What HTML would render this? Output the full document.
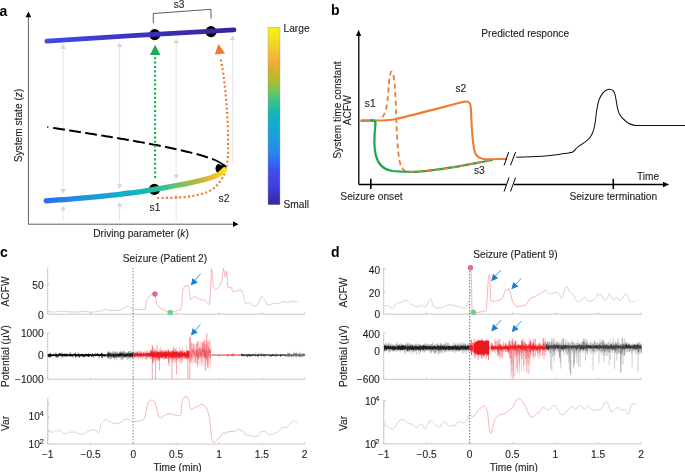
<!DOCTYPE html>
<html><head><meta charset="utf-8"><style>
html,body{margin:0;padding:0;background:#fff;width:685px;height:472px;overflow:hidden}
svg{display:block;font-family:"Liberation Sans", sans-serif;will-change:transform}
</style></head><body>
<svg width="685" height="472" viewBox="0 0 685 472">
<rect width="685" height="472" fill="#fff"/>
<text x="-0.5" y="15.8" font-size="14" text-anchor="start" font-weight="bold" fill="#000">a</text>
<line x1="28.4" y1="224" x2="28.4" y2="16" stroke="#606060" stroke-width="1"/>
<polygon points="25.6,17.2 28.4,11.6 31.2,17.2" fill="#000"/>
<line x1="28" y1="224.2" x2="234" y2="224.2" stroke="#606060" stroke-width="1"/>
<polygon points="233,221.3 238.6,224.2 233,227.1" fill="#000"/>
<text x="21.5" y="125.5" font-size="10.2" text-anchor="middle" font-weight="normal" fill="#231f20" stroke="#231f20" stroke-width="0.12" transform="rotate(-90 21.5 125.5)">System state (<tspan font-style="italic">z</tspan>)</text>
<text x="141" y="237.1" font-size="10.2" text-anchor="middle" font-weight="normal" fill="#231f20" stroke="#231f20" stroke-width="0.12">Driving parameter (<tspan font-style="italic">k</tspan>)</text>
<line x1="63.1" y1="48.1" x2="63.1" y2="189.7" stroke="#e6e6e6" stroke-width="1"/>
<polygon points="60.4,48.9 63.1,44.1 65.8,48.9" fill="#d6d6d6"/>
<polygon points="60.4,188.9 63.1,193.7 65.8,188.9" fill="#d6d6d6"/>
<line x1="63.1" y1="209.5" x2="63.1" y2="221" stroke="#e6e6e6" stroke-width="1"/>
<polygon points="60.4,210.3 63.1,205.5 65.8,210.3" fill="#d6d6d6"/>
<line x1="119.6" y1="46.2" x2="119.6" y2="184.9" stroke="#e6e6e6" stroke-width="1"/>
<polygon points="116.9,47 119.6,42.2 122.3,47" fill="#d6d6d6"/>
<polygon points="116.9,184.1 119.6,188.9 122.3,184.1" fill="#d6d6d6"/>
<line x1="119.6" y1="206" x2="119.6" y2="221" stroke="#e6e6e6" stroke-width="1"/>
<polygon points="116.9,206.8 119.6,202 122.3,206.8" fill="#d6d6d6"/>
<line x1="176.2" y1="42.5" x2="176.2" y2="175.2" stroke="#e6e6e6" stroke-width="1"/>
<polygon points="173.5,43.3 176.2,38.5 178.9,43.3" fill="#d6d6d6"/>
<polygon points="173.5,174.4 176.2,179.2 178.9,174.4" fill="#d6d6d6"/>
<line x1="176.2" y1="197.4" x2="176.2" y2="221" stroke="#e6e6e6" stroke-width="1"/>
<polygon points="173.5,198.2 176.2,193.4 178.9,198.2" fill="#d6d6d6"/>
<line x1="232.7" y1="39" x2="232.7" y2="163.5" stroke="#e6e6e6" stroke-width="1"/>
<polygon points="230,40.2 232.7,35.4 235.4,40.2" fill="#d6d6d6"/>
<defs>
<linearGradient id="gtop" gradientUnits="userSpaceOnUse" x1="46" y1="0" x2="234" y2="0">
<stop offset="0" stop-color="#3f4ae8"/><stop offset="0.5" stop-color="#3a32c0"/><stop offset="1" stop-color="#3a239c"/></linearGradient>
<linearGradient id="gbot" gradientUnits="userSpaceOnUse" x1="46" y1="0" x2="224" y2="0">
<stop offset="0" stop-color="#2a70f0"/><stop offset="0.19" stop-color="#2090e0"/><stop offset="0.36" stop-color="#14a8d0"/>
<stop offset="0.53" stop-color="#10b8b8"/><stop offset="0.61" stop-color="#28bca0"/><stop offset="0.7" stop-color="#50c080"/>
<stop offset="0.78" stop-color="#88c050"/><stop offset="0.865" stop-color="#c0b838"/><stop offset="0.93" stop-color="#f0b838"/>
<stop offset="1" stop-color="#f8e420"/></linearGradient>
<linearGradient id="gcb" x1="0" y1="0" x2="0" y2="1">
<stop offset="0" stop-color="#f5f514"/><stop offset="0.1" stop-color="#f0d428"/><stop offset="0.185" stop-color="#f6b038"/>
<stop offset="0.24" stop-color="#d8b02a"/><stop offset="0.3" stop-color="#b0bc30"/><stop offset="0.355" stop-color="#78c458"/>
<stop offset="0.4" stop-color="#48c480"/><stop offset="0.465" stop-color="#20b8a8"/><stop offset="0.52" stop-color="#10b0c8"/>
<stop offset="0.635" stop-color="#2098e0"/><stop offset="0.72" stop-color="#2a80f0"/><stop offset="0.8" stop-color="#4050f0"/>
<stop offset="0.89" stop-color="#4040e0"/><stop offset="0.96" stop-color="#3a30b8"/><stop offset="1" stop-color="#3828a0"/></linearGradient>
</defs>
<path d="M157.2 198 C175 198 195 197.5 209 191.4 C222 184 227 172 228 155 C229 120 225 80 220.5 57.5" fill="none" stroke="#ee7b30" stroke-width="2.2" stroke-dasharray="2 2.4"/>
<polygon points="214.7,54.6 218.5,44.1 225.1,53.4" fill="#ee7b30"/>
<circle cx="154.4" cy="189.4" r="5.6" fill="#000"/>
<circle cx="221" cy="168.5" r="5.5" fill="#000"/>
<circle cx="154.7" cy="34.6" r="5.6" fill="#000"/>
<circle cx="211" cy="31.6" r="5.6" fill="#000"/>
<path d="M47.40 127.00 47.93 127.09 48.26 127.14" fill="none" stroke="#000" stroke-width="2"/>
<path d="M53.18 127.92 53.87 128.03 54.56 128.13 55.27 128.25 56.00 128.36 56.74 128.47 57.49 128.59 58.26 128.71 59.04 128.83 59.83 128.95 60.63 129.08 61.45 129.20 62.28 129.33 63.12 129.46 63.97 129.59 64.84 129.73 64.84 129.73" fill="none" stroke="#000" stroke-width="2"/>
<path d="M69.16 130.39 70.09 130.53 71.03 130.68 71.98 130.83 72.94 130.98 73.91 131.13 74.89 131.28 75.89 131.43 76.89 131.59 77.90 131.75 78.91 131.90 79.94 132.06 80.87 132.21" fill="none" stroke="#000" stroke-width="2"/>
<path d="M85.20 132.89 86.28 133.06 87.36 133.23 88.45 133.40 89.55 133.57 90.66 133.75 91.77 133.93 92.89 134.10 94.01 134.28 95.14 134.46 96.28 134.65 96.85 134.74" fill="none" stroke="#000" stroke-width="2"/>
<path d="M101.22 135.44 102.39 135.63 103.56 135.82 104.73 136.01 105.91 136.21 107.09 136.40 108.28 136.59 109.46 136.79 110.66 136.99 111.85 137.19 112.81 137.35" fill="none" stroke="#000" stroke-width="2"/>
<path d="M117.15 138.07 118.36 138.28 119.58 138.48 120.79 138.69 122.01 138.90 123.23 139.10 124.44 139.31 125.67 139.52 126.89 139.74 128.11 139.95 128.84 140.08" fill="none" stroke="#000" stroke-width="2"/>
<path d="M133.12 140.83 134.35 141.04 135.57 141.26 136.79 141.48 138.01 141.70 139.23 141.92 140.45 142.14 141.67 142.36 142.89 142.58 144.10 142.81 144.71 142.92" fill="none" stroke="#000" stroke-width="2"/>
<path d="M149.06 143.73 150.26 143.95 151.46 144.18 152.65 144.41 153.85 144.64 155.04 144.87 156.22 145.10 157.40 145.33 158.58 145.56 159.75 145.79 160.69 145.97" fill="none" stroke="#000" stroke-width="2"/>
<path d="M164.97 146.83 166.12 147.07 167.26 147.30 168.39 147.54 169.52 147.77 170.64 148.01 171.76 148.24 172.87 148.48 173.97 148.72 175.07 148.95 176.16 149.19 176.48 149.26" fill="none" stroke="#000" stroke-width="2"/>
<path d="M180.86 150.24 181.91 150.48 182.95 150.72 183.98 150.95 185.00 151.19 186.01 151.43 187.01 151.67 188.01 151.91 188.99 152.15 189.97 152.39 190.93 152.63 191.89 152.87 192.27 152.97" fill="none" stroke="#000" stroke-width="2"/>
<path d="M196.51 154.07 197.40 154.31 198.28 154.55 199.14 154.79 200.00 155.03 200.84 155.27 201.68 155.51 202.49 155.75 203.30 155.99 204.09 156.23 204.88 156.47 205.64 156.71 206.40 156.95 207.14 157.19 207.86 157.43 207.86 157.43" fill="none" stroke="#000" stroke-width="2"/>
<path d="M211.99 158.88 212.61 159.11 213.22 159.35 213.82 159.59 214.39 159.82 214.95 160.06 215.50 160.29 216.03 160.53 216.54 160.76 217.04 160.99 217.52 161.23 217.98 161.46 218.42 161.69 218.85 161.92 219.26 162.15 219.65 162.38 220.03 162.61 220.38 162.84 220.72 163.07 221.04 163.30 221.34 163.53 221.62 163.75 221.88 163.98 222.12 164.21 222.35 164.43 222.37 164.45" fill="none" stroke="#fff" stroke-width="3.2"/>
<path d="M211.99 158.88 212.61 159.11 213.22 159.35 213.82 159.59 214.39 159.82 214.95 160.06 215.50 160.29 216.03 160.53 216.54 160.76 217.04 160.99 217.52 161.23 217.98 161.46 218.42 161.69 218.85 161.92 219.26 162.15 219.65 162.38 220.03 162.61 220.38 162.84 220.72 163.07 221.04 163.30 221.34 163.53 221.62 163.75 221.88 163.98 222.12 164.21 222.35 164.43 222.37 164.45" fill="none" stroke="#000" stroke-width="1.7"/>
<path d="M46.8 41.1 Q140 34.8 234 29.8" fill="none" stroke="url(#gtop)" stroke-width="4.8" stroke-linecap="round"/>
<path d="M46.2 200.8 C60.80 199.63 62.07 199.90 90.00 197.30 C117.93 194.70 108.47 195.63 130.00 193.00 C151.53 190.37 139.17 191.90 154.60 189.40 C170.03 186.90 160.30 188.63 176.30 185.50 C192.30 182.37 189.47 183.23 202.60 180.00 C215.73 176.77 209.40 178.30 215.70 175.80 C222.00 173.30 218.60 174.50 221.50 172.50 C224.40 170.50 223.43 170.70 224.40 169.80" fill="none" stroke="url(#gbot)" stroke-width="5.3" stroke-linecap="round"/>
<line x1="155.1" y1="178" x2="155.1" y2="56" stroke="#19ad52" stroke-width="2.2" stroke-dasharray="2 2.4"/>
<polygon points="149.9,55 155.1,44.8 160.4,55" fill="#19ad52"/>
<path d="M153.3 23.3 153.3 13.5 211 9.3 211 18.6" fill="none" stroke="#333" stroke-width="0.8" stroke-linejoin="round"/>
<text x="179.1" y="7.7" font-size="10.2" text-anchor="middle" font-weight="normal" fill="#231f20" stroke="#231f20" stroke-width="0.12">s3</text>
<text x="155" y="211" font-size="10.2" text-anchor="middle" font-weight="normal" fill="#231f20" stroke="#231f20" stroke-width="0.12">s1</text>
<text x="224" y="201.5" font-size="10.2" text-anchor="middle" font-weight="normal" fill="#231f20" stroke="#231f20" stroke-width="0.12">s2</text>
<rect x="268" y="27.2" width="12" height="177.6" fill="url(#gcb)" stroke="#999" stroke-width="0.4"/>
<text x="283.5" y="31.7" font-size="10.2" text-anchor="start" font-weight="normal" fill="#231f20" stroke="#231f20" stroke-width="0.12">Large</text>
<text x="283.5" y="207.7" font-size="10.2" text-anchor="start" font-weight="normal" fill="#231f20" stroke="#231f20" stroke-width="0.12">Small</text>
<text x="331" y="15.2" font-size="14" text-anchor="start" font-weight="bold" fill="#000">b</text>
<line x1="358.8" y1="184.5" x2="358.8" y2="35" stroke="#000" stroke-width="1.3"/>
<polygon points="356,36 358.6,29.8 361.2,36" fill="#000"/>
<line x1="358.8" y1="184.5" x2="506" y2="184.5" stroke="#000" stroke-width="1.3"/>
<line x1="514" y1="184.5" x2="664" y2="184.5" stroke="#000" stroke-width="1.3"/>
<polygon points="663,181.7 669.2,184.5 663,187.3" fill="#000"/>
<line x1="504.1" y1="191.5" x2="509" y2="177.5" stroke="#000" stroke-width="1"/>
<line x1="510.5" y1="191.5" x2="515.6" y2="177.5" stroke="#000" stroke-width="1"/>
<line x1="370.8" y1="178.8" x2="370.8" y2="189" stroke="#000" stroke-width="1.6"/>
<line x1="613.3" y1="178.8" x2="613.3" y2="189" stroke="#000" stroke-width="1.6"/>
<text x="341" y="110" font-size="10.2" text-anchor="middle" font-weight="normal" fill="#231f20" stroke="#231f20" stroke-width="0.12" transform="rotate(-90 341 110)">System time constant</text>
<text x="351.3" y="110.2" font-size="10.2" text-anchor="middle" font-weight="normal" fill="#231f20" stroke="#231f20" stroke-width="0.12" transform="rotate(-90 351.3 110.2)">ACFW</text>
<text x="525.2" y="37.1" font-size="10.2" text-anchor="middle" font-weight="normal" fill="#231f20" stroke="#231f20" stroke-width="0.12">Predicted responce</text>
<text x="371.5" y="199.7" font-size="10.2" text-anchor="middle" font-weight="normal" fill="#231f20" stroke="#231f20" stroke-width="0.12">Seizure onset</text>
<text x="613.3" y="199.5" font-size="10.2" text-anchor="middle" font-weight="normal" fill="#231f20" stroke="#231f20" stroke-width="0.12">Seizure termination</text>
<text x="637" y="180.4" font-size="10.2" text-anchor="start" font-weight="normal" fill="#231f20" stroke="#231f20" stroke-width="0.12">Time</text>
<text x="370.2" y="107.1" font-size="10.2" text-anchor="middle" font-weight="normal" fill="#231f20" stroke="#231f20" stroke-width="0.12">s1</text>
<text x="460.9" y="91.7" font-size="10.2" text-anchor="middle" font-weight="normal" fill="#231f20" stroke="#231f20" stroke-width="0.12">s2</text>
<text x="479.4" y="174.3" font-size="10.2" text-anchor="middle" font-weight="normal" fill="#231f20" stroke="#231f20" stroke-width="0.12">s3</text>
<path d="M361.5 120.7 L372.5 120.5 C375 120 375.8 121.5 375.4 125 C374.5 133 373.6 146 375.7 155 C378 164 383 169.6 392 171 C400 171.7 408 171.9 415 171.9 C445 170 470 164 492 160" fill="none" stroke="#1aa84a" stroke-width="2.2" stroke-linecap="round"/>
<path d="M361.5 120.7 L376 120.5 C384 120.4 389 120.2 395 119.2 C420 113.5 445 106.5 464.5 101.6 C469 100.8 470.8 103 471 110 C471.5 125 472.5 142 474.6 151.6 C476 157 479.5 159.2 486 159.2 L506 159" fill="none" stroke="#ee7b30" stroke-width="2.1" stroke-linecap="round"/>
<path d="M370 120.6 C373 120.2 375 120 375.4 123" fill="none" stroke="#1aa84a" stroke-width="2"/>
<path d="M382.6 117.2 C385 113 387 110 388.3 92 C389 80 390 71.7 391.6 71.7 C393.5 71.7 395 82 395.6 100 C396.5 125 397 150 400 163 C401.5 169 404 171.9 410 171.9 C440 171 470 164 492 160" fill="none" stroke="#ee7b30" stroke-width="1.8" stroke-dasharray="5 3.5"/>
<line x1="504.1" y1="165.4" x2="508.6" y2="152.1" stroke="#000" stroke-width="1"/>
<line x1="510.5" y1="165.4" x2="515.6" y2="152.1" stroke="#000" stroke-width="1"/>
<path d="M516.2 157.2 C535 156.8 550 156 560 154.2 C566 153.3 570 153 572.7 152 C575 150.5 576 148 578.6 146.4 C584 143 588 140.5 590.5 136.8 C593 133 594.5 130 595.5 120 C596.5 110 597.5 101 600.7 96.1 C603 92.5 606 89.3 609.2 89.3 C612.5 89.3 614.5 91.5 615.2 95 C616.5 101 617 109 619.3 113.9 C621 117 623 119 626 121.5 C629 123.8 631.5 125.4 636 125.4 L685 125.4" fill="none" stroke="#111" stroke-width="1.05"/>
<text x="0" y="256.8" font-size="14" text-anchor="start" font-weight="bold" fill="#000">c</text>
<text x="331" y="257.1" font-size="14" text-anchor="start" font-weight="bold" fill="#000">d</text>
<text x="165" y="261.9" font-size="10.2" text-anchor="middle" font-weight="normal" fill="#231f20" stroke="#231f20" stroke-width="0.12">Seizure (Patient 2)</text>
<text x="515.4" y="258.2" font-size="10.2" text-anchor="middle" font-weight="normal" fill="#231f20" stroke="#231f20" stroke-width="0.12">Seizure (Patient 9)</text>
<line x1="47.7" y1="267.4" x2="47.7" y2="314.2" stroke="#c9c9c9" stroke-width="1"/>
<line x1="47.7" y1="314.2" x2="304.7" y2="314.2" stroke="#c9c9c9" stroke-width="1"/>
<line x1="47.7" y1="314.2" x2="47.7" y2="312.2" stroke="#c9c9c9" stroke-width="0.8"/>
<line x1="90.5" y1="314.2" x2="90.5" y2="312.2" stroke="#c9c9c9" stroke-width="0.8"/>
<line x1="133.4" y1="314.2" x2="133.4" y2="312.2" stroke="#c9c9c9" stroke-width="0.8"/>
<line x1="176.2" y1="314.2" x2="176.2" y2="312.2" stroke="#c9c9c9" stroke-width="0.8"/>
<line x1="219" y1="314.2" x2="219" y2="312.2" stroke="#c9c9c9" stroke-width="0.8"/>
<line x1="261.9" y1="314.2" x2="261.9" y2="312.2" stroke="#c9c9c9" stroke-width="0.8"/>
<line x1="304.7" y1="314.2" x2="304.7" y2="312.2" stroke="#c9c9c9" stroke-width="0.8"/>
<line x1="47.7" y1="284.3" x2="49.8" y2="284.3" stroke="#c9c9c9" stroke-width="0.8"/>
<text x="43.6" y="288.8" font-size="10.2" text-anchor="end" font-weight="normal" fill="#231f20" stroke="#231f20" stroke-width="0.12">50</text>
<text x="43.6" y="318.6" font-size="10.2" text-anchor="end" font-weight="normal" fill="#231f20" stroke="#231f20" stroke-width="0.12">0</text>
<text x="8.6" y="291.5" font-size="10.2" text-anchor="middle" font-weight="normal" fill="#231f20" stroke="#231f20" stroke-width="0.12" transform="rotate(-90 8.6 291.5)">ACFW</text>
<line x1="47.7" y1="332.5" x2="47.7" y2="379.2" stroke="#c9c9c9" stroke-width="1"/>
<line x1="47.7" y1="379.2" x2="304.7" y2="379.2" stroke="#c9c9c9" stroke-width="1"/>
<line x1="47.7" y1="379.2" x2="47.7" y2="377.2" stroke="#c9c9c9" stroke-width="0.8"/>
<line x1="90.5" y1="379.2" x2="90.5" y2="377.2" stroke="#c9c9c9" stroke-width="0.8"/>
<line x1="133.4" y1="379.2" x2="133.4" y2="377.2" stroke="#c9c9c9" stroke-width="0.8"/>
<line x1="176.2" y1="379.2" x2="176.2" y2="377.2" stroke="#c9c9c9" stroke-width="0.8"/>
<line x1="219" y1="379.2" x2="219" y2="377.2" stroke="#c9c9c9" stroke-width="0.8"/>
<line x1="261.9" y1="379.2" x2="261.9" y2="377.2" stroke="#c9c9c9" stroke-width="0.8"/>
<line x1="304.7" y1="379.2" x2="304.7" y2="377.2" stroke="#c9c9c9" stroke-width="0.8"/>
<line x1="47.7" y1="332.7" x2="49.8" y2="332.7" stroke="#c9c9c9" stroke-width="0.8"/>
<line x1="47.7" y1="355" x2="49.8" y2="355" stroke="#c9c9c9" stroke-width="0.8"/>
<text x="43.6" y="336.9" font-size="10.2" text-anchor="end" font-weight="normal" fill="#231f20" stroke="#231f20" stroke-width="0.12">1000</text>
<text x="43.6" y="359.2" font-size="10.2" text-anchor="end" font-weight="normal" fill="#231f20" stroke="#231f20" stroke-width="0.12">0</text>
<text x="43.6" y="383.3" font-size="10.2" text-anchor="end" font-weight="normal" fill="#231f20" stroke="#231f20" stroke-width="0.12">−1000</text>
<text x="8.6" y="356" font-size="10.2" text-anchor="middle" font-weight="normal" fill="#231f20" stroke="#231f20" stroke-width="0.12" transform="rotate(-90 8.6 356)">Potential (µV)</text>
<line x1="47.7" y1="398.3" x2="47.7" y2="444.1" stroke="#c9c9c9" stroke-width="1"/>
<line x1="47.7" y1="444.1" x2="304.7" y2="444.1" stroke="#c9c9c9" stroke-width="1"/>
<line x1="47.7" y1="444.1" x2="47.7" y2="442.1" stroke="#c9c9c9" stroke-width="0.8"/>
<line x1="90.5" y1="444.1" x2="90.5" y2="442.1" stroke="#c9c9c9" stroke-width="0.8"/>
<line x1="133.4" y1="444.1" x2="133.4" y2="442.1" stroke="#c9c9c9" stroke-width="0.8"/>
<line x1="176.2" y1="444.1" x2="176.2" y2="442.1" stroke="#c9c9c9" stroke-width="0.8"/>
<line x1="219" y1="444.1" x2="219" y2="442.1" stroke="#c9c9c9" stroke-width="0.8"/>
<line x1="261.9" y1="444.1" x2="261.9" y2="442.1" stroke="#c9c9c9" stroke-width="0.8"/>
<line x1="304.7" y1="444.1" x2="304.7" y2="442.1" stroke="#c9c9c9" stroke-width="0.8"/>
<line x1="47.7" y1="416.3" x2="49.8" y2="416.3" stroke="#c9c9c9" stroke-width="0.8"/>
<text x="39.9" y="420" font-size="10.2" text-anchor="end" font-weight="normal" fill="#231f20" stroke="#231f20" stroke-width="0.12">10</text>
<text x="39.5" y="416.1" font-size="8" text-anchor="start" font-weight="normal" fill="#231f20" stroke="#231f20" stroke-width="0.12">4</text>
<text x="39.9" y="447.8" font-size="10.2" text-anchor="end" font-weight="normal" fill="#231f20" stroke="#231f20" stroke-width="0.12">10</text>
<text x="39.5" y="444" font-size="8" text-anchor="start" font-weight="normal" fill="#231f20" stroke="#231f20" stroke-width="0.12">2</text>
<text x="8.6" y="423.4" font-size="10.2" text-anchor="middle" font-weight="normal" fill="#231f20" stroke="#231f20" stroke-width="0.12" transform="rotate(-90 8.6 423.4)">Var</text>
<text x="47.7" y="457.5" font-size="10.2" text-anchor="middle" font-weight="normal" fill="#231f20" stroke="#231f20" stroke-width="0.12">−1</text>
<text x="90.5" y="457.5" font-size="10.2" text-anchor="middle" font-weight="normal" fill="#231f20" stroke="#231f20" stroke-width="0.12">−0.5</text>
<text x="133.4" y="457.5" font-size="10.2" text-anchor="middle" font-weight="normal" fill="#231f20" stroke="#231f20" stroke-width="0.12">0</text>
<text x="176.2" y="457.5" font-size="10.2" text-anchor="middle" font-weight="normal" fill="#231f20" stroke="#231f20" stroke-width="0.12">0.5</text>
<text x="219" y="457.5" font-size="10.2" text-anchor="middle" font-weight="normal" fill="#231f20" stroke="#231f20" stroke-width="0.12">1</text>
<text x="261.9" y="457.5" font-size="10.2" text-anchor="middle" font-weight="normal" fill="#231f20" stroke="#231f20" stroke-width="0.12">1.5</text>
<text x="304.7" y="457.5" font-size="10.2" text-anchor="middle" font-weight="normal" fill="#231f20" stroke="#231f20" stroke-width="0.12">2</text>
<text x="177.6" y="470.8" font-size="10.2" text-anchor="middle" font-weight="normal" fill="#231f20" stroke="#231f20" stroke-width="0.12">Time (min)</text>
<line x1="383.7" y1="267.4" x2="383.7" y2="314.2" stroke="#c9c9c9" stroke-width="1"/>
<line x1="383.7" y1="314.2" x2="641.5" y2="314.2" stroke="#c9c9c9" stroke-width="1"/>
<line x1="383.7" y1="314.2" x2="383.7" y2="312.2" stroke="#c9c9c9" stroke-width="0.8"/>
<line x1="426.6" y1="314.2" x2="426.6" y2="312.2" stroke="#c9c9c9" stroke-width="0.8"/>
<line x1="469.5" y1="314.2" x2="469.5" y2="312.2" stroke="#c9c9c9" stroke-width="0.8"/>
<line x1="512.4" y1="314.2" x2="512.4" y2="312.2" stroke="#c9c9c9" stroke-width="0.8"/>
<line x1="555.3" y1="314.2" x2="555.3" y2="312.2" stroke="#c9c9c9" stroke-width="0.8"/>
<line x1="598.2" y1="314.2" x2="598.2" y2="312.2" stroke="#c9c9c9" stroke-width="0.8"/>
<line x1="641.1" y1="314.2" x2="641.1" y2="312.2" stroke="#c9c9c9" stroke-width="0.8"/>
<line x1="383.7" y1="268.9" x2="385.8" y2="268.9" stroke="#c9c9c9" stroke-width="0.8"/>
<line x1="383.7" y1="291.5" x2="385.8" y2="291.5" stroke="#c9c9c9" stroke-width="0.8"/>
<text x="380.2" y="273.9" font-size="10.2" text-anchor="end" font-weight="normal" fill="#231f20" stroke="#231f20" stroke-width="0.12">40</text>
<text x="380.2" y="296.6" font-size="10.2" text-anchor="end" font-weight="normal" fill="#231f20" stroke="#231f20" stroke-width="0.12">20</text>
<text x="380.2" y="318.3" font-size="10.2" text-anchor="end" font-weight="normal" fill="#231f20" stroke="#231f20" stroke-width="0.12">0</text>
<text x="346.6" y="292.5" font-size="10.2" text-anchor="middle" font-weight="normal" fill="#231f20" stroke="#231f20" stroke-width="0.12" transform="rotate(-90 346.6 292.5)">ACFW</text>
<line x1="383.7" y1="332.5" x2="383.7" y2="379.3" stroke="#c9c9c9" stroke-width="1"/>
<line x1="383.7" y1="379.3" x2="641.5" y2="379.3" stroke="#c9c9c9" stroke-width="1"/>
<line x1="383.7" y1="379.3" x2="383.7" y2="377.3" stroke="#c9c9c9" stroke-width="0.8"/>
<line x1="426.6" y1="379.3" x2="426.6" y2="377.3" stroke="#c9c9c9" stroke-width="0.8"/>
<line x1="469.5" y1="379.3" x2="469.5" y2="377.3" stroke="#c9c9c9" stroke-width="0.8"/>
<line x1="512.4" y1="379.3" x2="512.4" y2="377.3" stroke="#c9c9c9" stroke-width="0.8"/>
<line x1="555.3" y1="379.3" x2="555.3" y2="377.3" stroke="#c9c9c9" stroke-width="0.8"/>
<line x1="598.2" y1="379.3" x2="598.2" y2="377.3" stroke="#c9c9c9" stroke-width="0.8"/>
<line x1="641.1" y1="379.3" x2="641.1" y2="377.3" stroke="#c9c9c9" stroke-width="0.8"/>
<line x1="383.7" y1="332.7" x2="385.8" y2="332.7" stroke="#c9c9c9" stroke-width="0.8"/>
<line x1="383.7" y1="350.8" x2="385.8" y2="350.8" stroke="#c9c9c9" stroke-width="0.8"/>
<text x="379.8" y="337.5" font-size="10.2" text-anchor="end" font-weight="normal" fill="#231f20" stroke="#231f20" stroke-width="0.12">400</text>
<text x="379.8" y="355" font-size="10.2" text-anchor="end" font-weight="normal" fill="#231f20" stroke="#231f20" stroke-width="0.12">0</text>
<text x="379.8" y="383.4" font-size="10.2" text-anchor="end" font-weight="normal" fill="#231f20" stroke="#231f20" stroke-width="0.12">−600</text>
<text x="346.6" y="356" font-size="10.2" text-anchor="middle" font-weight="normal" fill="#231f20" stroke="#231f20" stroke-width="0.12" transform="rotate(-90 346.6 356)">Potential (µV)</text>
<line x1="383.7" y1="400.5" x2="383.7" y2="443.9" stroke="#c9c9c9" stroke-width="1"/>
<line x1="383.7" y1="443.9" x2="641.5" y2="443.9" stroke="#c9c9c9" stroke-width="1"/>
<line x1="383.7" y1="443.9" x2="383.7" y2="441.9" stroke="#c9c9c9" stroke-width="0.8"/>
<line x1="426.6" y1="443.9" x2="426.6" y2="441.9" stroke="#c9c9c9" stroke-width="0.8"/>
<line x1="469.5" y1="443.9" x2="469.5" y2="441.9" stroke="#c9c9c9" stroke-width="0.8"/>
<line x1="512.4" y1="443.9" x2="512.4" y2="441.9" stroke="#c9c9c9" stroke-width="0.8"/>
<line x1="555.3" y1="443.9" x2="555.3" y2="441.9" stroke="#c9c9c9" stroke-width="0.8"/>
<line x1="598.2" y1="443.9" x2="598.2" y2="441.9" stroke="#c9c9c9" stroke-width="0.8"/>
<line x1="641.1" y1="443.9" x2="641.1" y2="441.9" stroke="#c9c9c9" stroke-width="0.8"/>
<line x1="383.7" y1="400.5" x2="385.8" y2="400.5" stroke="#c9c9c9" stroke-width="0.8"/>
<text x="376.3" y="405.1" font-size="10.2" text-anchor="end" font-weight="normal" fill="#231f20" stroke="#231f20" stroke-width="0.12">10</text>
<text x="375" y="401.4" font-size="8" text-anchor="start" font-weight="normal" fill="#231f20" stroke="#231f20" stroke-width="0.12">4</text>
<text x="376.3" y="448.1" font-size="10.2" text-anchor="end" font-weight="normal" fill="#231f20" stroke="#231f20" stroke-width="0.12">10</text>
<text x="375" y="443.7" font-size="8" text-anchor="start" font-weight="normal" fill="#231f20" stroke="#231f20" stroke-width="0.12">2</text>
<text x="346.6" y="423.4" font-size="10.2" text-anchor="middle" font-weight="normal" fill="#231f20" stroke="#231f20" stroke-width="0.12" transform="rotate(-90 346.6 423.4)">Var</text>
<text x="383.7" y="457.5" font-size="10.2" text-anchor="middle" font-weight="normal" fill="#231f20" stroke="#231f20" stroke-width="0.12">−1</text>
<text x="426.6" y="457.5" font-size="10.2" text-anchor="middle" font-weight="normal" fill="#231f20" stroke="#231f20" stroke-width="0.12">−0.5</text>
<text x="469.5" y="457.5" font-size="10.2" text-anchor="middle" font-weight="normal" fill="#231f20" stroke="#231f20" stroke-width="0.12">0</text>
<text x="512.4" y="457.5" font-size="10.2" text-anchor="middle" font-weight="normal" fill="#231f20" stroke="#231f20" stroke-width="0.12">0.5</text>
<text x="555.3" y="457.5" font-size="10.2" text-anchor="middle" font-weight="normal" fill="#231f20" stroke="#231f20" stroke-width="0.12">1</text>
<text x="598.2" y="457.5" font-size="10.2" text-anchor="middle" font-weight="normal" fill="#231f20" stroke="#231f20" stroke-width="0.12">1.5</text>
<text x="641.1" y="457.5" font-size="10.2" text-anchor="middle" font-weight="normal" fill="#231f20" stroke="#231f20" stroke-width="0.12">2</text>
<text x="513.8" y="470.6" font-size="10.2" text-anchor="middle" font-weight="normal" fill="#231f20" stroke="#231f20" stroke-width="0.12">Time (min)</text>
<line x1="47.7" y1="443.6" x2="49.9" y2="443.6" stroke="#cfcfcf" stroke-width="0.6"/>
<line x1="47.7" y1="439.5" x2="49" y2="439.5" stroke="#cfcfcf" stroke-width="0.6"/>
<line x1="47.7" y1="437.1" x2="49" y2="437.1" stroke="#cfcfcf" stroke-width="0.6"/>
<line x1="47.7" y1="435.4" x2="49" y2="435.4" stroke="#cfcfcf" stroke-width="0.6"/>
<line x1="47.7" y1="434.1" x2="49" y2="434.1" stroke="#cfcfcf" stroke-width="0.6"/>
<line x1="47.7" y1="433" x2="49" y2="433" stroke="#cfcfcf" stroke-width="0.6"/>
<line x1="47.7" y1="432.1" x2="49" y2="432.1" stroke="#cfcfcf" stroke-width="0.6"/>
<line x1="47.7" y1="431.3" x2="49" y2="431.3" stroke="#cfcfcf" stroke-width="0.6"/>
<line x1="47.7" y1="430.6" x2="49" y2="430.6" stroke="#cfcfcf" stroke-width="0.6"/>
<line x1="47.7" y1="430" x2="49.9" y2="430" stroke="#cfcfcf" stroke-width="0.6"/>
<line x1="47.7" y1="425.8" x2="49" y2="425.8" stroke="#cfcfcf" stroke-width="0.6"/>
<line x1="47.7" y1="423.4" x2="49" y2="423.4" stroke="#cfcfcf" stroke-width="0.6"/>
<line x1="47.7" y1="421.7" x2="49" y2="421.7" stroke="#cfcfcf" stroke-width="0.6"/>
<line x1="47.7" y1="420.4" x2="49" y2="420.4" stroke="#cfcfcf" stroke-width="0.6"/>
<line x1="47.7" y1="419.3" x2="49" y2="419.3" stroke="#cfcfcf" stroke-width="0.6"/>
<line x1="47.7" y1="418.4" x2="49" y2="418.4" stroke="#cfcfcf" stroke-width="0.6"/>
<line x1="47.7" y1="417.6" x2="49" y2="417.6" stroke="#cfcfcf" stroke-width="0.6"/>
<line x1="47.7" y1="416.9" x2="49" y2="416.9" stroke="#cfcfcf" stroke-width="0.6"/>
<line x1="47.7" y1="416.3" x2="49.9" y2="416.3" stroke="#cfcfcf" stroke-width="0.6"/>
<line x1="47.7" y1="412.2" x2="49" y2="412.2" stroke="#cfcfcf" stroke-width="0.6"/>
<line x1="47.7" y1="409.8" x2="49" y2="409.8" stroke="#cfcfcf" stroke-width="0.6"/>
<line x1="47.7" y1="408.1" x2="49" y2="408.1" stroke="#cfcfcf" stroke-width="0.6"/>
<line x1="47.7" y1="406.8" x2="49" y2="406.8" stroke="#cfcfcf" stroke-width="0.6"/>
<line x1="47.7" y1="405.7" x2="49" y2="405.7" stroke="#cfcfcf" stroke-width="0.6"/>
<line x1="47.7" y1="404.8" x2="49" y2="404.8" stroke="#cfcfcf" stroke-width="0.6"/>
<line x1="47.7" y1="404" x2="49" y2="404" stroke="#cfcfcf" stroke-width="0.6"/>
<line x1="47.7" y1="403.3" x2="49" y2="403.3" stroke="#cfcfcf" stroke-width="0.6"/>
<line x1="47.7" y1="402.7" x2="49.9" y2="402.7" stroke="#cfcfcf" stroke-width="0.6"/>
<line x1="47.7" y1="398.5" x2="49" y2="398.5" stroke="#cfcfcf" stroke-width="0.6"/>
<line x1="383.7" y1="443.6" x2="385.9" y2="443.6" stroke="#cfcfcf" stroke-width="0.6"/>
<line x1="383.7" y1="437.1" x2="385" y2="437.1" stroke="#cfcfcf" stroke-width="0.6"/>
<line x1="383.7" y1="433.3" x2="385" y2="433.3" stroke="#cfcfcf" stroke-width="0.6"/>
<line x1="383.7" y1="430.6" x2="385" y2="430.6" stroke="#cfcfcf" stroke-width="0.6"/>
<line x1="383.7" y1="428.5" x2="385" y2="428.5" stroke="#cfcfcf" stroke-width="0.6"/>
<line x1="383.7" y1="426.8" x2="385" y2="426.8" stroke="#cfcfcf" stroke-width="0.6"/>
<line x1="383.7" y1="425.4" x2="385" y2="425.4" stroke="#cfcfcf" stroke-width="0.6"/>
<line x1="383.7" y1="424.1" x2="385" y2="424.1" stroke="#cfcfcf" stroke-width="0.6"/>
<line x1="383.7" y1="423" x2="385" y2="423" stroke="#cfcfcf" stroke-width="0.6"/>
<line x1="383.7" y1="422.1" x2="385.9" y2="422.1" stroke="#cfcfcf" stroke-width="0.6"/>
<line x1="383.7" y1="415.6" x2="385" y2="415.6" stroke="#cfcfcf" stroke-width="0.6"/>
<line x1="383.7" y1="411.8" x2="385" y2="411.8" stroke="#cfcfcf" stroke-width="0.6"/>
<line x1="383.7" y1="409.1" x2="385" y2="409.1" stroke="#cfcfcf" stroke-width="0.6"/>
<line x1="383.7" y1="407" x2="385" y2="407" stroke="#cfcfcf" stroke-width="0.6"/>
<line x1="383.7" y1="405.3" x2="385" y2="405.3" stroke="#cfcfcf" stroke-width="0.6"/>
<line x1="383.7" y1="403.8" x2="385" y2="403.8" stroke="#cfcfcf" stroke-width="0.6"/>
<line x1="383.7" y1="402.6" x2="385" y2="402.6" stroke="#cfcfcf" stroke-width="0.6"/>
<line x1="383.7" y1="401.5" x2="385" y2="401.5" stroke="#cfcfcf" stroke-width="0.6"/>
<line x1="383.7" y1="400.5" x2="385.9" y2="400.5" stroke="#cfcfcf" stroke-width="0.6"/>
<line x1="133.1" y1="268" x2="133.1" y2="444" stroke="#707070" stroke-width="0.9" stroke-dasharray="1.4 1.6"/>
<line x1="469.7" y1="268" x2="469.7" y2="444" stroke="#555" stroke-width="0.9" stroke-dasharray="1.4 1.6"/>
<path d="M47.6 311.2 C48.7 311.4 52.5 312.1 54.2 312.1 C56.0 312.1 56.0 311.3 58.1 311.2 C60.2 311.1 63.9 311.5 67.0 311.6 C70.1 311.8 73.6 312.2 76.5 312.1 C79.4 312.1 82.0 311.3 84.4 311.3 C86.8 311.3 88.8 312.3 91.0 312.3 C93.2 312.3 95.8 311.6 97.6 311.4 C99.3 311.1 100.3 311.2 101.5 310.8 C102.7 310.4 103.5 309.2 104.8 309.2 C106.1 309.1 107.3 310.3 109.4 310.5 C111.5 310.7 115.2 310.7 117.3 310.5 C119.4 310.3 120.7 309.7 121.9 309.2 C123.1 308.7 123.5 307.9 124.5 307.5 C125.5 307.1 126.8 306.6 127.8 306.6 C128.8 306.6 129.5 307.2 130.4 307.5 C131.3 307.8 132.6 308.4 133.0 308.6" fill="none" stroke="#b8b8b8" stroke-width="0.6" stroke-opacity="1.0" stroke-linejoin="round"/>
<path d="M133.0 308.9 C133.3 308.9 136.3 309.4 137.1 309.4 C137.9 309.4 144.2 310.0 144.8 309.4 C145.4 308.8 146.4 301.4 146.6 300.6 C146.8 299.8 148.1 298.0 148.4 297.6 C148.7 297.2 150.4 294.9 150.8 294.6 C151.2 294.3 153.4 293.3 153.7 293.4 C154.0 293.5 155.3 295.7 155.5 296.4 C155.7 297.1 156.3 302.7 156.7 303.5 C157.1 304.3 160.4 308.5 160.8 308.9 C161.2 309.3 162.8 309.2 163.2 309.4 C163.6 309.6 166.3 311.4 166.8 311.6 C167.3 311.8 169.7 312.4 170.3 312.4 C170.9 312.4 174.4 311.4 175.1 311.2 C175.8 311.0 180.0 310.4 180.4 310.0 C180.8 309.6 181.4 306.0 181.6 304.7 C181.8 303.4 182.6 291.7 182.8 290.5 C183.0 289.3 184.2 286.6 184.6 286.3 C185.0 286.0 188.3 285.4 188.7 286.3 C189.1 287.2 190.1 298.7 190.5 299.4 C190.9 300.1 193.5 296.5 194.1 296.5 C194.7 296.5 198.3 298.8 199.1 299.1 C199.9 299.4 205.0 300.3 205.7 300.6 C206.4 300.9 209.3 306.3 209.7 304.2 C210.1 302.1 211.3 269.8 211.5 268.6 C211.7 267.4 213.0 285.0 213.3 286.4 C213.6 287.8 215.3 289.7 215.8 289.6 C216.3 289.5 220.0 285.6 220.4 284.9 C220.8 284.2 221.7 280.9 221.9 279.8 C222.1 278.7 223.3 268.5 223.5 268.3 C223.7 268.1 225.1 277.0 225.3 277.2 C225.5 277.4 226.5 270.5 226.7 271.1 C226.9 271.7 227.7 285.8 228.0 286.9 C228.3 288.0 230.8 287.1 231.1 287.4 C231.4 287.7 232.8 291.8 233.1 292.0 C233.4 292.2 234.9 290.5 235.1 290.5 C235.3 290.5 236.4 291.6 236.7 291.5 C237.0 291.4 239.4 289.7 239.7 289.6 C240.0 289.5 241.6 290.4 241.7 290.5" fill="none" stroke="#ee8484" stroke-width="0.6" stroke-opacity="1.0" stroke-linejoin="round"/>
<path d="M241.7 290.5 C242.0 291.5 243.0 294.1 243.7 296.3 C244.4 298.6 244.8 303.1 245.7 304.0 C246.6 304.9 248.2 301.8 249.3 302.0 C250.4 302.2 251.0 304.4 252.4 305.0 C253.8 305.6 256.1 306.7 257.5 305.3 C258.9 303.9 260.1 298.2 261.0 296.9 C261.9 295.6 261.7 296.5 262.6 297.4 C263.5 298.2 265.4 300.7 266.2 302.0 C267.0 303.3 266.4 304.8 267.7 305.0 C269.0 305.2 271.9 303.8 273.8 303.5 C275.7 303.2 277.4 303.6 278.9 303.3 C280.4 303.0 281.5 301.6 283.0 301.5 C284.5 301.4 286.6 302.6 288.1 302.5 C289.6 302.4 290.6 301.3 292.2 301.2 C293.8 301.1 296.9 301.9 297.8 302.0" fill="none" stroke="#b8b8b8" stroke-width="0.6" stroke-opacity="1.0" stroke-linejoin="round"/>
<circle cx="154.9" cy="294" r="2.7" fill="#e06a8c"/>
<circle cx="170.3" cy="312.4" r="2.7" fill="#6ccf8f"/>
<path d="M383.7 305.7 C384.4 305.7 386.5 305.3 387.9 305.7 C389.3 306.1 390.9 308.7 392.3 308.3 C393.8 307.9 395.2 304.5 396.6 303.5 C398.1 302.5 399.4 302.9 401.0 302.4 C402.6 301.8 404.7 299.8 406.5 300.2 C408.3 300.6 410.2 303.5 412.0 304.6 C413.8 305.7 415.8 306.7 417.4 306.8 C419.0 306.9 420.4 305.2 421.8 305.2 C423.2 305.2 424.0 307.8 425.5 306.8 C427.0 305.8 429.2 299.1 430.6 299.1 C432.0 299.1 432.3 305.3 433.9 306.8 C435.5 308.3 438.2 308.2 440.4 307.9 C442.6 307.6 444.8 305.6 447.0 305.2 C449.2 304.8 451.4 304.8 453.6 305.2 C455.8 305.6 458.0 306.8 460.0 307.3 C462.0 307.8 464.5 309.0 465.8 308.0 C467.1 307.0 467.4 303.0 468.0 301.4 C468.6 299.8 469.1 300.4 469.5 298.5 C469.9 296.6 470.3 291.4 470.5 290.0" fill="none" stroke="#b8b8b8" stroke-width="0.6" stroke-opacity="1.0" stroke-linejoin="round"/>
<path d="M471.0 267.8 C471.0 269.3 471.6 287.0 471.7 290.0 C471.8 293.0 471.7 311.0 472.4 312.4 C473.1 313.8 481.0 311.8 481.9 311.6 C482.8 311.4 485.9 311.7 486.3 309.4 C486.7 307.1 488.3 278.8 488.5 276.6 C488.7 274.4 489.8 275.0 489.9 276.6 C490.0 278.2 490.5 298.3 490.7 300.0 C490.9 301.7 492.3 301.4 492.8 301.4 C493.3 301.4 497.4 300.9 498.0 300.7 C498.6 300.5 501.9 299.0 502.3 298.5 C502.7 298.0 504.3 293.3 504.5 292.7 C504.7 292.1 505.8 289.1 506.0 289.0 C506.2 288.9 507.2 290.5 507.4 290.5 C507.6 290.5 508.7 288.2 508.9 288.3 C509.1 288.4 510.2 291.8 510.4 292.7 C510.6 293.6 512.2 300.5 512.6 301.4 C513.0 302.3 515.5 306.2 516.2 306.5 C516.9 306.8 522.1 305.9 522.8 305.8 C523.5 305.7 525.9 304.8 526.4 304.3 C526.9 303.8 529.5 299.0 530.1 298.5 C530.7 298.0 535.2 296.6 535.9 296.3 C536.6 296.0 539.6 293.8 540.3 293.4 C541.0 293.0 545.4 290.5 545.8 290.3" fill="none" stroke="#ee8484" stroke-width="0.6" stroke-opacity="1.0" stroke-linejoin="round"/>
<path d="M545.8 290.3 C546.5 290.9 548.6 293.6 550.2 294.0 C551.8 294.4 553.8 292.5 555.3 292.5 C556.8 292.5 557.9 293.0 559.0 294.0 C560.1 295.0 560.9 299.1 561.9 298.4 C562.9 297.7 563.9 291.6 564.8 289.6 C565.6 287.6 566.3 286.1 567.0 286.4 C567.7 286.6 568.1 289.6 569.2 291.1 C570.3 292.6 572.3 293.7 573.6 295.4 C574.9 297.1 575.8 300.7 577.2 301.3 C578.7 301.9 581.1 299.8 582.3 299.1 C583.5 298.4 583.8 297.1 584.5 297.2 C585.2 297.3 585.7 299.1 586.7 299.8 C587.7 300.5 588.9 301.5 590.4 301.3 C591.9 301.1 594.3 299.6 595.5 298.4 C596.7 297.2 597.0 294.5 597.7 294.0 C598.4 293.5 599.3 295.3 599.9 295.4 C600.5 295.4 600.7 293.6 601.3 294.3 C601.9 295.0 602.5 299.0 603.5 299.8 C604.5 300.6 606.2 300.1 607.2 299.1 C608.2 298.1 608.3 293.6 609.3 293.7 C610.3 293.8 611.8 299.1 613.0 299.8 C614.2 300.5 615.4 297.5 616.6 297.6 C617.8 297.7 618.7 301.1 620.3 300.5 C621.9 299.9 624.4 293.8 626.1 294.0 C627.8 294.2 628.9 300.9 630.5 302.0 C632.1 303.1 634.8 300.8 635.6 300.5" fill="none" stroke="#b8b8b8" stroke-width="0.6" stroke-opacity="1.0" stroke-linejoin="round"/>
<circle cx="470.4" cy="267.8" r="2.7" fill="#e06a8c"/>
<circle cx="473.4" cy="312.3" r="2.7" fill="#6ccf8f"/>
<path d="M47.7 430.8 C48.6 431.0 51.9 432.3 53.3 432.2 C54.7 432.1 55.3 430.2 56.1 430.1 C56.9 430.0 57.5 431.5 58.2 431.5 C58.9 431.5 59.5 429.9 60.3 430.1 C61.1 430.3 62.0 432.3 63.0 432.9 C64.0 433.5 65.5 433.7 66.5 433.6 C67.5 433.5 67.8 432.4 69.3 432.2 C70.8 432.0 74.0 432.0 75.5 432.2 C77.0 432.4 77.1 432.9 78.3 433.3 C79.5 433.7 81.0 434.5 82.4 434.3 C83.8 434.1 85.2 432.9 86.6 432.2 C88.0 431.5 89.2 430.4 90.8 430.1 C92.4 429.8 94.9 430.1 96.3 430.5 C97.7 430.9 98.3 433.6 99.1 432.5 C99.9 431.4 100.0 426.0 101.2 423.9 C102.4 421.8 104.7 420.2 106.0 419.7 C107.3 419.2 107.0 420.4 108.8 421.1 C110.6 421.8 114.5 424.1 117.1 423.9 C119.6 423.7 122.2 420.4 124.1 419.7 C125.9 418.9 126.8 419.0 128.2 419.4 C129.6 419.8 131.9 421.4 132.6 421.8" fill="none" stroke="#b8b8b8" stroke-width="0.6" stroke-opacity="1.0" stroke-linejoin="round"/>
<path d="M132.8 421.9 C134.7 421.4 141.6 421.4 143.9 419.1 C146.2 416.8 145.7 411.0 146.6 408.0 C147.5 405.0 148.2 402.4 149.4 401.1 C150.6 399.9 152.4 399.6 153.6 400.5 C154.8 401.4 155.7 404.4 156.4 406.6 C157.1 408.8 157.0 411.8 157.7 413.6 C158.4 415.5 158.7 417.7 160.5 417.7 C162.3 417.7 165.6 414.0 168.8 413.6 C172.0 413.2 177.8 417.0 179.9 415.5 C182.0 414.0 181.1 407.4 181.6 404.5 C182.1 401.6 182.5 399.4 183.2 398.2 C183.9 397.0 184.9 397.0 185.8 397.1 C186.7 397.2 187.8 396.9 188.5 398.7 C189.2 400.5 189.6 405.9 190.1 407.7 C190.6 409.5 190.9 409.3 191.7 409.3 C192.5 409.3 193.7 408.0 194.8 407.5 C196.0 407.0 197.5 406.6 198.6 406.1 C199.7 405.6 200.1 404.3 201.2 404.3 C202.2 404.3 203.8 405.0 204.9 406.1 C206.0 407.2 206.8 408.7 207.6 410.9 C208.4 413.1 209.2 416.2 209.7 419.4 C210.2 422.6 210.5 426.6 210.8 430.0 C211.2 433.4 211.3 437.4 211.8 439.5 C212.3 441.6 213.2 442.5 213.9 442.7 C214.6 442.9 215.0 441.6 216.1 440.6 C217.2 439.6 219.2 438.1 220.3 436.9 C221.4 435.7 222.2 433.8 222.9 433.2 C223.6 432.6 223.7 433.6 224.5 433.4 C225.3 433.2 226.8 432.4 227.7 432.1 C228.6 431.8 228.9 431.8 229.8 431.6 C230.7 431.4 232.1 431.1 233.0 431.1 C233.9 431.1 234.3 432.0 235.1 431.6 C235.9 431.2 237.2 429.3 237.8 428.8 C238.4 428.3 238.4 428.7 238.5 428.7" fill="none" stroke="#ee8484" stroke-width="0.6" stroke-opacity="1.0" stroke-linejoin="round"/>
<path d="M238.5 428.7 C238.9 429.0 240.1 429.8 241.0 430.3 C241.9 430.8 243.0 431.0 243.8 431.9 C244.6 432.8 245.0 434.8 246.0 435.4 C247.0 436.0 248.7 435.2 249.8 435.4 C250.9 435.6 251.1 436.5 252.5 436.5 C253.9 436.5 257.1 436.2 258.5 435.4 C259.9 434.6 259.5 432.5 260.7 431.9 C261.9 431.3 264.5 431.3 265.7 431.7 C266.9 432.1 266.8 433.9 267.9 434.3 C269.0 434.7 270.4 434.9 272.2 434.3 C274.0 433.8 277.1 432.1 278.8 431.0 C280.5 429.9 280.6 428.2 282.1 427.5 C283.6 426.8 285.9 428.0 287.6 427.0 C289.3 426.0 291.3 422.5 292.5 421.5 C293.7 420.5 293.9 421.0 294.7 421.2 C295.5 421.4 296.9 422.4 297.4 422.6" fill="none" stroke="#b8b8b8" stroke-width="0.6" stroke-opacity="1.0" stroke-linejoin="round"/>
<path d="M383.9 424.9 C384.3 425.0 385.3 425.0 386.6 425.7 C387.9 426.4 390.4 428.9 391.7 429.3 C393.0 429.7 393.8 428.8 394.6 427.8 C395.5 426.8 395.8 424.8 396.8 423.5 C397.8 422.2 399.1 420.3 400.4 419.8 C401.7 419.3 403.4 419.9 404.8 420.5 C406.2 421.1 407.3 422.9 408.5 423.5 C409.7 424.1 410.8 423.6 412.1 424.2 C413.4 424.8 415.2 427.4 416.5 427.4 C417.8 427.4 419.0 424.5 420.1 424.2 C421.2 423.9 422.2 424.6 423.1 425.4 C424.0 426.2 424.1 429.7 425.3 428.9 C426.5 428.1 428.7 421.2 430.4 420.5 C432.1 419.8 433.9 423.8 435.5 424.9 C437.1 426.0 438.7 427.5 439.9 427.1 C441.1 426.7 441.7 423.4 442.8 422.7 C443.9 422.0 445.4 422.1 446.4 422.7 C447.4 423.3 447.5 425.9 448.6 426.4 C449.7 426.8 451.8 425.6 453.0 425.4 C454.2 425.1 454.9 425.5 455.9 424.9 C456.9 424.3 457.2 422.4 458.8 422.0 C460.4 421.6 463.8 423.7 465.4 422.7 C467.0 421.7 467.6 417.6 468.3 416.2 C469.0 414.8 469.5 414.4 469.7 414.0" fill="none" stroke="#b8b8b8" stroke-width="0.6" stroke-opacity="1.0" stroke-linejoin="round"/>
<path d="M469.7 414.0 C470.3 414.5 472.0 417.4 473.4 416.9 C474.8 416.4 476.3 412.6 478.0 410.8 C479.7 409.0 482.1 405.9 483.7 406.1 C485.3 406.4 486.3 407.8 487.4 412.3 C488.5 416.9 489.1 432.1 490.4 433.4 C491.6 434.6 493.3 422.9 494.9 419.8 C496.5 416.7 498.1 415.8 499.8 414.8 C501.5 413.8 502.7 414.8 504.8 413.6 C506.9 412.4 509.9 409.9 512.2 407.4 C514.5 404.9 516.3 399.1 518.4 398.7 C520.5 398.3 522.5 401.9 524.6 404.9 C526.7 407.9 528.7 415.4 530.8 416.8 C532.9 418.2 534.9 415.2 537.0 413.6 C539.1 412.0 542.2 408.4 543.2 407.4" fill="none" stroke="#ee8484" stroke-width="0.6" stroke-opacity="1.0" stroke-linejoin="round"/>
<path d="M543.2 407.4 C544.2 407.8 547.5 410.2 549.4 409.9 C551.3 409.6 552.3 404.6 554.4 405.4 C556.5 406.2 559.3 414.3 561.8 414.8 C564.3 415.3 567.4 409.9 569.3 408.6 C571.2 407.3 572.0 406.7 573.0 406.9 C574.0 407.1 574.5 410.1 575.5 409.9 C576.5 409.6 577.8 405.6 579.2 405.4 C580.7 405.2 582.8 408.5 584.2 408.6 C585.7 408.7 586.7 405.9 587.9 406.1 C589.1 406.3 590.1 409.3 591.6 409.9 C593.1 410.5 594.9 410.1 596.6 409.9 C598.3 409.7 600.0 410.1 601.6 408.6 C603.2 407.2 604.9 400.7 606.5 401.2 C608.1 401.7 609.6 410.8 611.5 411.8 C613.4 412.8 616.1 407.6 617.7 407.4 C619.4 407.1 620.2 410.0 621.4 410.3 C622.6 410.6 624.0 408.7 625.1 409.4 C626.2 410.1 627.3 415.1 628.3 414.3 C629.3 413.6 630.0 406.5 631.3 404.9 C632.5 403.2 635.0 404.5 635.8 404.4" fill="none" stroke="#b8b8b8" stroke-width="0.6" stroke-opacity="1.0" stroke-linejoin="round"/>
<path d="M47.70 354.19 48.20 353.91 48.70 354.20 49.20 353.62 49.70 353.86 50.20 354.13 50.70 354.08 51.20 354.05 51.70 354.18 52.20 354.22 52.70 354.38 53.20 354.07 53.70 353.96 54.20 354.30 54.70 354.11 55.20 354.04 55.70 354.38 56.20 354.22 56.70 353.93 57.20 354.25 57.70 354.40 58.20 354.23 58.70 353.62 59.20 353.80 59.70 352.77 60.20 353.27 60.70 354.30 61.20 354.15 61.70 354.27 62.20 354.27 62.70 353.13 63.20 353.73 63.70 354.17 64.20 353.17 64.70 354.01 65.20 354.00 65.70 354.09 66.20 353.41 66.70 354.30 67.20 354.33 67.70 353.66 68.20 353.99 68.70 354.36 69.20 353.83 69.70 354.34 70.20 354.34 70.70 354.38 71.20 354.10 71.70 354.04 72.20 353.87 72.70 354.21 73.20 353.91 73.70 353.96 74.20 354.10 74.70 353.87 75.20 353.76 75.70 353.85 76.20 354.39 76.70 353.65 77.20 354.21 77.70 354.37 78.20 354.24 78.70 353.81 79.20 353.74 79.70 354.28 80.20 354.12 80.70 354.26 81.20 353.94 81.70 353.41 82.20 354.25 82.70 353.67 83.20 354.22 83.70 353.91 84.20 353.95 84.70 354.25 85.20 353.86 85.70 354.19 86.20 353.51 86.70 354.33 87.20 354.13 87.70 353.93 88.20 354.28 88.70 353.42 89.20 353.68 89.70 353.87 90.20 353.99 90.70 354.02 91.20 354.40 91.70 354.13 92.20 354.12 92.70 353.87 93.20 354.25 93.70 354.34 94.20 354.24 94.70 353.77 95.20 353.05 95.70 354.32 96.20 354.38 96.70 353.54 97.20 354.20 97.70 354.01 98.20 353.88 98.70 354.32 99.20 354.00 99.70 353.67 100.20 354.17 100.70 353.87 101.20 353.49 101.70 353.35 102.20 354.33 102.70 353.99 103.20 354.31 103.70 354.29 104.20 353.89 104.70 354.38 105.20 354.39 105.70 353.97 106.20 354.12 106.70 353.78 L106.70 356.26 106.20 356.65 105.70 355.96 105.20 356.05 104.70 357.01 104.20 356.04 103.70 356.04 103.20 356.02 102.70 356.25 102.20 356.49 101.70 356.11 101.20 356.56 100.70 356.12 100.20 356.20 99.70 355.88 99.20 355.99 98.70 356.25 98.20 355.98 97.70 355.83 97.20 356.00 96.70 355.92 96.20 356.06 95.70 356.50 95.20 355.88 94.70 356.14 94.20 355.94 93.70 356.19 93.20 356.10 92.70 355.98 92.20 356.38 91.70 356.92 91.20 356.56 90.70 355.81 90.20 356.20 89.70 356.02 89.20 356.44 88.70 357.01 88.20 356.90 87.70 356.44 87.20 356.13 86.70 355.90 86.20 356.47 85.70 356.77 85.20 355.83 84.70 357.43 84.20 356.38 83.70 356.54 83.20 356.08 82.70 355.90 82.20 356.73 81.70 355.85 81.20 356.27 80.70 356.48 80.20 356.33 79.70 357.52 79.20 356.36 78.70 355.90 78.20 356.10 77.70 356.59 77.20 356.18 76.70 356.50 76.20 356.14 75.70 356.30 75.20 356.80 74.70 355.90 74.20 355.82 73.70 355.87 73.20 355.84 72.70 355.88 72.20 356.16 71.70 355.93 71.20 356.98 70.70 356.20 70.20 356.22 69.70 355.94 69.20 356.18 68.70 355.94 68.20 356.34 67.70 355.80 67.20 357.08 66.70 355.90 66.20 356.51 65.70 356.78 65.20 356.03 64.70 356.34 64.20 356.43 63.70 356.15 63.20 356.30 62.70 356.50 62.20 355.97 61.70 356.06 61.20 355.94 60.70 356.05 60.20 356.11 59.70 355.83 59.20 355.83 58.70 356.67 58.20 356.46 57.70 356.47 57.20 355.80 56.70 356.37 56.20 355.99 55.70 356.31 55.20 355.91 54.70 355.97 54.20 356.04 53.70 356.12 53.20 356.01 52.70 356.10 52.20 356.30 51.70 356.15 51.20 356.55 50.70 356.40 50.20 357.33 49.70 356.17 49.20 357.28 48.70 356.71 48.20 356.71 47.70 356.20Z" fill="#000" fill-opacity="0.95"/>
<line x1="103.7" y1="354.7" x2="103.7" y2="356.9" stroke="#000" stroke-width="0.6" stroke-opacity="0.8"/>
<line x1="82.8" y1="354.8" x2="82.8" y2="357.7" stroke="#000" stroke-width="0.6" stroke-opacity="0.8"/>
<line x1="99.3" y1="354.7" x2="99.3" y2="357.9" stroke="#000" stroke-width="0.6" stroke-opacity="0.8"/>
<line x1="61" y1="353.2" x2="61" y2="356.5" stroke="#000" stroke-width="0.6" stroke-opacity="0.8"/>
<line x1="75.6" y1="355.1" x2="75.6" y2="357.5" stroke="#000" stroke-width="0.6" stroke-opacity="0.8"/>
<line x1="81.7" y1="354.6" x2="81.7" y2="355.5" stroke="#000" stroke-width="0.6" stroke-opacity="0.8"/>
<line x1="86.4" y1="354.7" x2="86.4" y2="355.9" stroke="#000" stroke-width="0.6" stroke-opacity="0.8"/>
<line x1="69.7" y1="355.1" x2="69.7" y2="355.3" stroke="#000" stroke-width="0.6" stroke-opacity="0.8"/>
<line x1="97.6" y1="353.1" x2="97.6" y2="356.4" stroke="#000" stroke-width="0.6" stroke-opacity="0.8"/>
<line x1="75.6" y1="352.3" x2="75.6" y2="357.2" stroke="#000" stroke-width="0.6" stroke-opacity="0.8"/>
<line x1="62.2" y1="354.1" x2="62.2" y2="357.8" stroke="#000" stroke-width="0.6" stroke-opacity="0.8"/>
<line x1="94.3" y1="354.7" x2="94.3" y2="355.8" stroke="#000" stroke-width="0.6" stroke-opacity="0.8"/>
<line x1="78.4" y1="352.7" x2="78.4" y2="356.6" stroke="#000" stroke-width="0.6" stroke-opacity="0.8"/>
<line x1="71.3" y1="354.5" x2="71.3" y2="355.1" stroke="#000" stroke-width="0.6" stroke-opacity="0.8"/>
<line x1="76.9" y1="354.9" x2="76.9" y2="355.1" stroke="#000" stroke-width="0.6" stroke-opacity="0.8"/>
<line x1="53.1" y1="355" x2="53.1" y2="356.6" stroke="#000" stroke-width="0.6" stroke-opacity="0.8"/>
<line x1="58.3" y1="354.1" x2="58.3" y2="356.2" stroke="#000" stroke-width="0.6" stroke-opacity="0.8"/>
<line x1="105" y1="354.5" x2="105" y2="356.9" stroke="#000" stroke-width="0.6" stroke-opacity="0.8"/>
<line x1="49.8" y1="353.9" x2="49.8" y2="358" stroke="#000" stroke-width="0.6" stroke-opacity="0.8"/>
<line x1="50.5" y1="352.6" x2="50.5" y2="355.2" stroke="#000" stroke-width="0.6" stroke-opacity="0.8"/>
<line x1="87.7" y1="355.1" x2="87.7" y2="355.1" stroke="#000" stroke-width="0.6" stroke-opacity="0.8"/>
<line x1="55.7" y1="352.7" x2="55.7" y2="356.9" stroke="#000" stroke-width="0.6" stroke-opacity="0.8"/>
<line x1="86.9" y1="353.8" x2="86.9" y2="355.4" stroke="#000" stroke-width="0.6" stroke-opacity="0.8"/>
<line x1="79" y1="354.4" x2="79" y2="357.8" stroke="#000" stroke-width="0.6" stroke-opacity="0.8"/>
<line x1="74.6" y1="353.4" x2="74.6" y2="355.5" stroke="#000" stroke-width="0.6" stroke-opacity="0.8"/>
<line x1="102.6" y1="352.9" x2="102.6" y2="358.1" stroke="#000" stroke-width="0.6" stroke-opacity="0.8"/>
<line x1="61.2" y1="352.8" x2="61.2" y2="355.8" stroke="#000" stroke-width="0.6" stroke-opacity="0.8"/>
<line x1="77.9" y1="354.2" x2="77.9" y2="355.1" stroke="#000" stroke-width="0.6" stroke-opacity="0.8"/>
<line x1="99.9" y1="354" x2="99.9" y2="355.1" stroke="#000" stroke-width="0.6" stroke-opacity="0.8"/>
<line x1="91.5" y1="355.1" x2="91.5" y2="355.5" stroke="#000" stroke-width="0.6" stroke-opacity="0.8"/>
<line x1="87.4" y1="354.5" x2="87.4" y2="355.1" stroke="#000" stroke-width="0.6" stroke-opacity="0.8"/>
<line x1="84.6" y1="354.7" x2="84.6" y2="355.5" stroke="#000" stroke-width="0.6" stroke-opacity="0.8"/>
<line x1="57.4" y1="355" x2="57.4" y2="358.1" stroke="#000" stroke-width="0.6" stroke-opacity="0.8"/>
<line x1="83.5" y1="354.1" x2="83.5" y2="356.9" stroke="#000" stroke-width="0.6" stroke-opacity="0.8"/>
<line x1="70.4" y1="355" x2="70.4" y2="356.2" stroke="#000" stroke-width="0.6" stroke-opacity="0.8"/>
<line x1="71.7" y1="354.6" x2="71.7" y2="355.1" stroke="#000" stroke-width="0.6" stroke-opacity="0.8"/>
<line x1="72.7" y1="355.1" x2="72.7" y2="357.5" stroke="#000" stroke-width="0.6" stroke-opacity="0.8"/>
<line x1="69.9" y1="353.6" x2="69.9" y2="356.1" stroke="#000" stroke-width="0.6" stroke-opacity="0.8"/>
<line x1="73.8" y1="354.8" x2="73.8" y2="355.1" stroke="#000" stroke-width="0.6" stroke-opacity="0.8"/>
<line x1="86.5" y1="355.1" x2="86.5" y2="355.3" stroke="#000" stroke-width="0.6" stroke-opacity="0.8"/>
<line x1="104.6" y1="354.7" x2="104.6" y2="355.5" stroke="#000" stroke-width="0.6" stroke-opacity="0.8"/>
<line x1="88.6" y1="354.9" x2="88.6" y2="355.5" stroke="#000" stroke-width="0.6" stroke-opacity="0.8"/>
<line x1="65.9" y1="353.6" x2="65.9" y2="355.1" stroke="#000" stroke-width="0.6" stroke-opacity="0.8"/>
<line x1="70.3" y1="352.1" x2="70.3" y2="356.3" stroke="#000" stroke-width="0.6" stroke-opacity="0.8"/>
<line x1="75.9" y1="354.8" x2="75.9" y2="355.1" stroke="#000" stroke-width="0.6" stroke-opacity="0.8"/>
<line x1="101.6" y1="352.6" x2="101.6" y2="358" stroke="#000" stroke-width="0.6" stroke-opacity="0.8"/>
<line x1="76.1" y1="354" x2="76.1" y2="355.4" stroke="#000" stroke-width="0.6" stroke-opacity="0.8"/>
<line x1="96.8" y1="354.1" x2="96.8" y2="355.4" stroke="#000" stroke-width="0.6" stroke-opacity="0.8"/>
<line x1="65.2" y1="354.7" x2="65.2" y2="356.4" stroke="#000" stroke-width="0.6" stroke-opacity="0.8"/>
<line x1="93.3" y1="355.1" x2="93.3" y2="357.7" stroke="#000" stroke-width="0.6" stroke-opacity="0.8"/>
<line x1="92.4" y1="353.2" x2="92.4" y2="355.2" stroke="#000" stroke-width="0.6" stroke-opacity="0.8"/>
<line x1="56.2" y1="353.5" x2="56.2" y2="357.7" stroke="#000" stroke-width="0.6" stroke-opacity="0.8"/>
<line x1="68.3" y1="355.1" x2="68.3" y2="355.4" stroke="#000" stroke-width="0.6" stroke-opacity="0.8"/>
<line x1="97.4" y1="353.1" x2="97.4" y2="355.3" stroke="#000" stroke-width="0.6" stroke-opacity="0.8"/>
<line x1="56.9" y1="354.4" x2="56.9" y2="355.4" stroke="#000" stroke-width="0.6" stroke-opacity="0.8"/>
<line x1="98.1" y1="354.5" x2="98.1" y2="355.3" stroke="#000" stroke-width="0.6" stroke-opacity="0.8"/>
<line x1="73.2" y1="355" x2="73.2" y2="356.6" stroke="#000" stroke-width="0.6" stroke-opacity="0.8"/>
<line x1="105.3" y1="354" x2="105.3" y2="355.3" stroke="#000" stroke-width="0.6" stroke-opacity="0.8"/>
<line x1="95.9" y1="354.7" x2="95.9" y2="355.1" stroke="#000" stroke-width="0.6" stroke-opacity="0.8"/>
<line x1="56.8" y1="354.7" x2="56.8" y2="357.2" stroke="#000" stroke-width="0.6" stroke-opacity="0.8"/>
<path d="M107.00 354.05 107.50 353.78 108.00 353.87 108.50 352.25 109.00 352.76 109.50 353.28 110.00 353.94 110.50 353.58 111.00 353.98 111.50 353.76 112.00 353.42 112.50 353.95 113.00 353.94 113.50 353.57 114.00 353.84 114.50 354.12 115.00 353.76 115.50 353.71 116.00 354.10 116.50 353.49 117.00 353.53 117.50 354.05 118.00 353.94 118.50 353.87 119.00 353.39 119.50 353.57 120.00 352.55 120.50 352.89 121.00 352.82 121.50 353.00 122.00 353.53 122.50 354.10 123.00 353.34 123.50 353.62 124.00 354.03 124.50 353.97 125.00 354.06 125.50 353.51 126.00 353.30 126.50 353.86 127.00 354.01 127.50 352.76 128.00 353.59 128.50 353.34 129.00 353.75 129.50 353.42 130.00 354.01 130.50 353.14 131.00 352.70 131.50 353.30 132.00 353.37 132.50 353.07 133.00 354.08 L133.00 357.97 132.50 356.52 132.00 356.73 131.50 356.32 131.00 356.21 130.50 357.26 130.00 356.66 129.50 356.54 129.00 356.56 128.50 356.35 128.00 356.04 127.50 356.18 127.00 356.67 126.50 356.12 126.00 356.53 125.50 357.14 125.00 356.67 124.50 356.90 124.00 356.15 123.50 356.72 123.00 356.11 122.50 356.61 122.00 356.08 121.50 356.71 121.00 356.55 120.50 356.22 120.00 356.33 119.50 356.28 119.00 357.41 118.50 356.71 118.00 357.00 117.50 356.06 117.00 356.38 116.50 356.59 116.00 356.01 115.50 357.21 115.00 356.06 114.50 356.96 114.00 357.95 113.50 357.22 113.00 356.85 112.50 356.52 112.00 356.08 111.50 356.14 111.00 356.16 110.50 356.52 110.00 356.62 109.50 356.22 109.00 356.22 108.50 357.90 108.00 356.80 107.50 356.07 107.00 356.97Z" fill="#000" fill-opacity="0.85"/>
<path d="M107.00 351.28 107.50 351.53 108.00 351.41 108.50 352.29 109.00 351.22 109.50 351.02 110.00 351.87 110.50 351.46 111.00 352.64 111.50 352.19 112.00 352.49 112.50 351.52 113.00 350.30 113.50 351.94 114.00 351.03 114.50 352.51 115.00 351.96 115.50 350.86 116.00 351.60 116.50 352.63 117.00 352.85 117.50 351.39 118.00 352.04 118.50 352.97 119.00 352.27 119.50 352.11 120.00 350.47 120.50 352.88 121.00 351.93 121.50 351.86 122.00 350.71 122.50 352.35 123.00 351.55 123.50 351.25 124.00 350.08 124.50 351.34 125.00 352.83 125.50 351.69 126.00 352.39 126.50 352.37 127.00 352.61 127.50 352.55 128.00 352.16 128.50 351.44 129.00 351.15 129.50 350.72 130.00 351.80 130.50 350.64 131.00 350.38 131.50 352.18 132.00 351.95 132.50 352.34 133.00 352.38 L133.00 358.07 132.50 357.98 132.00 358.32 131.50 357.18 131.00 357.68 130.50 357.10 130.00 357.82 129.50 358.00 129.00 358.63 128.50 358.78 128.00 358.70 127.50 357.29 127.00 357.46 126.50 357.40 126.00 358.57 125.50 357.23 125.00 357.99 124.50 358.01 124.00 357.94 123.50 359.93 123.00 357.19 122.50 359.01 122.00 360.52 121.50 357.83 121.00 357.58 120.50 357.85 120.00 358.07 119.50 358.55 119.00 357.49 118.50 357.65 118.00 357.49 117.50 357.86 117.00 358.19 116.50 358.06 116.00 359.21 115.50 357.56 115.00 359.19 114.50 357.34 114.00 357.85 113.50 357.66 113.00 357.77 112.50 358.22 112.00 357.72 111.50 357.59 111.00 357.70 110.50 358.48 110.00 359.16 109.50 358.97 109.00 359.84 108.50 357.73 108.00 357.52 107.50 359.32 107.00 358.22Z" fill="#000" fill-opacity="0.3"/>
<line x1="111.2" y1="353.6" x2="111.2" y2="358.8" stroke="#333" stroke-width="0.5" stroke-opacity="0.55"/>
<line x1="114.7" y1="353" x2="114.7" y2="356.3" stroke="#333" stroke-width="0.5" stroke-opacity="0.55"/>
<line x1="130.2" y1="353.7" x2="130.2" y2="360.5" stroke="#333" stroke-width="0.5" stroke-opacity="0.55"/>
<line x1="113.3" y1="355" x2="113.3" y2="355.8" stroke="#333" stroke-width="0.5" stroke-opacity="0.55"/>
<line x1="127.3" y1="353.8" x2="127.3" y2="359.8" stroke="#333" stroke-width="0.5" stroke-opacity="0.55"/>
<line x1="132.9" y1="351.3" x2="132.9" y2="355.2" stroke="#333" stroke-width="0.5" stroke-opacity="0.55"/>
<line x1="122.3" y1="352.7" x2="122.3" y2="359.7" stroke="#333" stroke-width="0.5" stroke-opacity="0.55"/>
<line x1="110.8" y1="353.4" x2="110.8" y2="355.1" stroke="#333" stroke-width="0.5" stroke-opacity="0.55"/>
<line x1="126.3" y1="353.6" x2="126.3" y2="355.2" stroke="#333" stroke-width="0.5" stroke-opacity="0.55"/>
<line x1="110" y1="353.9" x2="110" y2="356.4" stroke="#333" stroke-width="0.5" stroke-opacity="0.55"/>
<line x1="121" y1="350.8" x2="121" y2="360.4" stroke="#333" stroke-width="0.5" stroke-opacity="0.55"/>
<line x1="114.7" y1="355.1" x2="114.7" y2="355.6" stroke="#333" stroke-width="0.5" stroke-opacity="0.55"/>
<line x1="128.2" y1="354.8" x2="128.2" y2="355.2" stroke="#333" stroke-width="0.5" stroke-opacity="0.55"/>
<line x1="122.7" y1="353" x2="122.7" y2="355.3" stroke="#333" stroke-width="0.5" stroke-opacity="0.55"/>
<line x1="108.5" y1="355" x2="108.5" y2="355.4" stroke="#333" stroke-width="0.5" stroke-opacity="0.55"/>
<line x1="116.4" y1="353.7" x2="116.4" y2="359.7" stroke="#333" stroke-width="0.5" stroke-opacity="0.55"/>
<line x1="116.1" y1="353.3" x2="116.1" y2="357.5" stroke="#333" stroke-width="0.5" stroke-opacity="0.55"/>
<line x1="114.4" y1="353.7" x2="114.4" y2="360.4" stroke="#333" stroke-width="0.5" stroke-opacity="0.55"/>
<line x1="132.9" y1="354.3" x2="132.9" y2="358.8" stroke="#333" stroke-width="0.5" stroke-opacity="0.55"/>
<line x1="115.7" y1="352.2" x2="115.7" y2="355.9" stroke="#333" stroke-width="0.5" stroke-opacity="0.55"/>
<line x1="127.3" y1="355.1" x2="127.3" y2="355.3" stroke="#333" stroke-width="0.5" stroke-opacity="0.55"/>
<line x1="123.3" y1="354.9" x2="123.3" y2="355.6" stroke="#333" stroke-width="0.5" stroke-opacity="0.55"/>
<line x1="124.6" y1="354.7" x2="124.6" y2="355.7" stroke="#333" stroke-width="0.5" stroke-opacity="0.55"/>
<line x1="128.3" y1="355" x2="128.3" y2="355.1" stroke="#333" stroke-width="0.5" stroke-opacity="0.55"/>
<line x1="128.6" y1="351.4" x2="128.6" y2="357.6" stroke="#333" stroke-width="0.5" stroke-opacity="0.55"/>
<line x1="123.3" y1="351.5" x2="123.3" y2="356.6" stroke="#333" stroke-width="0.5" stroke-opacity="0.55"/>
<line x1="110" y1="354.5" x2="110" y2="356.2" stroke="#333" stroke-width="0.5" stroke-opacity="0.55"/>
<line x1="129.1" y1="353.4" x2="129.1" y2="355.1" stroke="#333" stroke-width="0.5" stroke-opacity="0.55"/>
<line x1="124.1" y1="351.9" x2="124.1" y2="355.1" stroke="#333" stroke-width="0.5" stroke-opacity="0.55"/>
<line x1="130.9" y1="355.1" x2="130.9" y2="357.7" stroke="#333" stroke-width="0.5" stroke-opacity="0.55"/>
<line x1="116.5" y1="354" x2="116.5" y2="355.3" stroke="#333" stroke-width="0.5" stroke-opacity="0.55"/>
<line x1="111.5" y1="354.7" x2="111.5" y2="358.6" stroke="#333" stroke-width="0.5" stroke-opacity="0.55"/>
<line x1="128.7" y1="352.3" x2="128.7" y2="355.7" stroke="#333" stroke-width="0.5" stroke-opacity="0.55"/>
<line x1="115.9" y1="354.2" x2="115.9" y2="355.2" stroke="#333" stroke-width="0.5" stroke-opacity="0.55"/>
<line x1="117.1" y1="353.8" x2="117.1" y2="355.6" stroke="#333" stroke-width="0.5" stroke-opacity="0.55"/>
<path d="M133.00 352.17 133.50 351.76 134.00 353.47 134.50 353.35 135.00 353.44 135.50 353.63 136.00 352.18 136.50 353.61 137.00 353.11 137.50 351.14 138.00 353.62 138.50 353.52 139.00 353.57 139.50 353.27 140.00 352.96 140.50 353.49 141.00 353.41 141.50 353.61 142.00 353.03 142.50 353.64 143.00 353.78 143.50 352.56 144.00 353.36 144.50 353.40 145.00 353.65 145.50 353.37 146.00 352.25 146.50 353.58 147.00 353.61 147.50 353.00 148.00 353.09 148.50 353.57 149.00 353.09 149.50 353.34 150.00 352.98 150.50 352.23 151.00 349.42 151.50 351.77 152.00 351.85 152.50 350.93 153.00 352.74 153.50 352.19 154.00 352.52 154.50 351.70 155.00 353.07 155.50 353.03 156.00 351.27 156.50 352.13 157.00 352.85 157.50 351.65 158.00 352.83 158.50 351.90 159.00 352.34 159.50 352.34 160.00 352.82 160.50 352.08 161.00 352.80 161.50 349.86 162.00 352.20 162.50 352.46 163.00 350.97 163.50 353.02 164.00 351.85 164.50 352.12 165.00 350.46 165.50 351.91 166.00 352.18 166.50 351.60 167.00 350.29 167.50 352.45 168.00 352.67 168.50 352.31 169.00 351.03 169.50 351.55 170.00 352.64 170.50 351.74 171.00 351.27 171.50 353.07 172.00 352.62 172.50 350.87 173.00 350.91 173.50 352.12 174.00 352.12 174.50 351.62 175.00 352.65 175.50 352.27 176.00 352.06 176.50 352.06 177.00 351.32 177.50 351.20 178.00 352.32 178.50 352.68 179.00 352.81 179.50 352.35 180.00 351.48 180.50 350.85 181.00 353.09 181.50 351.52 182.00 352.12 182.50 352.82 183.00 352.69 183.50 352.72 184.00 352.78 184.50 352.04 185.00 352.07 185.50 352.93 186.00 352.96 186.50 352.39 187.00 352.81 187.50 349.78 188.00 351.15 188.50 351.15 189.00 350.45 189.50 352.66 L189.50 356.46 189.00 356.49 188.50 358.84 188.00 357.95 187.50 357.76 187.00 357.86 186.50 356.50 186.00 359.08 185.50 356.55 185.00 357.38 184.50 356.55 184.00 356.47 183.50 356.35 183.00 356.54 182.50 357.03 182.00 356.77 181.50 357.37 181.00 356.39 180.50 357.76 180.00 356.32 179.50 357.15 179.00 358.58 178.50 357.29 178.00 358.39 177.50 356.66 177.00 356.55 176.50 356.65 176.00 358.42 175.50 357.11 175.00 356.51 174.50 357.64 174.00 356.49 173.50 357.85 173.00 357.22 172.50 357.55 172.00 357.14 171.50 357.66 171.00 357.16 170.50 358.40 170.00 356.32 169.50 356.79 169.00 357.06 168.50 357.25 168.00 356.52 167.50 356.80 167.00 356.33 166.50 359.13 166.00 357.62 165.50 359.11 165.00 357.02 164.50 357.34 164.00 356.48 163.50 356.67 163.00 358.39 162.50 356.50 162.00 357.65 161.50 357.71 161.00 357.39 160.50 356.48 160.00 356.93 159.50 357.41 159.00 359.02 158.50 358.50 158.00 357.14 157.50 357.36 157.00 356.50 156.50 356.83 156.00 357.41 155.50 356.73 155.00 357.36 154.50 356.92 154.00 357.32 153.50 356.44 153.00 356.90 152.50 358.28 152.00 356.48 151.50 356.45 151.00 356.73 150.50 356.31 150.00 357.41 149.50 356.02 149.00 356.67 148.50 356.54 148.00 356.04 147.50 355.80 147.00 357.57 146.50 355.99 146.00 356.34 145.50 356.16 145.00 355.99 144.50 355.96 144.00 355.84 143.50 356.13 143.00 356.80 142.50 356.25 142.00 355.75 141.50 356.46 141.00 356.69 140.50 356.19 140.00 357.01 139.50 355.72 139.00 356.21 138.50 355.76 138.00 357.24 137.50 356.11 137.00 355.63 136.50 356.24 136.00 356.38 135.50 356.64 135.00 356.45 134.50 356.54 134.00 357.42 133.50 356.03 133.00 356.09Z" fill="#ec1c24" fill-opacity="1.0"/>
<path d="M133.00 352.10 133.50 351.86 134.00 351.82 134.50 352.64 135.00 350.34 135.50 351.20 136.00 352.55 136.50 351.77 137.00 349.94 137.50 352.30 138.00 351.09 138.50 351.68 139.00 351.17 139.50 350.51 140.00 352.30 140.50 352.14 141.00 350.97 141.50 352.45 142.00 351.87 142.50 351.54 143.00 351.98 143.50 351.88 144.00 350.75 144.50 351.38 145.00 351.27 145.50 352.57 146.00 350.58 146.50 352.68 147.00 349.79 147.50 350.43 148.00 351.48 148.50 351.56 149.00 352.43 149.50 351.79 150.00 350.69 150.50 349.38 151.00 349.12 151.50 350.38 152.00 351.38 152.50 351.50 153.00 350.76 153.50 351.17 154.00 350.14 154.50 350.83 155.00 351.25 155.50 351.63 156.00 350.99 156.50 350.31 157.00 350.22 157.50 350.52 158.00 350.38 158.50 351.53 159.00 349.39 159.50 350.55 160.00 350.88 160.50 351.13 161.00 350.68 161.50 349.61 162.00 351.40 162.50 349.12 163.00 350.12 163.50 350.28 164.00 349.70 164.50 350.13 165.00 350.09 165.50 350.49 166.00 351.30 166.50 349.95 167.00 351.61 167.50 349.98 168.00 350.97 168.50 349.99 169.00 351.41 169.50 350.64 170.00 351.57 170.50 351.27 171.00 351.42 171.50 350.18 172.00 350.88 172.50 351.42 173.00 348.73 173.50 351.69 174.00 350.24 174.50 348.80 175.00 349.67 175.50 351.52 176.00 350.86 176.50 350.56 177.00 350.66 177.50 350.93 178.00 351.08 178.50 351.64 179.00 350.91 179.50 351.23 180.00 351.12 180.50 351.24 181.00 351.58 181.50 350.32 182.00 349.17 182.50 351.59 183.00 350.60 183.50 351.36 184.00 350.90 184.50 349.22 185.00 351.66 185.50 350.97 186.00 350.34 186.50 351.51 187.00 350.31 187.50 350.54 188.00 350.96 188.50 351.21 189.00 350.92 189.50 351.02 L189.50 357.83 189.00 358.08 188.50 359.04 188.00 359.35 187.50 360.39 187.00 359.87 186.50 358.86 186.00 359.27 185.50 358.15 185.00 359.38 184.50 359.34 184.00 357.76 183.50 358.27 183.00 357.92 182.50 359.18 182.00 359.36 181.50 360.32 181.00 359.24 180.50 358.25 180.00 359.31 179.50 358.20 179.00 359.46 178.50 358.56 178.00 361.33 177.50 359.34 177.00 360.21 176.50 358.19 176.00 358.81 175.50 358.18 175.00 358.16 174.50 359.41 174.00 359.99 173.50 360.04 173.00 359.82 172.50 358.70 172.00 358.95 171.50 359.06 171.00 358.42 170.50 359.88 170.00 358.69 169.50 359.11 169.00 357.85 168.50 358.11 168.00 358.87 167.50 359.60 167.00 359.16 166.50 359.11 166.00 357.74 165.50 358.03 165.00 358.47 164.50 359.99 164.00 360.84 163.50 358.78 163.00 360.35 162.50 357.99 162.00 359.21 161.50 358.12 161.00 359.04 160.50 358.64 160.00 359.62 159.50 358.52 159.00 361.08 158.50 358.84 158.00 357.73 157.50 360.67 157.00 361.65 156.50 358.76 156.00 359.40 155.50 358.16 155.00 358.53 154.50 359.92 154.00 358.19 153.50 359.08 153.00 357.87 152.50 358.25 152.00 359.08 151.50 358.50 151.00 359.13 150.50 358.88 150.00 357.85 149.50 358.65 149.00 357.08 148.50 357.42 148.00 357.68 147.50 357.02 147.00 357.49 146.50 357.43 146.00 359.82 145.50 358.94 145.00 357.14 144.50 358.23 144.00 357.90 143.50 358.31 143.00 357.74 142.50 358.22 142.00 361.23 141.50 356.95 141.00 356.91 140.50 359.22 140.00 357.81 139.50 356.96 139.00 359.19 138.50 359.77 138.00 357.72 137.50 357.89 137.00 357.04 136.50 358.01 136.00 356.94 135.50 357.24 135.00 358.80 134.50 357.91 134.00 357.33 133.50 357.48 133.00 357.93Z" fill="#ec1c24" fill-opacity="0.35"/>
<line x1="138.3" y1="354.5" x2="138.3" y2="354.9" stroke="#ec1c24" stroke-width="0.5" stroke-opacity="0.6"/>
<line x1="147.6" y1="351.8" x2="147.6" y2="354.8" stroke="#ec1c24" stroke-width="0.5" stroke-opacity="0.6"/>
<line x1="137.9" y1="352.9" x2="137.9" y2="357.2" stroke="#ec1c24" stroke-width="0.5" stroke-opacity="0.6"/>
<line x1="140.5" y1="353.8" x2="140.5" y2="357.4" stroke="#ec1c24" stroke-width="0.5" stroke-opacity="0.6"/>
<line x1="140.5" y1="351" x2="140.5" y2="355.2" stroke="#ec1c24" stroke-width="0.5" stroke-opacity="0.6"/>
<line x1="134.9" y1="354.4" x2="134.9" y2="354.7" stroke="#ec1c24" stroke-width="0.5" stroke-opacity="0.6"/>
<line x1="148.7" y1="353" x2="148.7" y2="354.9" stroke="#ec1c24" stroke-width="0.5" stroke-opacity="0.6"/>
<line x1="133.6" y1="351.8" x2="133.6" y2="355.4" stroke="#ec1c24" stroke-width="0.5" stroke-opacity="0.6"/>
<line x1="136.6" y1="354" x2="136.6" y2="354.8" stroke="#ec1c24" stroke-width="0.5" stroke-opacity="0.6"/>
<line x1="134.2" y1="354.7" x2="134.2" y2="354.7" stroke="#ec1c24" stroke-width="0.5" stroke-opacity="0.6"/>
<line x1="143.5" y1="354.3" x2="143.5" y2="355" stroke="#ec1c24" stroke-width="0.5" stroke-opacity="0.6"/>
<line x1="140.8" y1="353.1" x2="140.8" y2="355" stroke="#ec1c24" stroke-width="0.5" stroke-opacity="0.6"/>
<line x1="135.2" y1="352.9" x2="135.2" y2="355.1" stroke="#ec1c24" stroke-width="0.5" stroke-opacity="0.6"/>
<line x1="147.4" y1="353.7" x2="147.4" y2="359.5" stroke="#ec1c24" stroke-width="0.5" stroke-opacity="0.6"/>
<line x1="136.1" y1="354.6" x2="136.1" y2="354.8" stroke="#ec1c24" stroke-width="0.5" stroke-opacity="0.6"/>
<line x1="149.6" y1="352.8" x2="149.6" y2="356.5" stroke="#ec1c24" stroke-width="0.5" stroke-opacity="0.6"/>
<line x1="138.8" y1="354.6" x2="138.8" y2="354.7" stroke="#ec1c24" stroke-width="0.5" stroke-opacity="0.6"/>
<line x1="146.6" y1="353.8" x2="146.6" y2="359.6" stroke="#ec1c24" stroke-width="0.5" stroke-opacity="0.6"/>
<line x1="133.3" y1="351.8" x2="133.3" y2="354.8" stroke="#ec1c24" stroke-width="0.5" stroke-opacity="0.6"/>
<line x1="149.8" y1="354.6" x2="149.8" y2="355" stroke="#ec1c24" stroke-width="0.5" stroke-opacity="0.6"/>
<line x1="182.7" y1="347.8" x2="182.7" y2="362.3" stroke="#ec1c24" stroke-width="0.5" stroke-opacity="0.6"/>
<line x1="174.7" y1="351.9" x2="174.7" y2="361.8" stroke="#ec1c24" stroke-width="0.5" stroke-opacity="0.6"/>
<line x1="173.9" y1="354" x2="173.9" y2="356.1" stroke="#ec1c24" stroke-width="0.5" stroke-opacity="0.6"/>
<line x1="158.4" y1="352.1" x2="158.4" y2="357.7" stroke="#ec1c24" stroke-width="0.5" stroke-opacity="0.6"/>
<line x1="157.2" y1="353.4" x2="157.2" y2="354.7" stroke="#ec1c24" stroke-width="0.5" stroke-opacity="0.6"/>
<line x1="171.8" y1="354.5" x2="171.8" y2="362.8" stroke="#ec1c24" stroke-width="0.5" stroke-opacity="0.6"/>
<line x1="176.3" y1="347.3" x2="176.3" y2="354.8" stroke="#ec1c24" stroke-width="0.5" stroke-opacity="0.6"/>
<line x1="161" y1="350.9" x2="161" y2="357.1" stroke="#ec1c24" stroke-width="0.5" stroke-opacity="0.6"/>
<line x1="182.7" y1="350.5" x2="182.7" y2="358.4" stroke="#ec1c24" stroke-width="0.5" stroke-opacity="0.6"/>
<line x1="179.7" y1="354" x2="179.7" y2="355.5" stroke="#ec1c24" stroke-width="0.5" stroke-opacity="0.6"/>
<line x1="182.3" y1="354.7" x2="182.3" y2="355.7" stroke="#ec1c24" stroke-width="0.5" stroke-opacity="0.6"/>
<line x1="154.6" y1="348.8" x2="154.6" y2="361.5" stroke="#ec1c24" stroke-width="0.5" stroke-opacity="0.6"/>
<line x1="166.2" y1="354.7" x2="166.2" y2="358.7" stroke="#ec1c24" stroke-width="0.5" stroke-opacity="0.6"/>
<line x1="175.1" y1="350" x2="175.1" y2="363.4" stroke="#ec1c24" stroke-width="0.5" stroke-opacity="0.6"/>
<line x1="153.8" y1="354.7" x2="153.8" y2="357.6" stroke="#ec1c24" stroke-width="0.5" stroke-opacity="0.6"/>
<line x1="151" y1="350.8" x2="151" y2="355.2" stroke="#ec1c24" stroke-width="0.5" stroke-opacity="0.6"/>
<line x1="172.2" y1="351.4" x2="172.2" y2="355.7" stroke="#ec1c24" stroke-width="0.5" stroke-opacity="0.6"/>
<line x1="168.1" y1="348.6" x2="168.1" y2="355.9" stroke="#ec1c24" stroke-width="0.5" stroke-opacity="0.6"/>
<line x1="175.6" y1="354.3" x2="175.6" y2="355.8" stroke="#ec1c24" stroke-width="0.5" stroke-opacity="0.6"/>
<line x1="172.3" y1="353.2" x2="172.3" y2="356.3" stroke="#ec1c24" stroke-width="0.5" stroke-opacity="0.6"/>
<line x1="189.2" y1="354.3" x2="189.2" y2="361.2" stroke="#ec1c24" stroke-width="0.5" stroke-opacity="0.6"/>
<line x1="182" y1="353.1" x2="182" y2="355.2" stroke="#ec1c24" stroke-width="0.5" stroke-opacity="0.6"/>
<line x1="161.9" y1="354.3" x2="161.9" y2="357.8" stroke="#ec1c24" stroke-width="0.5" stroke-opacity="0.6"/>
<line x1="161.3" y1="354.2" x2="161.3" y2="354.7" stroke="#ec1c24" stroke-width="0.5" stroke-opacity="0.6"/>
<line x1="152.4" y1="346.5" x2="152.4" y2="362.3" stroke="#ec1c24" stroke-width="0.5" stroke-opacity="0.6"/>
<line x1="172.3" y1="350.1" x2="172.3" y2="355" stroke="#ec1c24" stroke-width="0.5" stroke-opacity="0.6"/>
<line x1="154" y1="354.1" x2="154" y2="354.8" stroke="#ec1c24" stroke-width="0.5" stroke-opacity="0.6"/>
<line x1="154.6" y1="352.5" x2="154.6" y2="354.9" stroke="#ec1c24" stroke-width="0.5" stroke-opacity="0.6"/>
<line x1="187.7" y1="352" x2="187.7" y2="355.6" stroke="#ec1c24" stroke-width="0.5" stroke-opacity="0.6"/>
<line x1="186.6" y1="350.7" x2="186.6" y2="354.8" stroke="#ec1c24" stroke-width="0.5" stroke-opacity="0.6"/>
<line x1="184.7" y1="354.4" x2="184.7" y2="358.3" stroke="#ec1c24" stroke-width="0.5" stroke-opacity="0.6"/>
<line x1="156.1" y1="352.9" x2="156.1" y2="355.8" stroke="#ec1c24" stroke-width="0.5" stroke-opacity="0.6"/>
<line x1="159.1" y1="352.2" x2="159.1" y2="361" stroke="#ec1c24" stroke-width="0.5" stroke-opacity="0.6"/>
<line x1="151.9" y1="354.2" x2="151.9" y2="355.9" stroke="#ec1c24" stroke-width="0.5" stroke-opacity="0.6"/>
<line x1="160.2" y1="354.7" x2="160.2" y2="356.7" stroke="#ec1c24" stroke-width="0.5" stroke-opacity="0.6"/>
<line x1="163.9" y1="352.7" x2="163.9" y2="356" stroke="#ec1c24" stroke-width="0.5" stroke-opacity="0.6"/>
<line x1="165.9" y1="354.6" x2="165.9" y2="357.1" stroke="#ec1c24" stroke-width="0.5" stroke-opacity="0.6"/>
<line x1="179.9" y1="354.1" x2="179.9" y2="362" stroke="#ec1c24" stroke-width="0.5" stroke-opacity="0.6"/>
<line x1="152.7" y1="350" x2="152.7" y2="355.5" stroke="#ec1c24" stroke-width="0.5" stroke-opacity="0.6"/>
<line x1="156.2" y1="352.4" x2="156.2" y2="359" stroke="#ec1c24" stroke-width="0.5" stroke-opacity="0.6"/>
<line x1="168.8" y1="354.5" x2="168.8" y2="360.3" stroke="#ec1c24" stroke-width="0.5" stroke-opacity="0.6"/>
<line x1="186.7" y1="346.5" x2="186.7" y2="354.8" stroke="#ec1c24" stroke-width="0.5" stroke-opacity="0.6"/>
<line x1="179.4" y1="347" x2="179.4" y2="358.7" stroke="#ec1c24" stroke-width="0.5" stroke-opacity="0.6"/>
<line x1="160.3" y1="346.8" x2="160.3" y2="354.7" stroke="#ec1c24" stroke-width="0.5" stroke-opacity="0.6"/>
<line x1="153.5" y1="351.7" x2="153.5" y2="363.3" stroke="#ec1c24" stroke-width="0.5" stroke-opacity="0.6"/>
<line x1="173.4" y1="347.7" x2="173.4" y2="358.8" stroke="#ec1c24" stroke-width="0.5" stroke-opacity="0.6"/>
<line x1="158.8" y1="353.1" x2="158.8" y2="360.1" stroke="#ec1c24" stroke-width="0.5" stroke-opacity="0.6"/>
<line x1="156.8" y1="352.1" x2="156.8" y2="355.8" stroke="#ec1c24" stroke-width="0.5" stroke-opacity="0.6"/>
<line x1="172.8" y1="354" x2="172.8" y2="354.9" stroke="#ec1c24" stroke-width="0.5" stroke-opacity="0.6"/>
<line x1="153.1" y1="346.9" x2="153.1" y2="363.1" stroke="#ec1c24" stroke-width="0.5" stroke-opacity="0.6"/>
<line x1="164.6" y1="354.6" x2="164.6" y2="357.9" stroke="#ec1c24" stroke-width="0.5" stroke-opacity="0.6"/>
<line x1="173.1" y1="352.4" x2="173.1" y2="362.2" stroke="#ec1c24" stroke-width="0.5" stroke-opacity="0.6"/>
<line x1="152.5" y1="352.9" x2="152.5" y2="360.5" stroke="#ec1c24" stroke-width="0.5" stroke-opacity="0.6"/>
<line x1="168.2" y1="353.6" x2="168.2" y2="356.6" stroke="#ec1c24" stroke-width="0.5" stroke-opacity="0.6"/>
<line x1="164.2" y1="354.7" x2="164.2" y2="357.6" stroke="#ec1c24" stroke-width="0.5" stroke-opacity="0.6"/>
<line x1="186.5" y1="354.4" x2="186.5" y2="354.8" stroke="#ec1c24" stroke-width="0.5" stroke-opacity="0.6"/>
<line x1="154.5" y1="349.2" x2="154.5" y2="354.7" stroke="#ec1c24" stroke-width="0.5" stroke-opacity="0.6"/>
<line x1="186.2" y1="352.8" x2="186.2" y2="359" stroke="#ec1c24" stroke-width="0.5" stroke-opacity="0.6"/>
<line x1="168.9" y1="352.8" x2="168.9" y2="362.9" stroke="#ec1c24" stroke-width="0.5" stroke-opacity="0.6"/>
<line x1="158.4" y1="352.7" x2="158.4" y2="354.8" stroke="#ec1c24" stroke-width="0.5" stroke-opacity="0.6"/>
<line x1="157.9" y1="354.4" x2="157.9" y2="360.7" stroke="#ec1c24" stroke-width="0.5" stroke-opacity="0.6"/>
<line x1="168.5" y1="350.1" x2="168.5" y2="362.9" stroke="#ec1c24" stroke-width="0.5" stroke-opacity="0.6"/>
<line x1="176.7" y1="352.6" x2="176.7" y2="360.3" stroke="#ec1c24" stroke-width="0.5" stroke-opacity="0.6"/>
<line x1="157" y1="354.7" x2="157" y2="355.2" stroke="#ec1c24" stroke-width="0.5" stroke-opacity="0.6"/>
<line x1="170.4" y1="354.5" x2="170.4" y2="357.2" stroke="#ec1c24" stroke-width="0.5" stroke-opacity="0.6"/>
<line x1="175.5" y1="348.6" x2="175.5" y2="358.7" stroke="#ec1c24" stroke-width="0.5" stroke-opacity="0.6"/>
<line x1="153.1" y1="353.5" x2="153.1" y2="354.7" stroke="#ec1c24" stroke-width="0.5" stroke-opacity="0.6"/>
<line x1="188.8" y1="349.5" x2="188.8" y2="357.3" stroke="#ec1c24" stroke-width="0.5" stroke-opacity="0.6"/>
<line x1="173.7" y1="346.1" x2="173.7" y2="355" stroke="#ec1c24" stroke-width="0.5" stroke-opacity="0.6"/>
<line x1="156.7" y1="351.1" x2="156.7" y2="360.6" stroke="#ec1c24" stroke-width="0.5" stroke-opacity="0.6"/>
<line x1="152.3" y1="345" x2="152.3" y2="379" stroke="#e83038" stroke-width="0.55" stroke-opacity="0.8"/>
<line x1="155.6" y1="350" x2="155.6" y2="379" stroke="#e83038" stroke-width="0.55" stroke-opacity="0.8"/>
<line x1="157" y1="345" x2="157" y2="358" stroke="#e83038" stroke-width="0.55" stroke-opacity="0.8"/>
<line x1="159.6" y1="352" x2="159.6" y2="370.5" stroke="#e83038" stroke-width="0.55" stroke-opacity="0.8"/>
<line x1="172" y1="352" x2="172" y2="379" stroke="#e83038" stroke-width="0.55" stroke-opacity="0.8"/>
<line x1="176.6" y1="352" x2="176.6" y2="374.4" stroke="#e83038" stroke-width="0.55" stroke-opacity="0.8"/>
<line x1="169" y1="350" x2="169" y2="366" stroke="#e83038" stroke-width="0.55" stroke-opacity="0.8"/>
<line x1="181" y1="350" x2="181" y2="364" stroke="#e83038" stroke-width="0.55" stroke-opacity="0.8"/>
<line x1="187.8" y1="352" x2="187.8" y2="379" stroke="#e83038" stroke-width="0.55" stroke-opacity="0.8"/>
<line x1="189.8" y1="336.3" x2="189.8" y2="379" stroke="#e83038" stroke-width="0.55" stroke-opacity="0.8"/>
<path d="M190.00 344.83 190.50 346.13 191.00 341.50 191.50 341.27 192.00 342.47 192.50 343.87 193.00 343.91 193.50 344.48 194.00 345.02 194.50 343.19 195.00 345.24 195.50 343.64 196.00 344.32 196.50 342.67 197.00 340.17 197.50 343.05 198.00 340.49 198.50 341.73 199.00 344.09 199.50 341.60 200.00 340.59 200.50 342.15 201.00 341.97 201.50 340.31 202.00 343.26 202.50 341.64 203.00 341.52 203.50 339.25 204.00 337.63 204.50 339.08 205.00 341.10 205.50 341.30 206.00 340.88 206.50 340.92 207.00 339.21 207.50 339.88 208.00 340.84 208.50 339.31 209.00 341.01 209.50 337.66 210.00 338.67 210.50 339.25 211.00 340.89 L211.00 366.44 210.50 367.57 210.00 371.27 209.50 369.20 209.00 366.30 208.50 367.49 208.00 366.92 207.50 366.34 207.00 366.66 206.50 365.26 206.00 365.83 205.50 365.02 205.00 364.95 204.50 364.37 204.00 365.71 203.50 365.95 203.00 364.20 202.50 364.44 202.00 366.26 201.50 364.84 201.00 367.01 200.50 364.96 200.00 364.39 199.50 365.69 199.00 364.59 198.50 366.05 198.00 362.64 197.50 363.44 197.00 365.29 196.50 362.23 196.00 364.59 195.50 363.16 195.00 362.51 194.50 363.93 194.00 364.28 193.50 363.43 193.00 362.21 192.50 363.34 192.00 365.60 191.50 362.78 191.00 361.09 190.50 361.80 190.00 360.59Z" fill="#f08088" fill-opacity="0.28"/>
<path d="M189.80 349.1 190.30 337.0 190.80 363.0 191.30 357.0 191.80 343.2 192.30 353.0 192.80 349.3 193.30 353.9 193.80 343.4 194.30 354.5 194.80 354.4 195.30 362.5 195.80 354.9 196.30 356.1 196.80 344.0 197.30 366.5 197.80 341.5 198.30 359.6 198.80 351.0 199.30 347.7 199.80 349.1 200.30 349.0 200.80 355.3 201.30 352.3 201.80 361.9 202.30 342.0 202.80 353.0 203.30 347.6 203.80 357.7 204.30 340.3 204.80 350.9 205.30 371.0 205.80 344.1 206.30 358.9 206.80 333.0 207.30 359.0 207.80 368.0 208.30 347.1 208.80 348.2 209.30 351.8 209.80 357.5 210.30 358.1 210.80 348.7" fill="none" stroke="#f04850" stroke-width="0.5" stroke-opacity="0.6"/>
<path d="M189.80 360.2 190.40 353.5 191.00 354.6 191.60 358.7 192.20 357.1 192.80 355.9 193.40 351.1 194.00 347.9 194.60 354.9 195.20 350.4 195.80 357.1 196.40 354.1 197.00 349.3 197.60 354.3 198.20 356.5 198.80 353.9 199.40 349.1 200.00 354.3 200.60 354.8 201.20 357.1 201.80 356.6 202.40 348.5 203.00 350.5 203.60 356.0 204.20 344.5 204.80 356.9 205.40 348.8 206.00 350.9 206.60 360.2 207.20 352.7 207.80 351.5 208.40 354.4 209.00 352.5 209.60 349.9 210.20 354.2 210.80 363.7" fill="none" stroke="#f06068" stroke-width="0.5" stroke-opacity="0.55"/>
<path d="M196.00 350.0 196.50 349.0 197.00 353.9 197.50 358.5 198.00 352.0 198.50 354.7 199.00 356.5 199.50 357.5 200.00 347.2 200.50 356.0 201.00 352.9 201.50 349.1 202.00 348.6 202.50 351.5 203.00 346.5 203.50 343.5 204.00 353.4 204.50 358.0 205.00 351.4 205.50 357.8 206.00 350.4 206.50 346.5 207.00 343.1 207.50 347.7 208.00 362.4 208.50 351.5 209.00 341.2 209.50 353.0 210.00 350.5 210.50 349.9 211.00 348.8" fill="none" stroke="#e83038" stroke-width="0.5" stroke-opacity="0.5"/>
<path d="M190.00 350.49 190.50 349.06 191.00 350.96 191.50 350.04 192.00 349.16 192.50 348.64 193.00 351.45 193.50 350.60 194.00 351.32 194.50 350.45 195.00 350.87 195.50 350.78 196.00 349.64 196.50 349.39 197.00 351.03 197.50 348.06 198.00 351.49 198.50 349.12 199.00 351.15 199.50 349.91 200.00 351.11 200.50 349.00 201.00 351.48 201.50 350.41 202.00 349.82 202.50 347.50 203.00 350.67 203.50 350.49 204.00 347.64 204.50 349.15 205.00 349.30 205.50 349.56 206.00 350.63 206.50 351.25 207.00 350.84 207.50 350.88 208.00 348.11 208.50 349.54 209.00 349.78 209.50 351.35 210.00 349.87 210.50 349.80 211.00 351.28 L211.00 355.79 210.50 356.12 210.00 358.29 209.50 357.82 209.00 356.02 208.50 356.10 208.00 356.52 207.50 357.52 207.00 359.93 206.50 357.48 206.00 356.13 205.50 358.93 205.00 356.11 204.50 357.31 204.00 356.15 203.50 356.01 203.00 357.44 202.50 356.74 202.00 356.99 201.50 356.05 201.00 359.57 200.50 358.70 200.00 355.57 199.50 355.51 199.00 359.79 198.50 357.54 198.00 355.83 197.50 357.04 197.00 357.34 196.50 357.78 196.00 356.05 195.50 356.00 195.00 359.36 194.50 356.82 194.00 356.47 193.50 355.57 193.00 359.63 192.50 358.58 192.00 356.18 191.50 358.10 191.00 357.73 190.50 357.96 190.00 356.85Z" fill="#ee3a40" fill-opacity="0.35"/>
<path d="M211.30 354.47 211.80 354.29 212.30 354.66 212.80 354.60 213.30 354.35 213.80 354.71 214.30 354.56 214.80 354.48 215.30 354.49 215.80 354.18 216.30 354.65 216.80 354.32 217.30 354.41 217.80 354.19 218.30 354.68 218.80 354.14 219.30 354.72 219.80 354.34 220.30 354.53 220.80 354.58 221.30 354.50 221.80 354.56 222.30 354.73 222.80 354.54 223.30 354.61 223.80 354.46 224.30 354.17 224.80 354.66 225.30 354.41 225.80 354.69 226.30 354.30 226.80 354.74 227.30 354.74 227.80 354.64 228.30 354.38 228.80 354.61 229.30 354.37 229.80 354.28 230.30 354.67 230.80 354.36 231.30 354.34 231.80 354.50 232.30 354.05 232.80 354.65 233.30 354.36 233.80 354.74 234.30 354.73 234.80 354.05 235.30 354.67 235.80 354.66 236.30 354.41 236.80 354.34 237.30 354.49 237.80 354.37 238.30 354.63 238.80 354.46 239.30 354.24 239.80 354.55 240.30 353.90 240.80 354.53 L240.80 355.60 240.30 355.56 239.80 355.82 239.30 355.47 238.80 355.80 238.30 355.67 237.80 355.67 237.30 355.46 236.80 355.77 236.30 355.78 235.80 355.57 235.30 356.06 234.80 356.00 234.30 355.62 233.80 356.12 233.30 355.49 232.80 355.58 232.30 355.51 231.80 355.63 231.30 355.70 230.80 355.62 230.30 355.61 229.80 355.54 229.30 355.57 228.80 355.52 228.30 356.09 227.80 355.89 227.30 355.63 226.80 355.92 226.30 355.47 225.80 355.61 225.30 355.45 224.80 355.56 224.30 355.87 223.80 355.66 223.30 355.90 222.80 355.82 222.30 355.60 221.80 355.85 221.30 355.79 220.80 355.58 220.30 355.79 219.80 355.90 219.30 355.87 218.80 355.90 218.30 355.76 217.80 355.75 217.30 355.49 216.80 355.53 216.30 355.50 215.80 355.58 215.30 355.66 214.80 355.46 214.30 355.52 213.80 355.59 213.30 355.92 212.80 355.47 212.30 355.66 211.80 355.74 211.30 355.75Z" fill="#ec1c24" fill-opacity="0.8"/>
<line x1="233.8" y1="352.6" x2="233.8" y2="355.1" stroke="#ec1c24" stroke-width="0.5" stroke-opacity="0.6"/>
<line x1="231.1" y1="354.7" x2="231.1" y2="355.2" stroke="#ec1c24" stroke-width="0.5" stroke-opacity="0.6"/>
<line x1="238.7" y1="354.4" x2="238.7" y2="356" stroke="#ec1c24" stroke-width="0.5" stroke-opacity="0.6"/>
<line x1="226.7" y1="354.3" x2="226.7" y2="356.4" stroke="#ec1c24" stroke-width="0.5" stroke-opacity="0.6"/>
<line x1="225" y1="354.9" x2="225" y2="355.4" stroke="#ec1c24" stroke-width="0.5" stroke-opacity="0.6"/>
<line x1="231.3" y1="354.6" x2="231.3" y2="355.7" stroke="#ec1c24" stroke-width="0.5" stroke-opacity="0.6"/>
<line x1="233" y1="353.6" x2="233" y2="356.5" stroke="#ec1c24" stroke-width="0.5" stroke-opacity="0.6"/>
<line x1="233.1" y1="353.5" x2="233.1" y2="355.5" stroke="#ec1c24" stroke-width="0.5" stroke-opacity="0.6"/>
<line x1="228" y1="355" x2="228" y2="356.4" stroke="#ec1c24" stroke-width="0.5" stroke-opacity="0.6"/>
<line x1="228.5" y1="354.7" x2="228.5" y2="356.1" stroke="#ec1c24" stroke-width="0.5" stroke-opacity="0.6"/>
<line x1="228" y1="354" x2="228" y2="356" stroke="#ec1c24" stroke-width="0.5" stroke-opacity="0.6"/>
<line x1="231.1" y1="354.1" x2="231.1" y2="356.1" stroke="#ec1c24" stroke-width="0.5" stroke-opacity="0.6"/>
<line x1="227.8" y1="354" x2="227.8" y2="355.2" stroke="#ec1c24" stroke-width="0.5" stroke-opacity="0.6"/>
<line x1="226.2" y1="354.3" x2="226.2" y2="355.2" stroke="#ec1c24" stroke-width="0.5" stroke-opacity="0.6"/>
<line x1="232.9" y1="353.3" x2="232.9" y2="356.9" stroke="#ec1c24" stroke-width="0.5" stroke-opacity="0.6"/>
<path d="M241.00 354.12 241.50 353.76 242.00 353.37 242.50 354.58 243.00 354.14 243.50 353.97 244.00 354.32 244.50 353.90 245.00 354.51 245.50 354.37 246.00 354.56 246.50 354.11 247.00 354.23 247.50 354.46 248.00 354.36 248.50 354.01 249.00 354.00 249.50 353.75 250.00 354.64 250.50 353.96 251.00 354.20 251.50 354.24 252.00 354.61 252.50 354.51 253.00 353.85 253.50 353.78 254.00 354.47 254.50 354.22 255.00 354.05 255.50 354.45 256.00 354.50 256.50 354.55 257.00 354.20 257.50 354.57 258.00 354.11 258.50 354.39 259.00 354.54 259.50 354.31 260.00 354.35 260.50 354.63 261.00 354.22 261.50 353.65 262.00 354.47 262.50 354.59 263.00 354.45 263.50 353.78 264.00 354.58 264.50 354.30 265.00 354.60 265.50 353.92 266.00 354.25 266.50 354.14 267.00 354.53 267.50 354.64 268.00 353.90 268.50 353.89 269.00 354.45 269.50 354.34 270.00 354.42 270.50 354.50 271.00 354.17 271.50 354.60 272.00 354.36 272.50 353.93 273.00 354.03 273.50 354.28 274.00 353.71 274.50 354.43 275.00 354.55 275.50 354.38 276.00 354.11 276.50 354.62 277.00 354.44 277.50 354.60 278.00 354.20 278.50 354.38 279.00 354.13 279.50 354.50 280.00 354.45 280.50 354.02 281.00 353.90 281.50 354.44 282.00 354.06 282.50 354.32 283.00 354.03 283.50 354.51 284.00 354.50 284.50 354.23 285.00 354.19 285.50 354.55 286.00 354.32 L286.00 355.63 285.50 356.05 285.00 355.67 284.50 355.90 284.00 355.59 283.50 355.78 283.00 355.91 282.50 355.57 282.00 355.91 281.50 355.62 281.00 355.73 280.50 357.08 280.00 356.22 279.50 355.57 279.00 355.76 278.50 355.95 278.00 355.64 277.50 356.00 277.00 355.88 276.50 355.63 276.00 356.63 275.50 355.76 275.00 355.55 274.50 356.33 274.00 356.26 273.50 355.65 273.00 355.88 272.50 355.93 272.00 355.88 271.50 356.77 271.00 355.70 270.50 356.04 270.00 356.73 269.50 356.04 269.00 355.61 268.50 355.62 268.00 355.84 267.50 355.90 267.00 355.62 266.50 355.66 266.00 355.63 265.50 356.18 265.00 355.71 264.50 356.10 264.00 355.61 263.50 356.41 263.00 356.00 262.50 355.79 262.00 355.83 261.50 356.01 261.00 355.64 260.50 355.70 260.00 355.75 259.50 355.84 259.00 355.75 258.50 356.46 258.00 356.35 257.50 356.17 257.00 355.96 256.50 356.07 256.00 355.72 255.50 355.75 255.00 355.89 254.50 355.65 254.00 356.11 253.50 355.62 253.00 355.80 252.50 356.17 252.00 356.20 251.50 355.98 251.00 356.77 250.50 355.92 250.00 355.95 249.50 356.83 249.00 356.18 248.50 355.80 248.00 356.42 247.50 356.66 247.00 356.46 246.50 355.68 246.00 355.71 245.50 355.80 245.00 355.77 244.50 355.71 244.00 355.63 243.50 356.03 243.00 356.31 242.50 356.00 242.00 356.26 241.50 356.10 241.00 356.07Z" fill="#111" fill-opacity="0.85"/>
<line x1="285.2" y1="355.1" x2="285.2" y2="355.1" stroke="#333" stroke-width="0.5" stroke-opacity="0.6"/>
<line x1="261.9" y1="352.8" x2="261.9" y2="355.1" stroke="#333" stroke-width="0.5" stroke-opacity="0.6"/>
<line x1="255.7" y1="355" x2="255.7" y2="355.4" stroke="#333" stroke-width="0.5" stroke-opacity="0.6"/>
<line x1="243.5" y1="354.1" x2="243.5" y2="355.1" stroke="#333" stroke-width="0.5" stroke-opacity="0.6"/>
<line x1="284.9" y1="355" x2="284.9" y2="355.3" stroke="#333" stroke-width="0.5" stroke-opacity="0.6"/>
<line x1="243.3" y1="353.8" x2="243.3" y2="355.5" stroke="#333" stroke-width="0.5" stroke-opacity="0.6"/>
<line x1="264.3" y1="353.9" x2="264.3" y2="355.1" stroke="#333" stroke-width="0.5" stroke-opacity="0.6"/>
<line x1="252.7" y1="354.7" x2="252.7" y2="355.1" stroke="#333" stroke-width="0.5" stroke-opacity="0.6"/>
<line x1="244.7" y1="355.1" x2="244.7" y2="356.3" stroke="#333" stroke-width="0.5" stroke-opacity="0.6"/>
<line x1="260.2" y1="353.1" x2="260.2" y2="355.1" stroke="#333" stroke-width="0.5" stroke-opacity="0.6"/>
<line x1="258.6" y1="352.7" x2="258.6" y2="355.2" stroke="#333" stroke-width="0.5" stroke-opacity="0.6"/>
<line x1="255.6" y1="352.6" x2="255.6" y2="357.1" stroke="#333" stroke-width="0.5" stroke-opacity="0.6"/>
<line x1="280.8" y1="354.9" x2="280.8" y2="357.1" stroke="#333" stroke-width="0.5" stroke-opacity="0.6"/>
<line x1="253.1" y1="354.4" x2="253.1" y2="356.3" stroke="#333" stroke-width="0.5" stroke-opacity="0.6"/>
<line x1="275.3" y1="355" x2="275.3" y2="357" stroke="#333" stroke-width="0.5" stroke-opacity="0.6"/>
<line x1="245.7" y1="353.9" x2="245.7" y2="356.7" stroke="#333" stroke-width="0.5" stroke-opacity="0.6"/>
<line x1="241.9" y1="354.8" x2="241.9" y2="355.7" stroke="#333" stroke-width="0.5" stroke-opacity="0.6"/>
<line x1="270.6" y1="354.9" x2="270.6" y2="357" stroke="#333" stroke-width="0.5" stroke-opacity="0.6"/>
<line x1="285.6" y1="355.1" x2="285.6" y2="357.4" stroke="#333" stroke-width="0.5" stroke-opacity="0.6"/>
<line x1="257.8" y1="354.3" x2="257.8" y2="355.5" stroke="#333" stroke-width="0.5" stroke-opacity="0.6"/>
<line x1="271.1" y1="355" x2="271.1" y2="356.6" stroke="#333" stroke-width="0.5" stroke-opacity="0.6"/>
<line x1="257.9" y1="354.4" x2="257.9" y2="357.5" stroke="#333" stroke-width="0.5" stroke-opacity="0.6"/>
<line x1="247" y1="354.5" x2="247" y2="357.3" stroke="#333" stroke-width="0.5" stroke-opacity="0.6"/>
<line x1="276.6" y1="352.6" x2="276.6" y2="356.3" stroke="#333" stroke-width="0.5" stroke-opacity="0.6"/>
<line x1="274.6" y1="354.7" x2="274.6" y2="355.3" stroke="#333" stroke-width="0.5" stroke-opacity="0.6"/>
<line x1="267.6" y1="354.5" x2="267.6" y2="355.4" stroke="#333" stroke-width="0.5" stroke-opacity="0.6"/>
<line x1="261.5" y1="353.6" x2="261.5" y2="357.4" stroke="#333" stroke-width="0.5" stroke-opacity="0.6"/>
<line x1="264.6" y1="354.2" x2="264.6" y2="357.5" stroke="#333" stroke-width="0.5" stroke-opacity="0.6"/>
<line x1="264.7" y1="355" x2="264.7" y2="355.5" stroke="#333" stroke-width="0.5" stroke-opacity="0.6"/>
<line x1="248" y1="354.9" x2="248" y2="355.7" stroke="#333" stroke-width="0.5" stroke-opacity="0.6"/>
<path d="M286.00 354.50 286.50 354.23 287.00 354.25 287.50 353.70 288.00 354.09 288.50 353.61 289.00 354.45 289.50 353.29 290.00 354.06 290.50 353.94 291.00 354.06 291.50 354.18 292.00 354.41 292.50 353.66 293.00 354.47 293.50 353.87 294.00 353.29 294.50 354.09 295.00 352.79 295.50 353.34 296.00 352.84 296.50 354.29 297.00 353.36 297.50 354.26 298.00 354.36 298.50 354.33 299.00 352.23 299.50 354.02 300.00 354.46 300.50 354.40 301.00 353.12 301.50 354.07 302.00 353.62 302.50 353.77 303.00 353.55 303.50 353.77 304.00 354.47 304.50 353.70 305.00 353.97 L305.00 356.03 304.50 355.99 304.00 356.32 303.50 356.83 303.00 355.79 302.50 356.12 302.00 357.49 301.50 356.28 301.00 356.42 300.50 356.89 300.00 356.73 299.50 356.51 299.00 355.88 298.50 356.22 298.00 356.77 297.50 355.81 297.00 356.12 296.50 355.88 296.00 356.31 295.50 356.99 295.00 356.30 294.50 355.76 294.00 356.31 293.50 355.87 293.00 356.22 292.50 355.77 292.00 356.78 291.50 356.39 291.00 357.50 290.50 356.28 290.00 355.81 289.50 356.47 289.00 357.09 288.50 356.92 288.00 355.77 287.50 356.80 287.00 355.76 286.50 355.80 286.00 355.80Z" fill="#222" fill-opacity="0.6"/>
<line x1="298.3" y1="354.3" x2="298.3" y2="356" stroke="#444" stroke-width="0.5" stroke-opacity="0.6"/>
<line x1="300" y1="354.3" x2="300" y2="355.1" stroke="#444" stroke-width="0.5" stroke-opacity="0.6"/>
<line x1="293.9" y1="351.7" x2="293.9" y2="355.2" stroke="#444" stroke-width="0.5" stroke-opacity="0.6"/>
<line x1="301.5" y1="354.9" x2="301.5" y2="355.3" stroke="#444" stroke-width="0.5" stroke-opacity="0.6"/>
<line x1="286.8" y1="355.1" x2="286.8" y2="356.9" stroke="#444" stroke-width="0.5" stroke-opacity="0.6"/>
<line x1="304.6" y1="354.8" x2="304.6" y2="355.4" stroke="#444" stroke-width="0.5" stroke-opacity="0.6"/>
<line x1="287.9" y1="352.1" x2="287.9" y2="355.4" stroke="#444" stroke-width="0.5" stroke-opacity="0.6"/>
<line x1="303.6" y1="354.1" x2="303.6" y2="355.3" stroke="#444" stroke-width="0.5" stroke-opacity="0.6"/>
<line x1="299.7" y1="352.3" x2="299.7" y2="357.8" stroke="#444" stroke-width="0.5" stroke-opacity="0.6"/>
<line x1="288.1" y1="354.8" x2="288.1" y2="356.3" stroke="#444" stroke-width="0.5" stroke-opacity="0.6"/>
<line x1="288.4" y1="354.4" x2="288.4" y2="355.2" stroke="#444" stroke-width="0.5" stroke-opacity="0.6"/>
<line x1="287.1" y1="354.7" x2="287.1" y2="356.3" stroke="#444" stroke-width="0.5" stroke-opacity="0.6"/>
<line x1="304.9" y1="354.4" x2="304.9" y2="355.2" stroke="#444" stroke-width="0.5" stroke-opacity="0.6"/>
<line x1="288.6" y1="353.6" x2="288.6" y2="355.2" stroke="#444" stroke-width="0.5" stroke-opacity="0.6"/>
<line x1="291.4" y1="354.3" x2="291.4" y2="355.8" stroke="#444" stroke-width="0.5" stroke-opacity="0.6"/>
<line x1="292.6" y1="354.9" x2="292.6" y2="356.7" stroke="#444" stroke-width="0.5" stroke-opacity="0.6"/>
<line x1="295.6" y1="354.9" x2="295.6" y2="355.9" stroke="#444" stroke-width="0.5" stroke-opacity="0.6"/>
<line x1="293.4" y1="354.9" x2="293.4" y2="357.9" stroke="#444" stroke-width="0.5" stroke-opacity="0.6"/>
<line x1="289.5" y1="352.5" x2="289.5" y2="355.9" stroke="#444" stroke-width="0.5" stroke-opacity="0.6"/>
<line x1="296.5" y1="351.7" x2="296.5" y2="357.8" stroke="#444" stroke-width="0.5" stroke-opacity="0.6"/>
<line x1="298.1" y1="355" x2="298.1" y2="355.7" stroke="#444" stroke-width="0.5" stroke-opacity="0.6"/>
<line x1="294.1" y1="355" x2="294.1" y2="355.2" stroke="#444" stroke-width="0.5" stroke-opacity="0.6"/>
<line x1="303.8" y1="353.2" x2="303.8" y2="355.3" stroke="#444" stroke-width="0.5" stroke-opacity="0.6"/>
<line x1="300.1" y1="354.9" x2="300.1" y2="355.3" stroke="#444" stroke-width="0.5" stroke-opacity="0.6"/>
<path d="M384.00 345.14 384.50 345.50 385.00 345.48 385.50 346.38 386.00 344.62 386.50 346.53 387.00 345.84 387.50 345.90 388.00 345.84 388.50 345.45 389.00 346.01 389.50 346.65 390.00 345.93 390.50 345.35 391.00 346.11 391.50 346.15 392.00 346.66 392.50 345.40 393.00 345.95 393.50 346.43 394.00 346.37 394.50 346.47 395.00 345.22 395.50 346.38 396.00 346.59 396.50 346.48 397.00 346.56 397.50 346.50 398.00 345.07 398.50 345.30 399.00 345.92 399.50 344.68 400.00 346.63 400.50 345.39 401.00 346.23 401.50 345.30 402.00 345.30 402.50 345.92 403.00 344.48 403.50 345.59 404.00 345.63 404.50 345.96 405.00 345.34 405.50 345.50 406.00 346.70 406.50 346.68 407.00 345.92 407.50 345.81 408.00 345.86 408.50 346.56 409.00 345.68 409.50 346.64 410.00 345.66 410.50 345.62 411.00 344.79 411.50 346.67 412.00 346.12 412.50 344.42 413.00 345.99 413.50 346.60 414.00 346.65 414.50 346.03 415.00 345.72 415.50 346.40 416.00 345.11 416.50 346.39 417.00 346.38 417.50 346.32 418.00 346.14 418.50 346.53 419.00 345.47 419.50 346.20 420.00 346.44 420.50 344.96 421.00 346.48 421.50 346.22 422.00 345.29 422.50 346.20 423.00 346.13 423.50 344.84 424.00 344.55 424.50 346.31 425.00 345.57 425.50 346.27 426.00 345.06 426.50 346.23 427.00 346.66 427.50 345.89 428.00 346.37 428.50 346.26 429.00 346.50 429.50 345.24 430.00 346.26 430.50 346.56 431.00 345.57 431.50 346.63 432.00 346.10 432.50 346.42 433.00 346.14 433.50 346.14 434.00 345.85 434.50 345.32 435.00 346.43 435.50 346.32 436.00 346.57 436.50 346.64 437.00 345.70 437.50 344.86 438.00 346.54 438.50 345.49 439.00 345.90 439.50 346.61 440.00 346.15 440.50 345.49 441.00 346.06 441.50 345.46 442.00 345.99 442.50 345.93 443.00 345.17 443.50 346.62 444.00 346.42 444.50 345.56 445.00 345.74 445.50 346.45 446.00 346.49 446.50 345.79 447.00 346.43 447.50 346.46 448.00 346.15 448.50 345.69 449.00 345.97 449.50 346.09 450.00 345.88 450.50 346.37 451.00 346.66 451.50 346.06 452.00 346.51 452.50 346.04 453.00 345.82 453.50 346.60 454.00 345.82 454.50 345.87 455.00 346.45 455.50 344.80 456.00 345.81 456.50 346.57 457.00 345.47 457.50 346.09 458.00 345.16 458.50 346.34 459.00 346.48 459.50 346.54 460.00 345.40 460.50 346.38 461.00 346.44 461.50 344.88 462.00 345.53 462.50 346.04 463.00 345.52 463.50 346.49 464.00 344.80 464.50 346.46 465.00 346.01 465.50 344.55 466.00 346.21 466.50 346.51 467.00 346.43 467.50 345.49 468.00 345.70 468.50 345.24 469.00 346.02 469.50 346.40 L469.50 349.51 469.00 349.39 468.50 349.34 468.00 350.30 467.50 348.93 467.00 349.37 466.50 349.86 466.00 349.74 465.50 350.32 465.00 349.04 464.50 349.80 464.00 348.98 463.50 350.03 463.00 349.09 462.50 350.07 462.00 349.01 461.50 349.43 461.00 349.18 460.50 350.30 460.00 349.27 459.50 349.67 459.00 351.81 458.50 349.73 458.00 348.97 457.50 350.00 457.00 350.35 456.50 349.70 456.00 349.83 455.50 349.72 455.00 349.76 454.50 349.12 454.00 349.34 453.50 349.97 453.00 349.28 452.50 350.29 452.00 349.57 451.50 349.50 451.00 350.31 450.50 349.59 450.00 349.37 449.50 350.05 449.00 350.52 448.50 349.87 448.00 349.52 447.50 348.91 447.00 349.13 446.50 350.50 446.00 349.36 445.50 350.04 445.00 349.39 444.50 349.62 444.00 349.87 443.50 349.42 443.00 350.38 442.50 349.08 442.00 349.13 441.50 350.30 441.00 349.59 440.50 349.47 440.00 350.52 439.50 349.08 439.00 349.71 438.50 350.40 438.00 350.33 437.50 349.13 437.00 349.25 436.50 349.85 436.00 349.12 435.50 349.88 435.00 349.26 434.50 349.18 434.00 349.40 433.50 349.19 433.00 349.76 432.50 349.54 432.00 349.90 431.50 349.59 431.00 349.05 430.50 349.53 430.00 349.42 429.50 349.66 429.00 349.06 428.50 349.30 428.00 350.06 427.50 348.97 427.00 349.33 426.50 349.70 426.00 349.11 425.50 349.73 425.00 349.49 424.50 349.30 424.00 349.20 423.50 350.50 423.00 349.15 422.50 349.59 422.00 350.19 421.50 348.97 421.00 349.02 420.50 350.01 420.00 350.73 419.50 349.65 419.00 349.18 418.50 350.25 418.00 349.27 417.50 349.64 417.00 349.99 416.50 349.32 416.00 350.21 415.50 349.93 415.00 349.08 414.50 349.85 414.00 349.88 413.50 350.47 413.00 350.47 412.50 349.36 412.00 349.71 411.50 349.97 411.00 349.16 410.50 350.04 410.00 349.36 409.50 350.20 409.00 349.14 408.50 349.49 408.00 351.31 407.50 351.09 407.00 349.88 406.50 349.20 406.00 349.82 405.50 349.14 405.00 349.08 404.50 349.21 404.00 350.29 403.50 349.20 403.00 349.95 402.50 350.26 402.00 349.35 401.50 350.61 401.00 349.19 400.50 350.04 400.00 350.04 399.50 349.25 399.00 349.78 398.50 349.29 398.00 350.39 397.50 349.79 397.00 349.02 396.50 349.40 396.00 349.26 395.50 349.45 395.00 349.31 394.50 350.24 394.00 350.62 393.50 350.27 393.00 350.07 392.50 349.77 392.00 349.43 391.50 348.93 391.00 349.06 390.50 349.01 390.00 349.83 389.50 349.31 389.00 349.42 388.50 348.99 388.00 348.93 387.50 349.01 387.00 349.28 386.50 350.69 386.00 349.13 385.50 349.01 385.00 351.74 384.50 349.70 384.00 349.03Z" fill="#000" fill-opacity="0.95"/>
<path d="M384.00 344.23 384.50 344.54 385.00 343.71 385.50 344.69 386.00 344.77 386.50 343.92 387.00 343.87 387.50 344.59 388.00 343.00 388.50 343.69 389.00 342.99 389.50 343.88 390.00 344.50 390.50 344.39 391.00 342.28 391.50 344.52 392.00 344.52 392.50 344.44 393.00 344.22 393.50 344.75 394.00 343.92 394.50 345.23 395.00 345.26 395.50 344.86 396.00 343.55 396.50 343.45 397.00 344.68 397.50 343.23 398.00 344.10 398.50 345.38 399.00 344.01 399.50 344.00 400.00 343.12 400.50 344.34 401.00 344.06 401.50 342.37 402.00 345.04 402.50 343.08 403.00 345.27 403.50 344.59 404.00 345.02 404.50 345.02 405.00 344.52 405.50 342.98 406.00 344.87 406.50 343.17 407.00 344.46 407.50 343.95 408.00 345.01 408.50 344.13 409.00 344.50 409.50 343.35 410.00 344.58 410.50 343.50 411.00 342.90 411.50 344.66 412.00 343.58 412.50 345.03 413.00 344.95 413.50 343.56 414.00 345.24 414.50 345.14 415.00 344.70 415.50 344.05 416.00 342.59 416.50 344.26 417.00 345.09 417.50 342.66 418.00 344.15 418.50 344.93 419.00 344.24 419.50 343.86 420.00 344.52 420.50 343.93 421.00 345.27 421.50 345.08 422.00 345.26 422.50 344.74 423.00 345.03 423.50 344.99 424.00 343.96 424.50 345.09 425.00 344.61 425.50 344.84 426.00 344.62 426.50 343.16 427.00 343.90 427.50 343.63 428.00 343.52 428.50 344.98 429.00 345.32 429.50 344.00 430.00 344.77 430.50 344.05 431.00 344.43 431.50 344.18 432.00 344.83 432.50 344.77 433.00 340.78 433.50 345.20 434.00 345.40 434.50 344.29 435.00 345.06 435.50 343.27 436.00 344.54 436.50 344.42 437.00 343.91 437.50 343.08 438.00 345.35 438.50 345.04 439.00 344.59 439.50 344.55 440.00 345.25 440.50 344.80 441.00 343.58 441.50 343.09 442.00 344.41 442.50 343.22 443.00 345.20 443.50 344.05 444.00 344.42 444.50 345.11 445.00 344.10 445.50 343.55 446.00 345.14 446.50 344.43 447.00 344.69 447.50 343.42 448.00 342.20 448.50 343.41 449.00 343.04 449.50 344.87 450.00 344.44 450.50 345.32 451.00 345.16 451.50 344.29 452.00 345.32 452.50 344.51 453.00 342.34 453.50 344.77 454.00 345.05 454.50 343.63 455.00 343.28 455.50 344.89 456.00 344.33 456.50 344.79 457.00 343.10 457.50 342.84 458.00 344.38 458.50 344.56 459.00 344.08 459.50 343.56 460.00 342.26 460.50 342.99 461.00 344.76 461.50 344.98 462.00 344.22 462.50 341.00 463.00 344.57 463.50 343.58 464.00 344.98 464.50 343.62 465.00 343.84 465.50 343.93 466.00 343.36 466.50 343.60 467.00 345.07 467.50 343.47 468.00 345.18 468.50 344.95 469.00 343.58 469.50 344.80 L469.50 350.99 469.00 351.18 468.50 352.23 468.00 350.99 467.50 352.05 467.00 350.53 466.50 352.16 466.00 354.44 465.50 350.59 465.00 350.85 464.50 351.74 464.00 350.41 463.50 350.22 463.00 350.78 462.50 351.22 462.00 350.25 461.50 350.98 461.00 350.42 460.50 351.96 460.00 350.63 459.50 350.50 459.00 351.41 458.50 350.51 458.00 350.22 457.50 351.74 457.00 351.93 456.50 350.69 456.00 353.82 455.50 351.36 455.00 351.28 454.50 350.85 454.00 350.30 453.50 351.87 453.00 351.45 452.50 351.46 452.00 352.38 451.50 351.65 451.00 350.58 450.50 350.99 450.00 351.32 449.50 351.09 449.00 352.20 448.50 351.78 448.00 350.79 447.50 351.20 447.00 351.29 446.50 353.10 446.00 351.13 445.50 351.18 445.00 351.83 444.50 352.99 444.00 354.17 443.50 350.48 443.00 350.74 442.50 352.00 442.00 351.54 441.50 351.26 441.00 350.46 440.50 352.98 440.00 350.40 439.50 352.21 439.00 351.20 438.50 350.97 438.00 352.16 437.50 350.72 437.00 351.74 436.50 353.60 436.00 351.10 435.50 352.38 435.00 352.98 434.50 351.85 434.00 354.07 433.50 351.49 433.00 352.44 432.50 351.70 432.00 350.45 431.50 352.40 431.00 350.62 430.50 353.39 430.00 350.48 429.50 350.63 429.00 350.53 428.50 350.60 428.00 351.48 427.50 350.91 427.00 350.34 426.50 350.97 426.00 351.76 425.50 350.64 425.00 351.42 424.50 350.58 424.00 353.44 423.50 350.64 423.00 352.05 422.50 352.66 422.00 350.27 421.50 351.43 421.00 350.26 420.50 352.25 420.00 350.69 419.50 350.56 419.00 351.18 418.50 351.13 418.00 351.54 417.50 350.34 417.00 350.28 416.50 350.60 416.00 350.45 415.50 350.79 415.00 353.58 414.50 352.05 414.00 352.09 413.50 352.21 413.00 351.64 412.50 351.23 412.00 350.40 411.50 351.71 411.00 350.51 410.50 351.75 410.00 350.24 409.50 351.92 409.00 351.73 408.50 351.19 408.00 351.74 407.50 350.30 407.00 353.16 406.50 350.51 406.00 353.87 405.50 351.42 405.00 352.37 404.50 350.90 404.00 350.31 403.50 351.21 403.00 350.68 402.50 350.27 402.00 350.93 401.50 350.23 401.00 351.00 400.50 353.01 400.00 352.17 399.50 351.03 399.00 350.73 398.50 350.58 398.00 352.08 397.50 350.44 397.00 350.89 396.50 350.30 396.00 350.34 395.50 351.62 395.00 350.47 394.50 352.66 394.00 350.64 393.50 350.24 393.00 351.42 392.50 353.26 392.00 350.60 391.50 350.22 391.00 350.46 390.50 352.05 390.00 351.48 389.50 352.69 389.00 351.90 388.50 350.69 388.00 350.54 387.50 351.09 387.00 350.41 386.50 350.38 386.00 350.57 385.50 351.14 385.00 350.65 384.50 351.21 384.00 351.45Z" fill="#333" fill-opacity="0.3"/>
<line x1="457.3" y1="345.3" x2="457.3" y2="347.8" stroke="#444" stroke-width="0.5" stroke-opacity="0.55"/>
<line x1="414" y1="347.4" x2="414" y2="347.7" stroke="#444" stroke-width="0.5" stroke-opacity="0.55"/>
<line x1="424.8" y1="342.9" x2="424.8" y2="349.1" stroke="#444" stroke-width="0.5" stroke-opacity="0.55"/>
<line x1="436.9" y1="346" x2="436.9" y2="349.9" stroke="#444" stroke-width="0.5" stroke-opacity="0.55"/>
<line x1="419.1" y1="347.6" x2="419.1" y2="354.7" stroke="#444" stroke-width="0.5" stroke-opacity="0.55"/>
<line x1="400" y1="347" x2="400" y2="348" stroke="#444" stroke-width="0.5" stroke-opacity="0.55"/>
<line x1="444.6" y1="343.4" x2="444.6" y2="347.7" stroke="#444" stroke-width="0.5" stroke-opacity="0.55"/>
<line x1="435.4" y1="347.6" x2="435.4" y2="353.4" stroke="#444" stroke-width="0.5" stroke-opacity="0.55"/>
<line x1="415.7" y1="344.3" x2="415.7" y2="350.6" stroke="#444" stroke-width="0.5" stroke-opacity="0.55"/>
<line x1="460.1" y1="346" x2="460.1" y2="348.3" stroke="#444" stroke-width="0.5" stroke-opacity="0.55"/>
<line x1="454" y1="347" x2="454" y2="348.6" stroke="#444" stroke-width="0.5" stroke-opacity="0.55"/>
<line x1="396.5" y1="347.4" x2="396.5" y2="348.6" stroke="#444" stroke-width="0.5" stroke-opacity="0.55"/>
<line x1="463.9" y1="342.4" x2="463.9" y2="348.6" stroke="#444" stroke-width="0.5" stroke-opacity="0.55"/>
<line x1="393.6" y1="347.3" x2="393.6" y2="350.4" stroke="#444" stroke-width="0.5" stroke-opacity="0.55"/>
<line x1="389.7" y1="345.9" x2="389.7" y2="349.1" stroke="#444" stroke-width="0.5" stroke-opacity="0.55"/>
<line x1="434.7" y1="347.6" x2="434.7" y2="353.9" stroke="#444" stroke-width="0.5" stroke-opacity="0.55"/>
<line x1="462.6" y1="347.6" x2="462.6" y2="353.7" stroke="#444" stroke-width="0.5" stroke-opacity="0.55"/>
<line x1="420.6" y1="347.6" x2="420.6" y2="352.5" stroke="#444" stroke-width="0.5" stroke-opacity="0.55"/>
<line x1="441.4" y1="347.2" x2="441.4" y2="347.8" stroke="#444" stroke-width="0.5" stroke-opacity="0.55"/>
<line x1="415.7" y1="347.6" x2="415.7" y2="351" stroke="#444" stroke-width="0.5" stroke-opacity="0.55"/>
<line x1="438.2" y1="345.8" x2="438.2" y2="348.4" stroke="#444" stroke-width="0.5" stroke-opacity="0.55"/>
<line x1="410.3" y1="347" x2="410.3" y2="348.2" stroke="#444" stroke-width="0.5" stroke-opacity="0.55"/>
<line x1="392.2" y1="346.6" x2="392.2" y2="347.7" stroke="#444" stroke-width="0.5" stroke-opacity="0.55"/>
<line x1="424.5" y1="346.8" x2="424.5" y2="352.4" stroke="#444" stroke-width="0.5" stroke-opacity="0.55"/>
<line x1="463.5" y1="345.2" x2="463.5" y2="349.6" stroke="#444" stroke-width="0.5" stroke-opacity="0.55"/>
<line x1="390.6" y1="346.3" x2="390.6" y2="348.1" stroke="#444" stroke-width="0.5" stroke-opacity="0.55"/>
<line x1="393.5" y1="345.5" x2="393.5" y2="348.4" stroke="#444" stroke-width="0.5" stroke-opacity="0.55"/>
<line x1="463.5" y1="347.7" x2="463.5" y2="350" stroke="#444" stroke-width="0.5" stroke-opacity="0.55"/>
<line x1="441.6" y1="345.4" x2="441.6" y2="353.8" stroke="#444" stroke-width="0.5" stroke-opacity="0.55"/>
<line x1="469.1" y1="347.1" x2="469.1" y2="347.9" stroke="#444" stroke-width="0.5" stroke-opacity="0.55"/>
<line x1="438.2" y1="345.9" x2="438.2" y2="349.6" stroke="#444" stroke-width="0.5" stroke-opacity="0.55"/>
<line x1="446.1" y1="347.4" x2="446.1" y2="348.9" stroke="#444" stroke-width="0.5" stroke-opacity="0.55"/>
<line x1="430" y1="345.7" x2="430" y2="353.2" stroke="#444" stroke-width="0.5" stroke-opacity="0.55"/>
<line x1="448.1" y1="347.3" x2="448.1" y2="349.7" stroke="#444" stroke-width="0.5" stroke-opacity="0.55"/>
<line x1="445.2" y1="342.1" x2="445.2" y2="351.8" stroke="#444" stroke-width="0.5" stroke-opacity="0.55"/>
<line x1="440.6" y1="343.4" x2="440.6" y2="347.9" stroke="#444" stroke-width="0.5" stroke-opacity="0.55"/>
<line x1="426.9" y1="347.7" x2="426.9" y2="350.6" stroke="#444" stroke-width="0.5" stroke-opacity="0.55"/>
<line x1="422.2" y1="347.5" x2="422.2" y2="349.9" stroke="#444" stroke-width="0.5" stroke-opacity="0.55"/>
<line x1="420.6" y1="346.5" x2="420.6" y2="350.6" stroke="#444" stroke-width="0.5" stroke-opacity="0.55"/>
<line x1="407.7" y1="345.7" x2="407.7" y2="351.6" stroke="#444" stroke-width="0.5" stroke-opacity="0.55"/>
<line x1="465.1" y1="347.5" x2="465.1" y2="348" stroke="#444" stroke-width="0.5" stroke-opacity="0.55"/>
<line x1="429.4" y1="347.5" x2="429.4" y2="350.3" stroke="#444" stroke-width="0.5" stroke-opacity="0.55"/>
<line x1="459.4" y1="346.5" x2="459.4" y2="349.6" stroke="#444" stroke-width="0.5" stroke-opacity="0.55"/>
<line x1="454.7" y1="342.6" x2="454.7" y2="353" stroke="#444" stroke-width="0.5" stroke-opacity="0.55"/>
<line x1="424.1" y1="347.3" x2="424.1" y2="348.2" stroke="#444" stroke-width="0.5" stroke-opacity="0.55"/>
<line x1="409.6" y1="346.4" x2="409.6" y2="352.8" stroke="#444" stroke-width="0.5" stroke-opacity="0.55"/>
<line x1="385.6" y1="341.8" x2="385.6" y2="348" stroke="#444" stroke-width="0.5" stroke-opacity="0.55"/>
<line x1="398.9" y1="346.8" x2="398.9" y2="349.1" stroke="#444" stroke-width="0.5" stroke-opacity="0.55"/>
<line x1="406.8" y1="346" x2="406.8" y2="349.3" stroke="#444" stroke-width="0.5" stroke-opacity="0.55"/>
<line x1="439.1" y1="345.1" x2="439.1" y2="354.2" stroke="#444" stroke-width="0.5" stroke-opacity="0.55"/>
<line x1="463.9" y1="346.4" x2="463.9" y2="353.4" stroke="#444" stroke-width="0.5" stroke-opacity="0.55"/>
<line x1="406.9" y1="342.1" x2="406.9" y2="349.1" stroke="#444" stroke-width="0.5" stroke-opacity="0.55"/>
<line x1="408.4" y1="346.4" x2="408.4" y2="348.7" stroke="#444" stroke-width="0.5" stroke-opacity="0.55"/>
<line x1="462.3" y1="347.6" x2="462.3" y2="349" stroke="#444" stroke-width="0.5" stroke-opacity="0.55"/>
<line x1="408.9" y1="342.6" x2="408.9" y2="347.7" stroke="#444" stroke-width="0.5" stroke-opacity="0.55"/>
<line x1="431.5" y1="343.8" x2="431.5" y2="353.2" stroke="#444" stroke-width="0.5" stroke-opacity="0.55"/>
<line x1="428" y1="344.2" x2="428" y2="350.3" stroke="#444" stroke-width="0.5" stroke-opacity="0.55"/>
<line x1="436" y1="347.5" x2="436" y2="350.7" stroke="#444" stroke-width="0.5" stroke-opacity="0.55"/>
<line x1="420.4" y1="344.6" x2="420.4" y2="348.1" stroke="#444" stroke-width="0.5" stroke-opacity="0.55"/>
<line x1="466.6" y1="346.9" x2="466.6" y2="347.8" stroke="#444" stroke-width="0.5" stroke-opacity="0.55"/>
<line x1="388.9" y1="342.3" x2="388.9" y2="352.8" stroke="#444" stroke-width="0.5" stroke-opacity="0.55"/>
<line x1="430.6" y1="347.7" x2="430.6" y2="349.9" stroke="#444" stroke-width="0.5" stroke-opacity="0.55"/>
<line x1="440.2" y1="342.9" x2="440.2" y2="352.9" stroke="#444" stroke-width="0.5" stroke-opacity="0.55"/>
<line x1="396.7" y1="346.6" x2="396.7" y2="349.5" stroke="#444" stroke-width="0.5" stroke-opacity="0.55"/>
<line x1="414.6" y1="346.8" x2="414.6" y2="349.4" stroke="#444" stroke-width="0.5" stroke-opacity="0.55"/>
<line x1="411.9" y1="347.2" x2="411.9" y2="354.7" stroke="#444" stroke-width="0.5" stroke-opacity="0.55"/>
<line x1="437.9" y1="347.3" x2="437.9" y2="348.2" stroke="#444" stroke-width="0.5" stroke-opacity="0.55"/>
<line x1="438.3" y1="347.6" x2="438.3" y2="354.7" stroke="#444" stroke-width="0.5" stroke-opacity="0.55"/>
<line x1="434.4" y1="347.4" x2="434.4" y2="347.7" stroke="#444" stroke-width="0.5" stroke-opacity="0.55"/>
<line x1="468.8" y1="343" x2="468.8" y2="349.8" stroke="#444" stroke-width="0.5" stroke-opacity="0.55"/>
<line x1="391.8" y1="347.7" x2="391.8" y2="348.7" stroke="#444" stroke-width="0.5" stroke-opacity="0.55"/>
<line x1="420.4" y1="347.1" x2="420.4" y2="351.4" stroke="#444" stroke-width="0.5" stroke-opacity="0.55"/>
<line x1="396.7" y1="342.4" x2="396.7" y2="351.8" stroke="#444" stroke-width="0.5" stroke-opacity="0.55"/>
<line x1="441.4" y1="345.9" x2="441.4" y2="347.7" stroke="#444" stroke-width="0.5" stroke-opacity="0.55"/>
<line x1="416.4" y1="347.4" x2="416.4" y2="354.6" stroke="#444" stroke-width="0.5" stroke-opacity="0.55"/>
<line x1="407.5" y1="343.5" x2="407.5" y2="350" stroke="#444" stroke-width="0.5" stroke-opacity="0.55"/>
<line x1="437.6" y1="343.3" x2="437.6" y2="349.1" stroke="#444" stroke-width="0.5" stroke-opacity="0.55"/>
<line x1="391.7" y1="347.7" x2="391.7" y2="350.9" stroke="#444" stroke-width="0.5" stroke-opacity="0.55"/>
<line x1="385.3" y1="347.6" x2="385.3" y2="349.3" stroke="#444" stroke-width="0.5" stroke-opacity="0.55"/>
<line x1="404.7" y1="345.5" x2="404.7" y2="354.5" stroke="#444" stroke-width="0.5" stroke-opacity="0.55"/>
<line x1="450.8" y1="346.5" x2="450.8" y2="349.3" stroke="#444" stroke-width="0.5" stroke-opacity="0.55"/>
<line x1="455.3" y1="347.4" x2="455.3" y2="348.1" stroke="#444" stroke-width="0.5" stroke-opacity="0.55"/>
<line x1="418.9" y1="344.2" x2="418.9" y2="348.8" stroke="#444" stroke-width="0.5" stroke-opacity="0.55"/>
<line x1="447.3" y1="342" x2="447.3" y2="349.1" stroke="#444" stroke-width="0.5" stroke-opacity="0.55"/>
<line x1="445.8" y1="347.6" x2="445.8" y2="349.1" stroke="#444" stroke-width="0.5" stroke-opacity="0.55"/>
<line x1="429.9" y1="346.8" x2="429.9" y2="349" stroke="#444" stroke-width="0.5" stroke-opacity="0.55"/>
<line x1="411.1" y1="347.6" x2="411.1" y2="348" stroke="#444" stroke-width="0.5" stroke-opacity="0.55"/>
<line x1="432.5" y1="343.4" x2="432.5" y2="350.8" stroke="#444" stroke-width="0.5" stroke-opacity="0.55"/>
<line x1="460.6" y1="342.7" x2="460.6" y2="347.8" stroke="#444" stroke-width="0.5" stroke-opacity="0.55"/>
<line x1="459.3" y1="345.6" x2="459.3" y2="347.7" stroke="#444" stroke-width="0.5" stroke-opacity="0.55"/>
<path d="M469.60 344.80 470.10 345.64 470.60 343.52 471.10 345.02 471.60 344.28 472.10 345.32 472.60 345.35 473.10 345.62 L473.10 349.42 472.60 350.24 472.10 352.78 471.60 349.07 471.10 351.12 470.60 352.05 470.10 350.29 469.60 349.59Z" fill="#ec1c24" fill-opacity="0.9"/>
<path d="M469.60 347.9 470.00 345.4 470.40 347.7 470.80 350.6 471.20 339.6 471.60 355.1 472.00 345.4 472.40 344.8 472.80 342.8 473.20 351.7 473.60 350.5" fill="none" stroke="#ec1c24" stroke-width="0.6" stroke-opacity="0.8"/>
<path d="M473.50 342.83 473.80 343.21 474.10 342.90 474.40 343.50 474.70 343.30 475.00 343.27 475.30 341.90 475.60 341.65 475.90 342.04 476.20 341.85 476.50 341.14 476.80 340.82 477.10 341.35 477.40 341.59 477.70 340.04 478.00 339.78 478.30 341.11 478.60 338.64 478.90 341.32 479.20 340.92 479.50 340.02 479.80 339.82 480.10 340.38 480.40 340.56 480.70 341.39 481.00 338.61 481.30 340.92 481.60 339.98 481.90 340.03 482.20 340.59 482.50 341.22 482.80 338.65 483.10 341.33 483.40 341.32 483.70 341.48 484.00 339.13 484.30 341.31 484.60 341.16 484.90 340.63 485.20 341.19 485.50 340.54 485.80 340.42 486.10 340.37 486.40 340.79 486.70 340.82 487.00 339.76 487.30 341.31 487.60 339.46 487.90 340.63 488.20 341.38 488.50 339.47 488.80 340.78 489.10 341.05 L489.10 355.19 488.80 353.77 488.50 355.97 488.20 353.79 487.90 355.07 487.60 353.92 487.30 355.30 487.00 356.38 486.70 354.22 486.40 353.74 486.10 354.36 485.80 353.81 485.50 353.81 485.20 354.90 484.90 353.62 484.60 354.54 484.30 354.53 484.00 355.28 483.70 356.01 483.40 355.37 483.10 356.35 482.80 355.21 482.50 354.61 482.20 353.80 481.90 354.43 481.60 353.90 481.30 354.41 481.00 354.12 480.70 355.05 480.40 353.71 480.10 355.85 479.80 354.29 479.50 354.51 479.20 354.15 478.90 354.50 478.60 354.89 478.30 354.58 478.00 355.05 477.70 354.21 477.40 354.00 477.10 356.63 476.80 355.40 476.50 353.93 476.20 352.81 475.90 354.08 475.60 353.77 475.30 353.01 475.00 352.12 474.70 352.18 474.40 353.32 474.10 354.56 473.80 351.77 473.50 351.23Z" fill="#f01818" fill-opacity="1.0"/>
<line x1="475" y1="345" x2="475" y2="357.7" stroke="#ec1c24" stroke-width="0.5" stroke-opacity="0.6"/>
<line x1="489" y1="341.1" x2="489" y2="354.3" stroke="#ec1c24" stroke-width="0.5" stroke-opacity="0.6"/>
<line x1="480" y1="344.7" x2="480" y2="347.7" stroke="#ec1c24" stroke-width="0.5" stroke-opacity="0.6"/>
<line x1="483.7" y1="347" x2="483.7" y2="356.8" stroke="#ec1c24" stroke-width="0.5" stroke-opacity="0.6"/>
<line x1="474.1" y1="338.8" x2="474.1" y2="353.4" stroke="#ec1c24" stroke-width="0.5" stroke-opacity="0.6"/>
<line x1="486.9" y1="343.1" x2="486.9" y2="347.7" stroke="#ec1c24" stroke-width="0.5" stroke-opacity="0.6"/>
<line x1="475.3" y1="347.3" x2="475.3" y2="358.9" stroke="#ec1c24" stroke-width="0.5" stroke-opacity="0.6"/>
<line x1="487.6" y1="347.5" x2="487.6" y2="347.6" stroke="#ec1c24" stroke-width="0.5" stroke-opacity="0.6"/>
<line x1="478.6" y1="346.1" x2="478.6" y2="348.4" stroke="#ec1c24" stroke-width="0.5" stroke-opacity="0.6"/>
<line x1="475.3" y1="347.5" x2="475.3" y2="349.7" stroke="#ec1c24" stroke-width="0.5" stroke-opacity="0.6"/>
<line x1="485.9" y1="343" x2="485.9" y2="349.5" stroke="#ec1c24" stroke-width="0.5" stroke-opacity="0.6"/>
<line x1="480.4" y1="343" x2="480.4" y2="347.7" stroke="#ec1c24" stroke-width="0.5" stroke-opacity="0.6"/>
<line x1="477.1" y1="347.4" x2="477.1" y2="348.4" stroke="#ec1c24" stroke-width="0.5" stroke-opacity="0.6"/>
<line x1="482.6" y1="346.9" x2="482.6" y2="359" stroke="#ec1c24" stroke-width="0.5" stroke-opacity="0.6"/>
<line x1="482.7" y1="340" x2="482.7" y2="355.3" stroke="#ec1c24" stroke-width="0.5" stroke-opacity="0.6"/>
<line x1="484.7" y1="341.8" x2="484.7" y2="352.1" stroke="#ec1c24" stroke-width="0.5" stroke-opacity="0.6"/>
<line x1="479.2" y1="345.8" x2="479.2" y2="355" stroke="#ec1c24" stroke-width="0.5" stroke-opacity="0.6"/>
<line x1="474.2" y1="342.3" x2="474.2" y2="356.8" stroke="#ec1c24" stroke-width="0.5" stroke-opacity="0.6"/>
<line x1="488.5" y1="340.7" x2="488.5" y2="349" stroke="#ec1c24" stroke-width="0.5" stroke-opacity="0.6"/>
<line x1="475.2" y1="339.2" x2="475.2" y2="355.2" stroke="#ec1c24" stroke-width="0.5" stroke-opacity="0.6"/>
<line x1="484.1" y1="343.8" x2="484.1" y2="350.9" stroke="#ec1c24" stroke-width="0.5" stroke-opacity="0.6"/>
<line x1="481.4" y1="342" x2="481.4" y2="358.8" stroke="#ec1c24" stroke-width="0.5" stroke-opacity="0.6"/>
<line x1="475.8" y1="345.9" x2="475.8" y2="348.1" stroke="#ec1c24" stroke-width="0.5" stroke-opacity="0.6"/>
<line x1="486" y1="346.9" x2="486" y2="347.7" stroke="#ec1c24" stroke-width="0.5" stroke-opacity="0.6"/>
<line x1="481.4" y1="344.8" x2="481.4" y2="356.3" stroke="#ec1c24" stroke-width="0.5" stroke-opacity="0.6"/>
<line x1="482.9" y1="341.2" x2="482.9" y2="348.2" stroke="#ec1c24" stroke-width="0.5" stroke-opacity="0.6"/>
<line x1="489" y1="345.9" x2="489" y2="351.9" stroke="#ec1c24" stroke-width="0.5" stroke-opacity="0.6"/>
<line x1="476" y1="344.6" x2="476" y2="348" stroke="#ec1c24" stroke-width="0.5" stroke-opacity="0.6"/>
<line x1="480.3" y1="346.5" x2="480.3" y2="356" stroke="#ec1c24" stroke-width="0.5" stroke-opacity="0.6"/>
<line x1="488.2" y1="341.2" x2="488.2" y2="348" stroke="#ec1c24" stroke-width="0.5" stroke-opacity="0.6"/>
<line x1="488.2" y1="344.8" x2="488.2" y2="354.5" stroke="#ec1c24" stroke-width="0.5" stroke-opacity="0.6"/>
<line x1="481.4" y1="346.8" x2="481.4" y2="358.2" stroke="#ec1c24" stroke-width="0.5" stroke-opacity="0.6"/>
<line x1="474.6" y1="342.5" x2="474.6" y2="347.5" stroke="#ec1c24" stroke-width="0.5" stroke-opacity="0.6"/>
<line x1="480.5" y1="344.6" x2="480.5" y2="348.4" stroke="#ec1c24" stroke-width="0.5" stroke-opacity="0.6"/>
<line x1="474.5" y1="343.3" x2="474.5" y2="350.8" stroke="#ec1c24" stroke-width="0.5" stroke-opacity="0.6"/>
<line x1="483.6" y1="345.5" x2="483.6" y2="354.5" stroke="#ec1c24" stroke-width="0.5" stroke-opacity="0.6"/>
<line x1="484.6" y1="345.9" x2="484.6" y2="357.1" stroke="#ec1c24" stroke-width="0.5" stroke-opacity="0.6"/>
<line x1="486.8" y1="345.2" x2="486.8" y2="356.8" stroke="#ec1c24" stroke-width="0.5" stroke-opacity="0.6"/>
<line x1="479.5" y1="343.5" x2="479.5" y2="351.9" stroke="#ec1c24" stroke-width="0.5" stroke-opacity="0.6"/>
<line x1="485.8" y1="342.3" x2="485.8" y2="360.1" stroke="#ec1c24" stroke-width="0.5" stroke-opacity="0.6"/>
<line x1="478.6" y1="346.9" x2="478.6" y2="347.4" stroke="#ec1c24" stroke-width="0.5" stroke-opacity="0.6"/>
<line x1="486.6" y1="346.3" x2="486.6" y2="349.9" stroke="#ec1c24" stroke-width="0.5" stroke-opacity="0.6"/>
<line x1="478.9" y1="344.3" x2="478.9" y2="358.1" stroke="#ec1c24" stroke-width="0.5" stroke-opacity="0.6"/>
<line x1="478" y1="342.2" x2="478" y2="360" stroke="#ec1c24" stroke-width="0.5" stroke-opacity="0.6"/>
<line x1="488" y1="347.1" x2="488" y2="348.7" stroke="#ec1c24" stroke-width="0.5" stroke-opacity="0.6"/>
<line x1="487.8" y1="343.4" x2="487.8" y2="347.7" stroke="#ec1c24" stroke-width="0.5" stroke-opacity="0.6"/>
<line x1="481.5" y1="338.4" x2="481.5" y2="354.1" stroke="#ec1c24" stroke-width="0.5" stroke-opacity="0.6"/>
<line x1="486.4" y1="339.3" x2="486.4" y2="355.9" stroke="#ec1c24" stroke-width="0.5" stroke-opacity="0.6"/>
<line x1="488.5" y1="343" x2="488.5" y2="360.3" stroke="#ec1c24" stroke-width="0.5" stroke-opacity="0.6"/>
<line x1="479.4" y1="342.2" x2="479.4" y2="347.7" stroke="#ec1c24" stroke-width="0.5" stroke-opacity="0.6"/>
<line x1="488.5" y1="344" x2="488.5" y2="360.2" stroke="#ec1c24" stroke-width="0.5" stroke-opacity="0.6"/>
<line x1="480.8" y1="344.7" x2="480.8" y2="351.9" stroke="#ec1c24" stroke-width="0.5" stroke-opacity="0.6"/>
<line x1="479.5" y1="342.9" x2="479.5" y2="349.3" stroke="#ec1c24" stroke-width="0.5" stroke-opacity="0.6"/>
<line x1="475.2" y1="346.7" x2="475.2" y2="353.5" stroke="#ec1c24" stroke-width="0.5" stroke-opacity="0.6"/>
<line x1="481.4" y1="347.3" x2="481.4" y2="347.6" stroke="#ec1c24" stroke-width="0.5" stroke-opacity="0.6"/>
<path d="M489.30 347.6 489.60 348.7 489.90 348.6 490.20 347.2 490.50 347.4 490.80 347.2" fill="none" stroke="#ec1c24" stroke-width="0.6" stroke-opacity="0.9"/>
<path d="M491.00 347.09 491.50 346.05 492.00 346.36 492.50 346.38 493.00 345.48 493.50 345.89 494.00 346.47 494.50 345.78 495.00 346.99 495.50 346.10 496.00 347.08 496.50 346.60 497.00 345.19 497.50 346.95 498.00 346.19 498.50 345.32 499.00 346.21 499.50 346.15 500.00 347.04 500.50 346.49 501.00 346.44 501.50 346.76 502.00 346.60 502.50 346.99 503.00 346.49 503.50 346.51 504.00 346.82 504.50 346.37 505.00 345.93 505.50 345.10 506.00 345.88 506.50 346.07 507.00 346.15 507.50 345.35 508.00 346.56 508.50 346.45 509.00 346.51 509.50 346.17 510.00 346.61 510.50 344.88 511.00 346.29 511.50 346.13 512.00 345.75 512.50 346.57 513.00 346.11 513.50 346.09 514.00 346.31 514.50 344.77 515.00 346.35 515.50 346.15 516.00 346.32 516.50 346.26 517.00 345.72 517.50 346.16 518.00 345.47 518.50 345.08 519.00 345.62 519.50 345.53 520.00 345.60 520.50 344.45 521.00 346.51 521.50 346.70 522.00 346.10 522.50 345.79 523.00 345.15 523.50 345.82 524.00 346.33 524.50 346.23 525.00 345.16 525.50 344.82 526.00 346.38 526.50 346.51 527.00 346.65 527.50 346.03 528.00 345.47 528.50 346.47 529.00 346.09 529.50 345.60 530.00 345.52 530.50 346.46 531.00 346.04 531.50 345.97 532.00 346.11 532.50 345.92 533.00 345.89 533.50 344.95 534.00 345.97 534.50 346.24 535.00 346.10 535.50 345.19 536.00 345.53 536.50 346.26 537.00 346.47 537.50 346.43 538.00 345.95 538.50 345.27 539.00 345.71 539.50 346.62 540.00 345.93 540.50 346.42 541.00 344.51 541.50 346.05 542.00 346.52 542.50 345.99 543.00 346.37 543.50 346.55 544.00 346.65 544.50 345.68 545.00 346.68 545.50 346.44 L545.50 348.76 545.00 349.10 544.50 349.44 544.00 349.24 543.50 350.02 543.00 349.33 542.50 349.01 542.00 348.73 541.50 348.81 541.00 348.80 540.50 348.99 540.00 349.48 539.50 349.30 539.00 349.21 538.50 349.07 538.00 349.13 537.50 349.84 537.00 350.23 536.50 349.97 536.00 350.38 535.50 349.32 535.00 348.87 534.50 349.85 534.00 349.37 533.50 348.95 533.00 348.97 532.50 348.92 532.00 349.77 531.50 349.59 531.00 348.79 530.50 349.50 530.00 349.97 529.50 348.78 529.00 348.97 528.50 349.11 528.00 348.74 527.50 350.22 527.00 349.28 526.50 350.94 526.00 349.82 525.50 350.79 525.00 350.38 524.50 351.08 524.00 349.41 523.50 348.76 523.00 349.52 522.50 349.52 522.00 349.80 521.50 349.53 521.00 349.37 520.50 349.65 520.00 349.05 519.50 348.99 519.00 350.15 518.50 349.01 518.00 349.02 517.50 348.80 517.00 349.71 516.50 349.60 516.00 349.09 515.50 348.76 515.00 349.84 514.50 349.99 514.00 348.90 513.50 349.84 513.00 349.10 512.50 349.53 512.00 348.92 511.50 349.15 511.00 349.76 510.50 349.03 510.00 349.86 509.50 348.81 509.00 349.00 508.50 349.99 508.00 350.82 507.50 349.32 507.00 349.38 506.50 349.08 506.00 349.01 505.50 349.09 505.00 348.96 504.50 348.96 504.00 348.88 503.50 349.57 503.00 348.91 502.50 348.43 502.00 349.94 501.50 349.19 501.00 349.97 500.50 348.41 500.00 348.83 499.50 348.91 499.00 350.91 498.50 348.47 498.00 348.75 497.50 349.77 497.00 349.17 496.50 349.05 496.00 349.19 495.50 349.34 495.00 348.36 494.50 349.63 494.00 348.96 493.50 349.65 493.00 349.88 492.50 348.81 492.00 348.64 491.50 350.38 491.00 348.84Z" fill="#ec1c24" fill-opacity="0.95"/>
<path d="M491.00 343.43 491.50 345.55 492.00 346.26 492.50 344.64 493.00 344.67 493.50 346.14 494.00 345.97 494.50 346.02 495.00 345.26 495.50 345.85 496.00 345.96 496.50 345.96 497.00 346.09 497.50 346.03 498.00 342.83 498.50 346.29 499.00 344.24 499.50 342.78 500.00 343.76 500.50 344.42 501.00 344.90 501.50 344.26 502.00 346.09 502.50 345.59 503.00 344.35 503.50 345.22 504.00 344.32 504.50 345.65 505.00 345.05 505.50 343.39 506.00 345.03 506.50 343.00 507.00 344.09 507.50 345.25 508.00 344.30 508.50 343.75 509.00 341.94 509.50 345.48 510.00 345.05 510.50 345.08 511.00 344.20 511.50 344.68 512.00 344.22 512.50 344.74 513.00 344.22 513.50 343.75 514.00 343.59 514.50 343.04 515.00 345.03 515.50 344.71 516.00 344.40 516.50 344.79 517.00 344.05 517.50 342.26 518.00 344.89 518.50 343.93 519.00 343.11 519.50 344.84 520.00 345.45 520.50 345.47 521.00 344.82 521.50 344.27 522.00 344.79 522.50 343.55 523.00 342.16 523.50 344.92 524.00 345.07 524.50 344.22 525.00 342.82 525.50 343.90 526.00 345.34 526.50 343.35 527.00 343.74 527.50 344.91 528.00 345.22 528.50 344.68 529.00 344.30 529.50 343.63 530.00 344.60 530.50 343.21 531.00 342.87 531.50 343.92 532.00 344.00 532.50 345.21 533.00 345.33 533.50 343.41 534.00 342.94 534.50 345.06 535.00 342.81 535.50 343.41 536.00 344.76 536.50 343.30 537.00 344.90 537.50 343.08 538.00 345.35 538.50 344.26 539.00 342.84 539.50 344.36 540.00 344.31 540.50 344.09 541.00 345.10 541.50 344.47 542.00 345.32 542.50 343.65 543.00 344.03 543.50 344.35 544.00 342.74 544.50 344.58 545.00 343.81 545.50 343.69 L545.50 350.77 545.00 350.22 544.50 350.18 544.00 351.44 543.50 350.26 543.00 349.98 542.50 350.37 542.00 350.29 541.50 349.95 541.00 350.82 540.50 352.02 540.00 350.53 539.50 353.44 539.00 351.26 538.50 350.51 538.00 352.99 537.50 352.75 537.00 352.98 536.50 352.26 536.00 350.82 535.50 351.37 535.00 350.03 534.50 350.64 534.00 350.14 533.50 353.58 533.00 350.49 532.50 350.94 532.00 351.08 531.50 353.89 531.00 351.64 530.50 350.33 530.00 352.11 529.50 352.31 529.00 350.66 528.50 350.10 528.00 353.50 527.50 351.35 527.00 350.49 526.50 350.05 526.00 350.96 525.50 352.38 525.00 350.36 524.50 349.95 524.00 350.28 523.50 352.21 523.00 349.97 522.50 351.31 522.00 351.03 521.50 350.29 521.00 350.55 520.50 352.57 520.00 352.43 519.50 351.25 519.00 351.67 518.50 351.88 518.00 351.65 517.50 353.14 517.00 352.80 516.50 350.81 516.00 351.11 515.50 351.25 515.00 349.94 514.50 350.74 514.00 350.35 513.50 350.32 513.00 350.64 512.50 350.09 512.00 351.78 511.50 351.77 511.00 353.42 510.50 351.83 510.00 351.43 509.50 353.16 509.00 350.45 508.50 350.22 508.00 350.67 507.50 352.03 507.00 350.23 506.50 351.64 506.00 351.26 505.50 351.59 505.00 351.92 504.50 349.35 504.00 351.39 503.50 349.33 503.00 350.51 502.50 349.27 502.00 351.06 501.50 350.01 501.00 350.52 500.50 351.26 500.00 350.55 499.50 349.35 499.00 350.46 498.50 349.44 498.00 350.12 497.50 351.43 497.00 349.58 496.50 351.98 496.00 349.17 495.50 350.53 495.00 349.56 494.50 349.18 494.00 349.18 493.50 352.21 493.00 350.19 492.50 350.94 492.00 349.61 491.50 349.44 491.00 350.09Z" fill="#ec1c24" fill-opacity="0.35"/>
<line x1="497.4" y1="340.6" x2="497.4" y2="355.4" stroke="#ec1c24" stroke-width="0.5" stroke-opacity="0.7"/>
<line x1="492" y1="347.6" x2="492" y2="350.7" stroke="#ec1c24" stroke-width="0.5" stroke-opacity="0.7"/>
<line x1="536.3" y1="347" x2="536.3" y2="348.9" stroke="#ec1c24" stroke-width="0.5" stroke-opacity="0.7"/>
<line x1="530.6" y1="347.7" x2="530.6" y2="355.8" stroke="#ec1c24" stroke-width="0.5" stroke-opacity="0.7"/>
<line x1="544" y1="341.4" x2="544" y2="359.3" stroke="#ec1c24" stroke-width="0.5" stroke-opacity="0.7"/>
<line x1="518.9" y1="347.3" x2="518.9" y2="355.6" stroke="#ec1c24" stroke-width="0.5" stroke-opacity="0.7"/>
<line x1="544.9" y1="341.9" x2="544.9" y2="347.8" stroke="#ec1c24" stroke-width="0.5" stroke-opacity="0.7"/>
<line x1="508.8" y1="347.2" x2="508.8" y2="354.7" stroke="#ec1c24" stroke-width="0.5" stroke-opacity="0.7"/>
<line x1="501.5" y1="347.7" x2="501.5" y2="350.5" stroke="#ec1c24" stroke-width="0.5" stroke-opacity="0.7"/>
<line x1="518" y1="345.4" x2="518" y2="351.4" stroke="#ec1c24" stroke-width="0.5" stroke-opacity="0.7"/>
<line x1="527.9" y1="344.5" x2="527.9" y2="349.5" stroke="#ec1c24" stroke-width="0.5" stroke-opacity="0.7"/>
<line x1="492.2" y1="342.5" x2="492.2" y2="348.5" stroke="#ec1c24" stroke-width="0.5" stroke-opacity="0.7"/>
<line x1="495.9" y1="341.5" x2="495.9" y2="348.1" stroke="#ec1c24" stroke-width="0.5" stroke-opacity="0.7"/>
<line x1="539" y1="346.4" x2="539" y2="358.3" stroke="#ec1c24" stroke-width="0.5" stroke-opacity="0.7"/>
<line x1="545.1" y1="338.1" x2="545.1" y2="355.2" stroke="#ec1c24" stroke-width="0.5" stroke-opacity="0.7"/>
<line x1="505.2" y1="342.6" x2="505.2" y2="351.2" stroke="#ec1c24" stroke-width="0.5" stroke-opacity="0.7"/>
<line x1="529.8" y1="346.3" x2="529.8" y2="351.7" stroke="#ec1c24" stroke-width="0.5" stroke-opacity="0.7"/>
<line x1="516.9" y1="346.1" x2="516.9" y2="349.6" stroke="#ec1c24" stroke-width="0.5" stroke-opacity="0.7"/>
<line x1="528.9" y1="346.5" x2="528.9" y2="350.5" stroke="#ec1c24" stroke-width="0.5" stroke-opacity="0.7"/>
<line x1="519" y1="347.3" x2="519" y2="354.2" stroke="#ec1c24" stroke-width="0.5" stroke-opacity="0.7"/>
<line x1="530.3" y1="341.9" x2="530.3" y2="350.8" stroke="#ec1c24" stroke-width="0.5" stroke-opacity="0.7"/>
<line x1="532" y1="344.3" x2="532" y2="347.9" stroke="#ec1c24" stroke-width="0.5" stroke-opacity="0.7"/>
<line x1="503.5" y1="341.5" x2="503.5" y2="352.2" stroke="#ec1c24" stroke-width="0.5" stroke-opacity="0.7"/>
<line x1="540.4" y1="347.7" x2="540.4" y2="356" stroke="#ec1c24" stroke-width="0.5" stroke-opacity="0.7"/>
<line x1="517.5" y1="347.7" x2="517.5" y2="349.3" stroke="#ec1c24" stroke-width="0.5" stroke-opacity="0.7"/>
<line x1="527.4" y1="346.6" x2="527.4" y2="356" stroke="#ec1c24" stroke-width="0.5" stroke-opacity="0.7"/>
<line x1="521.7" y1="346.6" x2="521.7" y2="359.5" stroke="#ec1c24" stroke-width="0.5" stroke-opacity="0.7"/>
<line x1="545.1" y1="346.6" x2="545.1" y2="351.8" stroke="#ec1c24" stroke-width="0.5" stroke-opacity="0.7"/>
<line x1="501.3" y1="344.5" x2="501.3" y2="351.2" stroke="#ec1c24" stroke-width="0.5" stroke-opacity="0.7"/>
<line x1="515.1" y1="346.8" x2="515.1" y2="348.2" stroke="#ec1c24" stroke-width="0.5" stroke-opacity="0.7"/>
<line x1="491.3" y1="343" x2="491.3" y2="351.7" stroke="#ec1c24" stroke-width="0.5" stroke-opacity="0.7"/>
<line x1="517.6" y1="346.9" x2="517.6" y2="349.9" stroke="#ec1c24" stroke-width="0.5" stroke-opacity="0.7"/>
<line x1="532.9" y1="342.4" x2="532.9" y2="357.1" stroke="#ec1c24" stroke-width="0.5" stroke-opacity="0.7"/>
<line x1="502.6" y1="347.6" x2="502.6" y2="357.1" stroke="#ec1c24" stroke-width="0.5" stroke-opacity="0.7"/>
<line x1="520.1" y1="346.2" x2="520.1" y2="356.1" stroke="#ec1c24" stroke-width="0.5" stroke-opacity="0.7"/>
<line x1="533.2" y1="342.3" x2="533.2" y2="348.4" stroke="#ec1c24" stroke-width="0.5" stroke-opacity="0.7"/>
<line x1="513" y1="339" x2="513" y2="347.7" stroke="#ec1c24" stroke-width="0.5" stroke-opacity="0.7"/>
<line x1="533.3" y1="340.1" x2="533.3" y2="355.1" stroke="#ec1c24" stroke-width="0.5" stroke-opacity="0.7"/>
<line x1="530.7" y1="341" x2="530.7" y2="347.8" stroke="#ec1c24" stroke-width="0.5" stroke-opacity="0.7"/>
<line x1="507.5" y1="346.9" x2="507.5" y2="352" stroke="#ec1c24" stroke-width="0.5" stroke-opacity="0.7"/>
<line x1="515.5" y1="341.3" x2="515.5" y2="353" stroke="#ec1c24" stroke-width="0.5" stroke-opacity="0.7"/>
<line x1="538.4" y1="345.1" x2="538.4" y2="348.8" stroke="#ec1c24" stroke-width="0.5" stroke-opacity="0.7"/>
<line x1="500.1" y1="347.7" x2="500.1" y2="349.7" stroke="#ec1c24" stroke-width="0.5" stroke-opacity="0.7"/>
<line x1="515.9" y1="340.2" x2="515.9" y2="355.7" stroke="#ec1c24" stroke-width="0.5" stroke-opacity="0.7"/>
<line x1="533.4" y1="347" x2="533.4" y2="350.2" stroke="#ec1c24" stroke-width="0.5" stroke-opacity="0.7"/>
<line x1="524.8" y1="340.7" x2="524.8" y2="348.6" stroke="#ec1c24" stroke-width="0.5" stroke-opacity="0.7"/>
<line x1="537.8" y1="346.5" x2="537.8" y2="355.5" stroke="#ec1c24" stroke-width="0.5" stroke-opacity="0.7"/>
<line x1="526.4" y1="344" x2="526.4" y2="349.6" stroke="#ec1c24" stroke-width="0.5" stroke-opacity="0.7"/>
<line x1="498.5" y1="347.7" x2="498.5" y2="355.5" stroke="#ec1c24" stroke-width="0.5" stroke-opacity="0.7"/>
<line x1="491.2" y1="343.1" x2="491.2" y2="348.8" stroke="#ec1c24" stroke-width="0.5" stroke-opacity="0.7"/>
<line x1="534.1" y1="346.9" x2="534.1" y2="359.4" stroke="#ec1c24" stroke-width="0.5" stroke-opacity="0.7"/>
<line x1="511.8" y1="341.2" x2="511.8" y2="348.8" stroke="#ec1c24" stroke-width="0.5" stroke-opacity="0.7"/>
<line x1="508.3" y1="345.1" x2="508.3" y2="352.7" stroke="#ec1c24" stroke-width="0.5" stroke-opacity="0.7"/>
<line x1="513" y1="347.5" x2="513" y2="347.8" stroke="#ec1c24" stroke-width="0.5" stroke-opacity="0.7"/>
<line x1="533.2" y1="343.5" x2="533.2" y2="351.2" stroke="#ec1c24" stroke-width="0.5" stroke-opacity="0.7"/>
<line x1="515.8" y1="341.3" x2="515.8" y2="347.8" stroke="#ec1c24" stroke-width="0.5" stroke-opacity="0.7"/>
<line x1="503.9" y1="347.4" x2="503.9" y2="348.7" stroke="#ec1c24" stroke-width="0.5" stroke-opacity="0.7"/>
<line x1="514.3" y1="344.8" x2="514.3" y2="350.8" stroke="#ec1c24" stroke-width="0.5" stroke-opacity="0.7"/>
<line x1="530.5" y1="341.3" x2="530.5" y2="353.4" stroke="#ec1c24" stroke-width="0.5" stroke-opacity="0.7"/>
<line x1="540" y1="342.5" x2="540" y2="349.8" stroke="#ec1c24" stroke-width="0.5" stroke-opacity="0.7"/>
<line x1="522.8" y1="337.8" x2="522.8" y2="348.2" stroke="#ec1c24" stroke-width="0.5" stroke-opacity="0.7"/>
<line x1="541.8" y1="347.7" x2="541.8" y2="348.4" stroke="#ec1c24" stroke-width="0.5" stroke-opacity="0.7"/>
<line x1="503.4" y1="347" x2="503.4" y2="348.3" stroke="#ec1c24" stroke-width="0.5" stroke-opacity="0.7"/>
<line x1="520.2" y1="345.3" x2="520.2" y2="348.4" stroke="#ec1c24" stroke-width="0.5" stroke-opacity="0.7"/>
<line x1="498" y1="347.4" x2="498" y2="349.4" stroke="#ec1c24" stroke-width="0.5" stroke-opacity="0.7"/>
<line x1="525.5" y1="343.3" x2="525.5" y2="358.9" stroke="#ec1c24" stroke-width="0.5" stroke-opacity="0.7"/>
<line x1="545" y1="345.6" x2="545" y2="350.3" stroke="#ec1c24" stroke-width="0.5" stroke-opacity="0.7"/>
<line x1="509.9" y1="340" x2="509.9" y2="348.4" stroke="#ec1c24" stroke-width="0.5" stroke-opacity="0.7"/>
<line x1="508.5" y1="347.2" x2="508.5" y2="349.7" stroke="#ec1c24" stroke-width="0.5" stroke-opacity="0.7"/>
<line x1="492.7" y1="344.7" x2="492.7" y2="352.1" stroke="#ec1c24" stroke-width="0.5" stroke-opacity="0.7"/>
<line x1="500" y1="338.5" x2="500" y2="354.5" stroke="#ec1c24" stroke-width="0.5" stroke-opacity="0.7"/>
<line x1="512.7" y1="341.7" x2="512.7" y2="348.5" stroke="#ec1c24" stroke-width="0.5" stroke-opacity="0.7"/>
<line x1="526.6" y1="345.8" x2="526.6" y2="353.2" stroke="#ec1c24" stroke-width="0.5" stroke-opacity="0.7"/>
<line x1="495.8" y1="347.6" x2="495.8" y2="347.9" stroke="#ec1c24" stroke-width="0.5" stroke-opacity="0.7"/>
<line x1="500.7" y1="346.1" x2="500.7" y2="348.7" stroke="#ec1c24" stroke-width="0.5" stroke-opacity="0.7"/>
<line x1="500.6" y1="345.9" x2="500.6" y2="347.8" stroke="#ec1c24" stroke-width="0.5" stroke-opacity="0.7"/>
<line x1="521.6" y1="346.1" x2="521.6" y2="347.7" stroke="#ec1c24" stroke-width="0.5" stroke-opacity="0.7"/>
<line x1="522.1" y1="341" x2="522.1" y2="349.5" stroke="#ec1c24" stroke-width="0.5" stroke-opacity="0.7"/>
<line x1="521.5" y1="341.2" x2="521.5" y2="347.8" stroke="#ec1c24" stroke-width="0.5" stroke-opacity="0.7"/>
<line x1="498.7" y1="338.8" x2="498.7" y2="353" stroke="#ec1c24" stroke-width="0.5" stroke-opacity="0.7"/>
<line x1="521.7" y1="345.6" x2="521.7" y2="353.8" stroke="#ec1c24" stroke-width="0.5" stroke-opacity="0.7"/>
<line x1="532.2" y1="343.2" x2="532.2" y2="351.9" stroke="#ec1c24" stroke-width="0.5" stroke-opacity="0.7"/>
<line x1="525" y1="346.3" x2="525" y2="350.3" stroke="#ec1c24" stroke-width="0.5" stroke-opacity="0.7"/>
<line x1="526.4" y1="347.2" x2="526.4" y2="359" stroke="#ec1c24" stroke-width="0.5" stroke-opacity="0.7"/>
<line x1="508.3" y1="347.6" x2="508.3" y2="352.4" stroke="#ec1c24" stroke-width="0.5" stroke-opacity="0.7"/>
<line x1="509.4" y1="341.7" x2="509.4" y2="349.4" stroke="#ec1c24" stroke-width="0.5" stroke-opacity="0.7"/>
<line x1="516.4" y1="347.7" x2="516.4" y2="355.6" stroke="#ec1c24" stroke-width="0.5" stroke-opacity="0.7"/>
<line x1="509.1" y1="340.9" x2="509.1" y2="349.1" stroke="#ec1c24" stroke-width="0.5" stroke-opacity="0.7"/>
<line x1="498.1" y1="344.9" x2="498.1" y2="356.4" stroke="#ec1c24" stroke-width="0.5" stroke-opacity="0.7"/>
<line x1="543.4" y1="337.7" x2="543.4" y2="349.3" stroke="#ec1c24" stroke-width="0.5" stroke-opacity="0.7"/>
<line x1="497.8" y1="347" x2="497.8" y2="351.9" stroke="#ec1c24" stroke-width="0.5" stroke-opacity="0.7"/>
<line x1="500" y1="344.2" x2="500" y2="359.1" stroke="#ec1c24" stroke-width="0.5" stroke-opacity="0.7"/>
<line x1="535.2" y1="347.4" x2="535.2" y2="348.8" stroke="#ec1c24" stroke-width="0.5" stroke-opacity="0.7"/>
<line x1="501.9" y1="346.1" x2="501.9" y2="357.9" stroke="#ec1c24" stroke-width="0.5" stroke-opacity="0.7"/>
<line x1="494.8" y1="347.5" x2="494.8" y2="351.5" stroke="#ec1c24" stroke-width="0.5" stroke-opacity="0.7"/>
<line x1="529.4" y1="346.9" x2="529.4" y2="349.7" stroke="#ec1c24" stroke-width="0.5" stroke-opacity="0.7"/>
<line x1="524.4" y1="341.4" x2="524.4" y2="347.7" stroke="#ec1c24" stroke-width="0.5" stroke-opacity="0.7"/>
<line x1="530.8" y1="340.3" x2="530.8" y2="348.7" stroke="#ec1c24" stroke-width="0.5" stroke-opacity="0.7"/>
<line x1="535.5" y1="338.9" x2="535.5" y2="355.9" stroke="#ec1c24" stroke-width="0.5" stroke-opacity="0.7"/>
<line x1="501.9" y1="345.9" x2="501.9" y2="349.1" stroke="#ec1c24" stroke-width="0.5" stroke-opacity="0.7"/>
<line x1="495" y1="339.1" x2="495" y2="353.4" stroke="#ec1c24" stroke-width="0.5" stroke-opacity="0.7"/>
<line x1="491.7" y1="346.5" x2="491.7" y2="348.1" stroke="#ec1c24" stroke-width="0.5" stroke-opacity="0.7"/>
<line x1="529.4" y1="344.5" x2="529.4" y2="351" stroke="#ec1c24" stroke-width="0.5" stroke-opacity="0.7"/>
<line x1="529.9" y1="341.7" x2="529.9" y2="357.8" stroke="#ec1c24" stroke-width="0.5" stroke-opacity="0.7"/>
<line x1="523.3" y1="347.6" x2="523.3" y2="355.8" stroke="#ec1c24" stroke-width="0.5" stroke-opacity="0.7"/>
<line x1="509.5" y1="347" x2="509.5" y2="358" stroke="#ec1c24" stroke-width="0.5" stroke-opacity="0.7"/>
<line x1="501.7" y1="347.5" x2="501.7" y2="351.5" stroke="#ec1c24" stroke-width="0.5" stroke-opacity="0.7"/>
<line x1="538.2" y1="347.7" x2="538.2" y2="347.7" stroke="#ec1c24" stroke-width="0.5" stroke-opacity="0.7"/>
<line x1="534.2" y1="338.3" x2="534.2" y2="349.8" stroke="#ec1c24" stroke-width="0.5" stroke-opacity="0.7"/>
<line x1="505.9" y1="343.3" x2="505.9" y2="352.5" stroke="#ec1c24" stroke-width="0.5" stroke-opacity="0.7"/>
<line x1="529.1" y1="338.4" x2="529.1" y2="348.1" stroke="#ec1c24" stroke-width="0.5" stroke-opacity="0.7"/>
<line x1="499.9" y1="344.1" x2="499.9" y2="356.3" stroke="#ec1c24" stroke-width="0.5" stroke-opacity="0.7"/>
<line x1="522.7" y1="344.8" x2="522.7" y2="351.6" stroke="#ec1c24" stroke-width="0.5" stroke-opacity="0.7"/>
<line x1="523.7" y1="347.7" x2="523.7" y2="352.9" stroke="#ec1c24" stroke-width="0.5" stroke-opacity="0.7"/>
<line x1="512.2" y1="338.1" x2="512.2" y2="351.1" stroke="#ec1c24" stroke-width="0.5" stroke-opacity="0.7"/>
<line x1="539.2" y1="342.5" x2="539.2" y2="350" stroke="#ec1c24" stroke-width="0.5" stroke-opacity="0.7"/>
<line x1="501.8" y1="345.3" x2="501.8" y2="348" stroke="#ec1c24" stroke-width="0.5" stroke-opacity="0.7"/>
<line x1="496" y1="340.7" x2="496" y2="347.7" stroke="#ec1c24" stroke-width="0.5" stroke-opacity="0.7"/>
<line x1="542.4" y1="347.6" x2="542.4" y2="354.3" stroke="#ec1c24" stroke-width="0.5" stroke-opacity="0.7"/>
<line x1="510.2" y1="343.7" x2="510.2" y2="347.8" stroke="#ec1c24" stroke-width="0.5" stroke-opacity="0.7"/>
<line x1="521.7" y1="339.9" x2="521.7" y2="353.2" stroke="#ec1c24" stroke-width="0.5" stroke-opacity="0.7"/>
<line x1="534.9" y1="345.2" x2="534.9" y2="348.5" stroke="#ec1c24" stroke-width="0.5" stroke-opacity="0.7"/>
<line x1="516.7" y1="345.8" x2="516.7" y2="354.3" stroke="#ec1c24" stroke-width="0.5" stroke-opacity="0.7"/>
<line x1="528.7" y1="343.7" x2="528.7" y2="357.4" stroke="#ec1c24" stroke-width="0.5" stroke-opacity="0.7"/>
<line x1="515.5" y1="342.2" x2="515.5" y2="349.3" stroke="#ec1c24" stroke-width="0.5" stroke-opacity="0.7"/>
<line x1="522.8" y1="340.8" x2="522.8" y2="349.7" stroke="#ec1c24" stroke-width="0.5" stroke-opacity="0.7"/>
<line x1="542.2" y1="346.2" x2="542.2" y2="348.9" stroke="#ec1c24" stroke-width="0.5" stroke-opacity="0.7"/>
<line x1="518.8" y1="343.9" x2="518.8" y2="348.7" stroke="#ec1c24" stroke-width="0.5" stroke-opacity="0.7"/>
<line x1="514.2" y1="341" x2="514.2" y2="356.9" stroke="#ec1c24" stroke-width="0.5" stroke-opacity="0.7"/>
<line x1="505.4" y1="347.6" x2="505.4" y2="349.5" stroke="#ec1c24" stroke-width="0.5" stroke-opacity="0.7"/>
<line x1="542.9" y1="339.2" x2="542.9" y2="355.8" stroke="#ec1c24" stroke-width="0.5" stroke-opacity="0.7"/>
<line x1="542.6" y1="347.1" x2="542.6" y2="347.9" stroke="#ec1c24" stroke-width="0.5" stroke-opacity="0.7"/>
<line x1="500.5" y1="346.8" x2="500.5" y2="349.3" stroke="#ec1c24" stroke-width="0.5" stroke-opacity="0.7"/>
<line x1="523.3" y1="343.2" x2="523.3" y2="348.7" stroke="#ec1c24" stroke-width="0.5" stroke-opacity="0.7"/>
<line x1="527.3" y1="346.4" x2="527.3" y2="352" stroke="#ec1c24" stroke-width="0.5" stroke-opacity="0.7"/>
<line x1="529.7" y1="347.6" x2="529.7" y2="348.2" stroke="#ec1c24" stroke-width="0.5" stroke-opacity="0.7"/>
<line x1="510.4" y1="346" x2="510.4" y2="358.8" stroke="#ec1c24" stroke-width="0.5" stroke-opacity="0.7"/>
<line x1="495.3" y1="346.2" x2="495.3" y2="349.7" stroke="#ec1c24" stroke-width="0.5" stroke-opacity="0.7"/>
<line x1="543.5" y1="343.2" x2="543.5" y2="349.2" stroke="#ec1c24" stroke-width="0.5" stroke-opacity="0.7"/>
<line x1="539.2" y1="347.3" x2="539.2" y2="353.5" stroke="#ec1c24" stroke-width="0.5" stroke-opacity="0.7"/>
<line x1="512.9" y1="347.7" x2="512.9" y2="371.2" stroke="#f07070" stroke-width="0.45" stroke-opacity="0.7"/>
<line x1="522.3" y1="347.7" x2="522.3" y2="358.7" stroke="#f07070" stroke-width="0.45" stroke-opacity="0.7"/>
<line x1="513.3" y1="347.7" x2="513.3" y2="378" stroke="#f07070" stroke-width="0.45" stroke-opacity="0.7"/>
<line x1="511.7" y1="347.7" x2="511.7" y2="362.8" stroke="#f07070" stroke-width="0.45" stroke-opacity="0.7"/>
<line x1="529.3" y1="347.7" x2="529.3" y2="373.3" stroke="#f07070" stroke-width="0.45" stroke-opacity="0.7"/>
<line x1="517.7" y1="347.7" x2="517.7" y2="371.4" stroke="#f07070" stroke-width="0.45" stroke-opacity="0.7"/>
<line x1="523.6" y1="347.7" x2="523.6" y2="366.6" stroke="#f07070" stroke-width="0.45" stroke-opacity="0.7"/>
<line x1="513.1" y1="347.7" x2="513.1" y2="375.9" stroke="#f07070" stroke-width="0.45" stroke-opacity="0.7"/>
<line x1="523.7" y1="347.7" x2="523.7" y2="371.4" stroke="#f07070" stroke-width="0.45" stroke-opacity="0.7"/>
<line x1="526.6" y1="347.7" x2="526.6" y2="372.1" stroke="#f07070" stroke-width="0.45" stroke-opacity="0.7"/>
<line x1="529.9" y1="347.7" x2="529.9" y2="364.9" stroke="#f07070" stroke-width="0.45" stroke-opacity="0.7"/>
<line x1="521.4" y1="347.7" x2="521.4" y2="370.9" stroke="#f07070" stroke-width="0.45" stroke-opacity="0.7"/>
<line x1="517.4" y1="347.7" x2="517.4" y2="372.8" stroke="#f07070" stroke-width="0.45" stroke-opacity="0.7"/>
<line x1="515" y1="347.7" x2="515" y2="376.2" stroke="#f07070" stroke-width="0.45" stroke-opacity="0.7"/>
<line x1="527.6" y1="347.7" x2="527.6" y2="362.7" stroke="#f07070" stroke-width="0.45" stroke-opacity="0.7"/>
<line x1="519.6" y1="347.7" x2="519.6" y2="366.7" stroke="#f07070" stroke-width="0.45" stroke-opacity="0.7"/>
<line x1="512" y1="347.7" x2="512" y2="377.5" stroke="#f07070" stroke-width="0.45" stroke-opacity="0.7"/>
<line x1="518.9" y1="347.7" x2="518.9" y2="363.3" stroke="#f07070" stroke-width="0.45" stroke-opacity="0.7"/>
<line x1="523.8" y1="347.7" x2="523.8" y2="364.8" stroke="#f07070" stroke-width="0.45" stroke-opacity="0.7"/>
<line x1="528.3" y1="347.7" x2="528.3" y2="365.2" stroke="#f07070" stroke-width="0.45" stroke-opacity="0.7"/>
<line x1="511" y1="347.7" x2="511" y2="364.8" stroke="#f07070" stroke-width="0.45" stroke-opacity="0.7"/>
<line x1="517.2" y1="347.7" x2="517.2" y2="370.6" stroke="#f07070" stroke-width="0.45" stroke-opacity="0.7"/>
<line x1="528.4" y1="347.7" x2="528.4" y2="374.5" stroke="#f07070" stroke-width="0.45" stroke-opacity="0.7"/>
<line x1="517.1" y1="347.7" x2="517.1" y2="358" stroke="#f07070" stroke-width="0.45" stroke-opacity="0.7"/>
<line x1="513.5" y1="347.7" x2="513.5" y2="379" stroke="#f07070" stroke-width="0.45" stroke-opacity="0.7"/>
<line x1="519.5" y1="347.7" x2="519.5" y2="374.4" stroke="#f07070" stroke-width="0.45" stroke-opacity="0.7"/>
<line x1="511.4" y1="347.7" x2="511.4" y2="359" stroke="#f07070" stroke-width="0.45" stroke-opacity="0.7"/>
<line x1="527.2" y1="347.7" x2="527.2" y2="372.7" stroke="#f07070" stroke-width="0.45" stroke-opacity="0.7"/>
<line x1="516.5" y1="347.7" x2="516.5" y2="367.6" stroke="#f07070" stroke-width="0.45" stroke-opacity="0.7"/>
<line x1="512.1" y1="347.7" x2="512.1" y2="364" stroke="#f07070" stroke-width="0.45" stroke-opacity="0.7"/>
<line x1="510.8" y1="347.7" x2="510.8" y2="376.7" stroke="#f07070" stroke-width="0.45" stroke-opacity="0.7"/>
<line x1="519.6" y1="347.7" x2="519.6" y2="362.7" stroke="#f07070" stroke-width="0.45" stroke-opacity="0.7"/>
<line x1="525.1" y1="347.7" x2="525.1" y2="364.6" stroke="#f07070" stroke-width="0.45" stroke-opacity="0.7"/>
<line x1="511.5" y1="347.7" x2="511.5" y2="372.9" stroke="#f07070" stroke-width="0.45" stroke-opacity="0.7"/>
<line x1="528.2" y1="347.7" x2="528.2" y2="358.6" stroke="#f07070" stroke-width="0.45" stroke-opacity="0.7"/>
<line x1="526.4" y1="347.7" x2="526.4" y2="364.5" stroke="#f07070" stroke-width="0.45" stroke-opacity="0.7"/>
<path d="M545.80 344.36 546.30 343.23 546.80 345.14 547.30 345.94 547.80 344.81 548.30 345.65 548.80 344.36 549.30 345.97 549.80 345.54 550.30 345.48 550.80 345.61 551.30 345.68 551.80 345.78 552.30 345.35 552.80 345.37 553.30 345.56 553.80 345.67 554.30 344.37 554.80 344.49 555.30 345.80 555.80 344.80 556.30 345.62 556.80 344.25 557.30 344.62 557.80 345.71 558.30 344.67 558.80 345.14 559.30 344.87 559.80 344.67 560.30 345.69 560.80 345.04 561.30 345.80 561.80 345.67 562.30 345.27 562.80 345.69 563.30 345.05 563.80 345.20 564.30 345.76 564.80 344.88 565.30 345.39 565.80 344.70 566.30 345.52 566.80 345.34 567.30 345.33 567.80 345.79 568.30 345.58 568.80 345.75 569.30 345.39 569.80 345.52 570.30 344.73 570.80 345.97 571.30 345.43 571.80 345.89 572.30 345.07 572.80 345.40 573.30 345.21 573.80 345.69 574.30 344.52 574.80 345.67 575.30 345.70 575.80 345.47 576.30 345.45 576.80 345.44 577.30 345.42 577.80 345.35 578.30 344.95 578.80 345.48 579.30 343.59 579.80 345.14 580.30 345.03 580.80 344.91 581.30 345.63 581.80 344.36 582.30 345.72 582.80 345.34 583.30 345.37 583.80 345.94 584.30 345.89 584.80 345.38 585.30 346.00 585.80 345.61 586.30 344.28 586.80 344.55 587.30 345.02 587.80 345.24 588.30 345.54 588.80 345.08 589.30 345.83 589.80 344.93 590.30 345.69 590.80 344.51 591.30 345.88 591.80 344.95 592.30 345.80 592.80 345.67 593.30 344.75 593.80 344.80 594.30 345.69 594.80 345.86 595.30 345.75 595.80 344.60 596.30 345.38 596.80 344.65 597.30 345.76 597.80 345.20 598.30 345.17 598.80 344.18 599.30 345.04 599.80 345.79 600.30 345.36 600.80 345.23 601.30 345.68 601.80 345.89 602.30 345.93 602.80 344.98 603.30 345.16 603.80 345.35 604.30 345.00 604.80 344.80 605.30 345.74 605.80 345.07 606.30 345.62 606.80 343.75 607.30 345.90 607.80 345.23 608.30 345.58 608.80 345.99 609.30 345.38 609.80 345.70 610.30 345.68 610.80 344.01 611.30 343.67 611.80 345.17 612.30 345.90 612.80 345.82 613.30 345.29 613.80 345.15 614.30 345.83 614.80 345.57 615.30 344.75 615.80 345.66 616.30 344.20 616.80 345.74 617.30 345.28 617.80 345.97 618.30 345.01 618.80 345.04 619.30 345.94 619.80 345.50 620.30 345.74 620.80 345.96 621.30 345.44 621.80 345.59 622.30 345.61 622.80 345.20 623.30 345.90 623.80 343.37 624.30 345.26 624.80 345.91 625.30 343.74 625.80 345.59 626.30 343.77 626.80 344.28 627.30 344.63 627.80 345.77 628.30 345.12 628.80 344.05 629.30 344.99 629.80 344.90 630.30 345.77 630.80 345.58 631.30 345.61 631.80 345.99 632.30 345.85 632.80 344.97 633.30 345.75 633.80 345.12 634.30 345.17 634.80 343.65 635.30 345.03 635.80 345.35 636.30 344.50 636.80 345.78 637.30 344.84 637.80 343.98 638.30 344.85 638.80 345.49 639.30 345.24 639.80 345.70 640.30 345.69 640.80 344.31 641.30 345.70 L641.30 350.17 640.80 349.13 640.30 348.29 639.80 348.65 639.30 348.47 638.80 348.87 638.30 348.20 637.80 348.86 637.30 349.52 636.80 348.15 636.30 349.62 635.80 349.33 635.30 348.65 634.80 348.24 634.30 349.36 633.80 349.12 633.30 348.59 632.80 348.79 632.30 349.04 631.80 348.28 631.30 348.10 630.80 348.14 630.30 349.57 629.80 348.08 629.30 348.46 628.80 348.47 628.30 348.18 627.80 348.92 627.30 348.28 626.80 348.68 626.30 348.16 625.80 348.80 625.30 348.28 624.80 348.79 624.30 348.82 623.80 349.06 623.30 348.31 622.80 349.44 622.30 348.41 621.80 349.65 621.30 348.14 620.80 348.13 620.30 348.92 619.80 348.59 619.30 348.10 618.80 348.40 618.30 348.47 617.80 348.17 617.30 348.72 616.80 348.08 616.30 348.63 615.80 350.36 615.30 348.32 614.80 348.31 614.30 350.15 613.80 349.19 613.30 348.31 612.80 348.76 612.30 350.36 611.80 348.11 611.30 348.57 610.80 349.03 610.30 349.03 609.80 348.81 609.30 348.46 608.80 349.59 608.30 348.86 607.80 348.49 607.30 349.34 606.80 348.65 606.30 348.25 605.80 349.16 605.30 348.65 604.80 348.88 604.30 348.31 603.80 348.03 603.30 348.74 602.80 348.34 602.30 349.33 601.80 348.03 601.30 348.42 600.80 348.05 600.30 348.43 599.80 348.02 599.30 349.79 598.80 348.39 598.30 348.56 597.80 348.37 597.30 349.54 596.80 348.83 596.30 348.59 595.80 348.08 595.30 348.24 594.80 348.77 594.30 348.34 593.80 348.77 593.30 349.61 592.80 348.05 592.30 348.11 591.80 348.12 591.30 349.14 590.80 348.19 590.30 348.41 589.80 348.79 589.30 348.20 588.80 348.01 588.30 348.09 587.80 349.32 587.30 348.51 586.80 348.90 586.30 348.43 585.80 349.12 585.30 348.16 584.80 348.10 584.30 348.23 583.80 349.94 583.30 349.91 582.80 349.44 582.30 348.05 581.80 349.36 581.30 349.36 580.80 349.04 580.30 350.50 579.80 348.26 579.30 348.85 578.80 348.02 578.30 348.21 577.80 348.47 577.30 349.81 576.80 348.28 576.30 350.14 575.80 349.03 575.30 348.05 574.80 348.07 574.30 348.26 573.80 348.28 573.30 348.65 572.80 348.04 572.30 348.32 571.80 348.55 571.30 348.80 570.80 348.39 570.30 348.35 569.80 348.87 569.30 348.11 568.80 349.35 568.30 348.13 567.80 348.09 567.30 348.06 566.80 348.58 566.30 348.41 565.80 348.87 565.30 348.79 564.80 349.54 564.30 348.16 563.80 349.02 563.30 348.87 562.80 348.86 562.30 350.03 561.80 349.79 561.30 349.01 560.80 349.40 560.30 348.34 559.80 348.20 559.30 348.86 558.80 349.25 558.30 348.89 557.80 348.18 557.30 348.48 556.80 348.33 556.30 348.21 555.80 348.64 555.30 348.91 554.80 348.11 554.30 350.13 553.80 349.62 553.30 348.69 552.80 348.22 552.30 348.51 551.80 348.14 551.30 348.10 550.80 349.16 550.30 348.68 549.80 348.08 549.30 348.72 548.80 349.21 548.30 350.06 547.80 350.32 547.30 348.98 546.80 349.25 546.30 348.39 545.80 349.00Z" fill="#111" fill-opacity="0.9"/>
<path d="M545.80 341.32 546.30 344.19 546.80 341.97 547.30 341.69 547.80 341.20 548.30 342.66 548.80 342.25 549.30 340.22 549.80 341.98 550.30 341.93 550.80 344.35 551.30 343.31 551.80 341.83 552.30 338.08 552.80 340.99 553.30 344.36 553.80 343.48 554.30 341.81 554.80 338.19 555.30 343.78 555.80 343.99 556.30 339.04 556.80 344.05 557.30 340.93 557.80 341.48 558.30 341.41 558.80 343.57 559.30 343.85 559.80 341.02 560.30 343.08 560.80 344.29 561.30 342.26 561.80 343.87 562.30 344.29 562.80 343.29 563.30 343.69 563.80 343.88 564.30 344.21 564.80 343.33 565.30 344.31 565.80 341.01 566.30 343.45 566.80 344.28 567.30 343.06 567.80 339.05 568.30 342.26 568.80 343.97 569.30 343.74 569.80 342.36 570.30 343.49 570.80 340.94 571.30 338.74 571.80 343.21 572.30 341.02 572.80 341.27 573.30 342.58 573.80 341.94 574.30 342.53 574.80 342.06 575.30 343.92 575.80 344.18 576.30 342.54 576.80 343.31 577.30 343.34 577.80 343.34 578.30 342.16 578.80 343.98 579.30 343.94 579.80 342.65 580.30 342.34 580.80 343.69 581.30 341.96 581.80 341.48 582.30 343.11 582.80 343.06 583.30 340.41 583.80 341.21 584.30 342.90 584.80 343.81 585.30 343.19 585.80 341.58 586.30 342.91 586.80 343.71 587.30 339.51 587.80 343.03 588.30 343.00 588.80 344.16 589.30 342.78 589.80 342.66 590.30 342.04 590.80 342.10 591.30 344.34 591.80 339.48 592.30 343.98 592.80 344.16 593.30 343.35 593.80 341.45 594.30 342.56 594.80 340.92 595.30 341.12 595.80 342.25 596.30 344.21 596.80 341.95 597.30 341.27 597.80 343.25 598.30 342.60 598.80 343.46 599.30 344.05 599.80 341.91 600.30 343.38 600.80 341.49 601.30 341.31 601.80 343.62 602.30 340.76 602.80 339.90 603.30 344.36 603.80 340.43 604.30 341.57 604.80 342.08 605.30 344.36 605.80 343.23 606.30 344.27 606.80 341.52 607.30 343.91 607.80 343.08 608.30 342.17 608.80 340.59 609.30 342.88 609.80 342.54 610.30 337.82 610.80 344.29 611.30 344.02 611.80 342.60 612.30 341.79 612.80 341.92 613.30 343.52 613.80 343.99 614.30 344.34 614.80 343.55 615.30 343.66 615.80 343.21 616.30 343.87 616.80 343.65 617.30 343.32 617.80 342.66 618.30 342.26 618.80 343.69 619.30 341.70 619.80 343.42 620.30 343.79 620.80 344.30 621.30 343.46 621.80 343.78 622.30 342.96 622.80 343.72 623.30 344.16 623.80 343.01 624.30 343.91 624.80 342.12 625.30 342.82 625.80 342.01 626.30 343.09 626.80 342.11 627.30 342.14 627.80 343.59 628.30 342.31 628.80 343.81 629.30 343.43 629.80 342.97 630.30 343.71 630.80 344.18 631.30 344.01 631.80 344.05 632.30 343.81 632.80 342.85 633.30 343.41 633.80 343.62 634.30 344.04 634.80 344.03 635.30 343.75 635.80 344.39 636.30 343.15 636.80 341.66 637.30 342.57 637.80 343.74 638.30 341.19 638.80 343.66 639.30 343.49 639.80 341.90 640.30 343.70 640.80 343.47 641.30 343.08 L641.30 350.93 640.80 353.87 640.30 352.55 639.80 351.50 639.30 350.14 638.80 352.81 638.30 352.67 637.80 351.56 637.30 354.14 636.80 349.63 636.30 349.89 635.80 349.75 635.30 350.24 634.80 350.76 634.30 351.33 633.80 350.58 633.30 351.61 632.80 350.12 632.30 353.94 631.80 354.13 631.30 352.74 630.80 350.33 630.30 349.90 629.80 352.22 629.30 350.95 628.80 351.86 628.30 352.88 627.80 351.73 627.30 350.98 626.80 353.16 626.30 352.44 625.80 349.78 625.30 352.95 624.80 354.91 624.30 351.27 623.80 349.93 623.30 351.40 622.80 349.91 622.30 350.56 621.80 352.80 621.30 351.79 620.80 350.43 620.30 353.55 619.80 352.52 619.30 353.16 618.80 351.38 618.30 353.05 617.80 354.45 617.30 350.19 616.80 351.50 616.30 349.97 615.80 352.63 615.30 352.68 614.80 350.12 614.30 350.12 613.80 350.67 613.30 350.71 612.80 349.69 612.30 351.80 611.80 351.39 611.30 351.04 610.80 350.11 610.30 350.88 609.80 351.58 609.30 353.21 608.80 351.63 608.30 352.16 607.80 351.02 607.30 351.16 606.80 351.44 606.30 349.64 605.80 350.96 605.30 350.57 604.80 353.01 604.30 351.14 603.80 351.38 603.30 351.03 602.80 351.82 602.30 352.30 601.80 351.30 601.30 351.13 600.80 351.73 600.30 351.36 599.80 352.66 599.30 349.81 598.80 350.06 598.30 350.84 597.80 350.94 597.30 352.46 596.80 350.52 596.30 351.21 595.80 355.56 595.30 351.52 594.80 352.17 594.30 351.99 593.80 351.78 593.30 349.74 592.80 351.26 592.30 351.45 591.80 351.49 591.30 353.45 590.80 356.95 590.30 350.10 589.80 349.96 589.30 352.27 588.80 350.32 588.30 350.43 587.80 352.55 587.30 352.23 586.80 354.79 586.30 349.99 585.80 352.41 585.30 349.96 584.80 349.80 584.30 349.77 583.80 350.34 583.30 350.38 582.80 353.75 582.30 352.58 581.80 351.30 581.30 350.03 580.80 350.72 580.30 351.81 579.80 350.55 579.30 354.92 578.80 350.79 578.30 350.30 577.80 353.36 577.30 353.33 576.80 350.64 576.30 351.10 575.80 350.43 575.30 349.90 574.80 353.04 574.30 350.75 573.80 350.12 573.30 350.18 572.80 352.73 572.30 350.98 571.80 349.65 571.30 350.26 570.80 351.44 570.30 350.94 569.80 350.59 569.30 351.84 568.80 350.08 568.30 352.80 567.80 350.77 567.30 349.96 566.80 350.38 566.30 352.50 565.80 349.68 565.30 350.68 564.80 349.65 564.30 351.41 563.80 351.70 563.30 350.32 562.80 350.89 562.30 350.10 561.80 351.17 561.30 352.29 560.80 352.10 560.30 352.67 559.80 349.85 559.30 350.17 558.80 350.99 558.30 352.69 557.80 350.21 557.30 351.10 556.80 353.66 556.30 350.48 555.80 350.11 555.30 350.83 554.80 350.39 554.30 354.60 553.80 350.08 553.30 350.72 552.80 350.82 552.30 350.51 551.80 350.16 551.30 352.02 550.80 354.08 550.30 353.16 549.80 350.13 549.30 354.77 548.80 350.86 548.30 351.47 547.80 351.41 547.30 349.94 546.80 352.46 546.30 350.72 545.80 349.71Z" fill="#444" fill-opacity="0.3"/>
<line x1="554.9" y1="345" x2="554.9" y2="350.1" stroke="#707070" stroke-width="0.5" stroke-opacity="0.7"/>
<line x1="574" y1="345" x2="574" y2="366.1" stroke="#707070" stroke-width="0.5" stroke-opacity="0.7"/>
<line x1="593.1" y1="345" x2="593.1" y2="370.5" stroke="#707070" stroke-width="0.5" stroke-opacity="0.7"/>
<line x1="566.7" y1="345" x2="566.7" y2="354.6" stroke="#707070" stroke-width="0.5" stroke-opacity="0.7"/>
<line x1="570.7" y1="345" x2="570.7" y2="375.2" stroke="#707070" stroke-width="0.5" stroke-opacity="0.7"/>
<line x1="635.9" y1="345" x2="635.9" y2="355.2" stroke="#707070" stroke-width="0.5" stroke-opacity="0.7"/>
<line x1="587.6" y1="345" x2="587.6" y2="354.6" stroke="#707070" stroke-width="0.5" stroke-opacity="0.7"/>
<line x1="617.3" y1="345" x2="617.3" y2="350.2" stroke="#707070" stroke-width="0.5" stroke-opacity="0.7"/>
<line x1="552.4" y1="345" x2="552.4" y2="356.7" stroke="#707070" stroke-width="0.5" stroke-opacity="0.7"/>
<line x1="569.4" y1="345" x2="569.4" y2="370.2" stroke="#707070" stroke-width="0.5" stroke-opacity="0.7"/>
<line x1="616.8" y1="345" x2="616.8" y2="360.5" stroke="#707070" stroke-width="0.5" stroke-opacity="0.7"/>
<line x1="609.2" y1="345" x2="609.2" y2="365" stroke="#707070" stroke-width="0.5" stroke-opacity="0.7"/>
<line x1="620.6" y1="345" x2="620.6" y2="373.2" stroke="#707070" stroke-width="0.5" stroke-opacity="0.7"/>
<line x1="560.3" y1="345" x2="560.3" y2="362.9" stroke="#707070" stroke-width="0.5" stroke-opacity="0.7"/>
<line x1="559.7" y1="345" x2="559.7" y2="357.7" stroke="#707070" stroke-width="0.5" stroke-opacity="0.7"/>
<line x1="621.1" y1="345" x2="621.1" y2="372" stroke="#707070" stroke-width="0.5" stroke-opacity="0.7"/>
<line x1="618.5" y1="345" x2="618.5" y2="350.2" stroke="#707070" stroke-width="0.5" stroke-opacity="0.7"/>
<line x1="580.3" y1="345" x2="580.3" y2="351.7" stroke="#707070" stroke-width="0.5" stroke-opacity="0.7"/>
<line x1="641.4" y1="345" x2="641.4" y2="351.4" stroke="#707070" stroke-width="0.5" stroke-opacity="0.7"/>
<line x1="569.3" y1="345" x2="569.3" y2="355.6" stroke="#707070" stroke-width="0.5" stroke-opacity="0.7"/>
<line x1="551.8" y1="345" x2="551.8" y2="371.1" stroke="#707070" stroke-width="0.5" stroke-opacity="0.7"/>
<line x1="606.8" y1="345" x2="606.8" y2="351.7" stroke="#707070" stroke-width="0.5" stroke-opacity="0.7"/>
<line x1="593.6" y1="345" x2="593.6" y2="350.6" stroke="#707070" stroke-width="0.5" stroke-opacity="0.7"/>
<line x1="604.3" y1="345" x2="604.3" y2="352.9" stroke="#707070" stroke-width="0.5" stroke-opacity="0.7"/>
<line x1="549.7" y1="345" x2="549.7" y2="351" stroke="#707070" stroke-width="0.5" stroke-opacity="0.7"/>
<line x1="599" y1="345" x2="599" y2="363.2" stroke="#707070" stroke-width="0.5" stroke-opacity="0.7"/>
<line x1="577" y1="345" x2="577" y2="363.4" stroke="#707070" stroke-width="0.5" stroke-opacity="0.7"/>
<line x1="579.6" y1="345" x2="579.6" y2="351.2" stroke="#707070" stroke-width="0.5" stroke-opacity="0.7"/>
<line x1="576.1" y1="345" x2="576.1" y2="356.5" stroke="#707070" stroke-width="0.5" stroke-opacity="0.7"/>
<line x1="633.2" y1="345" x2="633.2" y2="351" stroke="#707070" stroke-width="0.5" stroke-opacity="0.7"/>
<line x1="554.2" y1="345" x2="554.2" y2="360.9" stroke="#707070" stroke-width="0.5" stroke-opacity="0.7"/>
<line x1="638" y1="345" x2="638" y2="372.5" stroke="#707070" stroke-width="0.5" stroke-opacity="0.7"/>
<line x1="612.9" y1="345" x2="612.9" y2="350.4" stroke="#707070" stroke-width="0.5" stroke-opacity="0.7"/>
<line x1="623" y1="345" x2="623" y2="364.7" stroke="#707070" stroke-width="0.5" stroke-opacity="0.7"/>
<line x1="559.7" y1="345" x2="559.7" y2="358.2" stroke="#707070" stroke-width="0.5" stroke-opacity="0.7"/>
<line x1="550.7" y1="345" x2="550.7" y2="368.7" stroke="#707070" stroke-width="0.5" stroke-opacity="0.7"/>
<line x1="614.6" y1="345" x2="614.6" y2="368.8" stroke="#707070" stroke-width="0.5" stroke-opacity="0.7"/>
<line x1="618.6" y1="345" x2="618.6" y2="353.6" stroke="#707070" stroke-width="0.5" stroke-opacity="0.7"/>
<line x1="621.4" y1="345" x2="621.4" y2="353.2" stroke="#707070" stroke-width="0.5" stroke-opacity="0.7"/>
<line x1="559.2" y1="345" x2="559.2" y2="356.3" stroke="#707070" stroke-width="0.5" stroke-opacity="0.7"/>
<line x1="593.5" y1="345" x2="593.5" y2="354" stroke="#707070" stroke-width="0.5" stroke-opacity="0.7"/>
<line x1="603.9" y1="345" x2="603.9" y2="362.2" stroke="#707070" stroke-width="0.5" stroke-opacity="0.7"/>
<line x1="568.9" y1="345" x2="568.9" y2="362.8" stroke="#707070" stroke-width="0.5" stroke-opacity="0.7"/>
<line x1="580.1" y1="345" x2="580.1" y2="366.4" stroke="#707070" stroke-width="0.5" stroke-opacity="0.7"/>
<line x1="573.7" y1="345" x2="573.7" y2="368.6" stroke="#707070" stroke-width="0.5" stroke-opacity="0.7"/>
<line x1="585.6" y1="345" x2="585.6" y2="360.7" stroke="#707070" stroke-width="0.5" stroke-opacity="0.7"/>
<line x1="610.3" y1="345" x2="610.3" y2="359.7" stroke="#707070" stroke-width="0.5" stroke-opacity="0.7"/>
<line x1="570.6" y1="345" x2="570.6" y2="375.2" stroke="#707070" stroke-width="0.5" stroke-opacity="0.7"/>
<line x1="555.2" y1="345" x2="555.2" y2="354.8" stroke="#707070" stroke-width="0.5" stroke-opacity="0.7"/>
<line x1="598.4" y1="345" x2="598.4" y2="350.1" stroke="#707070" stroke-width="0.5" stroke-opacity="0.7"/>
<line x1="560.8" y1="345" x2="560.8" y2="368.6" stroke="#707070" stroke-width="0.5" stroke-opacity="0.7"/>
<line x1="620.9" y1="345" x2="620.9" y2="363.2" stroke="#707070" stroke-width="0.5" stroke-opacity="0.7"/>
<line x1="632.1" y1="345" x2="632.1" y2="367.1" stroke="#707070" stroke-width="0.5" stroke-opacity="0.7"/>
<line x1="574.5" y1="345" x2="574.5" y2="363.5" stroke="#707070" stroke-width="0.5" stroke-opacity="0.7"/>
<line x1="578.5" y1="345" x2="578.5" y2="366.9" stroke="#707070" stroke-width="0.5" stroke-opacity="0.7"/>
<line x1="552.6" y1="346.8" x2="552.6" y2="347.2" stroke="#555" stroke-width="0.5" stroke-opacity="0.6"/>
<line x1="604.3" y1="345.1" x2="604.3" y2="356" stroke="#555" stroke-width="0.5" stroke-opacity="0.6"/>
<line x1="593.4" y1="346.7" x2="593.4" y2="347" stroke="#555" stroke-width="0.5" stroke-opacity="0.6"/>
<line x1="613.8" y1="344.9" x2="613.8" y2="350.4" stroke="#555" stroke-width="0.5" stroke-opacity="0.6"/>
<line x1="573.3" y1="346.8" x2="573.3" y2="347.7" stroke="#555" stroke-width="0.5" stroke-opacity="0.6"/>
<line x1="615.3" y1="340.9" x2="615.3" y2="352.7" stroke="#555" stroke-width="0.5" stroke-opacity="0.6"/>
<line x1="565.8" y1="339.6" x2="565.8" y2="353.6" stroke="#555" stroke-width="0.5" stroke-opacity="0.6"/>
<line x1="563.4" y1="338.3" x2="563.4" y2="352.2" stroke="#555" stroke-width="0.5" stroke-opacity="0.6"/>
<line x1="565.5" y1="346.9" x2="565.5" y2="349.2" stroke="#555" stroke-width="0.5" stroke-opacity="0.6"/>
<line x1="607.6" y1="344.7" x2="607.6" y2="355.7" stroke="#555" stroke-width="0.5" stroke-opacity="0.6"/>
<line x1="615.2" y1="346.8" x2="615.2" y2="352.9" stroke="#555" stroke-width="0.5" stroke-opacity="0.6"/>
<line x1="606.2" y1="345.8" x2="606.2" y2="356" stroke="#555" stroke-width="0.5" stroke-opacity="0.6"/>
<line x1="624.3" y1="338.3" x2="624.3" y2="355.5" stroke="#555" stroke-width="0.5" stroke-opacity="0.6"/>
<line x1="577.9" y1="346.8" x2="577.9" y2="347.9" stroke="#555" stroke-width="0.5" stroke-opacity="0.6"/>
<line x1="558.4" y1="345.5" x2="558.4" y2="352.6" stroke="#555" stroke-width="0.5" stroke-opacity="0.6"/>
<line x1="599.2" y1="343.9" x2="599.2" y2="347.4" stroke="#555" stroke-width="0.5" stroke-opacity="0.6"/>
<line x1="575.3" y1="344.9" x2="575.3" y2="347" stroke="#555" stroke-width="0.5" stroke-opacity="0.6"/>
<line x1="629.9" y1="346.9" x2="629.9" y2="351.4" stroke="#555" stroke-width="0.5" stroke-opacity="0.6"/>
<line x1="582.4" y1="341.2" x2="582.4" y2="348.6" stroke="#555" stroke-width="0.5" stroke-opacity="0.6"/>
<line x1="602.8" y1="344.1" x2="602.8" y2="347.6" stroke="#555" stroke-width="0.5" stroke-opacity="0.6"/>
<line x1="610.3" y1="344.4" x2="610.3" y2="347.2" stroke="#555" stroke-width="0.5" stroke-opacity="0.6"/>
<line x1="552.7" y1="346.9" x2="552.7" y2="347.6" stroke="#555" stroke-width="0.5" stroke-opacity="0.6"/>
<line x1="591.1" y1="345.3" x2="591.1" y2="348.5" stroke="#555" stroke-width="0.5" stroke-opacity="0.6"/>
<line x1="553.7" y1="338" x2="553.7" y2="348.9" stroke="#555" stroke-width="0.5" stroke-opacity="0.6"/>
<line x1="585" y1="347" x2="585" y2="349.9" stroke="#555" stroke-width="0.5" stroke-opacity="0.6"/>
<line x1="608.5" y1="346.7" x2="608.5" y2="347.1" stroke="#555" stroke-width="0.5" stroke-opacity="0.6"/>
<line x1="586" y1="339" x2="586" y2="350.3" stroke="#555" stroke-width="0.5" stroke-opacity="0.6"/>
<line x1="584.6" y1="344.7" x2="584.6" y2="350.2" stroke="#555" stroke-width="0.5" stroke-opacity="0.6"/>
<line x1="581.8" y1="345.5" x2="581.8" y2="347.5" stroke="#555" stroke-width="0.5" stroke-opacity="0.6"/>
<line x1="612.1" y1="345.5" x2="612.1" y2="349" stroke="#555" stroke-width="0.5" stroke-opacity="0.6"/>
<line x1="592.6" y1="343.5" x2="592.6" y2="351.1" stroke="#555" stroke-width="0.5" stroke-opacity="0.6"/>
<line x1="567.5" y1="346.4" x2="567.5" y2="347.2" stroke="#555" stroke-width="0.5" stroke-opacity="0.6"/>
<line x1="635.3" y1="345.4" x2="635.3" y2="352.5" stroke="#555" stroke-width="0.5" stroke-opacity="0.6"/>
<line x1="626" y1="342.3" x2="626" y2="347" stroke="#555" stroke-width="0.5" stroke-opacity="0.6"/>
<line x1="615.8" y1="343.4" x2="615.8" y2="349.7" stroke="#555" stroke-width="0.5" stroke-opacity="0.6"/>
<line x1="624" y1="346.7" x2="624" y2="349.6" stroke="#555" stroke-width="0.5" stroke-opacity="0.6"/>
<line x1="598" y1="346.7" x2="598" y2="347.1" stroke="#555" stroke-width="0.5" stroke-opacity="0.6"/>
<line x1="584.6" y1="340.9" x2="584.6" y2="347.2" stroke="#555" stroke-width="0.5" stroke-opacity="0.6"/>
<line x1="603.5" y1="343.9" x2="603.5" y2="347.1" stroke="#555" stroke-width="0.5" stroke-opacity="0.6"/>
<line x1="573.7" y1="346.2" x2="573.7" y2="348.2" stroke="#555" stroke-width="0.5" stroke-opacity="0.6"/>
<line x1="606.7" y1="345.8" x2="606.7" y2="347.8" stroke="#555" stroke-width="0.5" stroke-opacity="0.6"/>
<line x1="551.5" y1="338.5" x2="551.5" y2="347" stroke="#555" stroke-width="0.5" stroke-opacity="0.6"/>
<line x1="622.3" y1="338.2" x2="622.3" y2="347" stroke="#555" stroke-width="0.5" stroke-opacity="0.6"/>
<line x1="590.1" y1="345.4" x2="590.1" y2="348.5" stroke="#555" stroke-width="0.5" stroke-opacity="0.6"/>
<line x1="601.1" y1="342.1" x2="601.1" y2="354.6" stroke="#555" stroke-width="0.5" stroke-opacity="0.6"/>
<line x1="620.5" y1="344.9" x2="620.5" y2="349" stroke="#555" stroke-width="0.5" stroke-opacity="0.6"/>
<line x1="617" y1="341.3" x2="617" y2="354.2" stroke="#555" stroke-width="0.5" stroke-opacity="0.6"/>
<line x1="624.4" y1="344.8" x2="624.4" y2="350.1" stroke="#555" stroke-width="0.5" stroke-opacity="0.6"/>
<line x1="605.2" y1="345.5" x2="605.2" y2="352.1" stroke="#555" stroke-width="0.5" stroke-opacity="0.6"/>
<line x1="596.7" y1="345.4" x2="596.7" y2="347.7" stroke="#555" stroke-width="0.5" stroke-opacity="0.6"/>
<line x1="607.4" y1="346.5" x2="607.4" y2="347" stroke="#555" stroke-width="0.5" stroke-opacity="0.6"/>
<line x1="600" y1="338.7" x2="600" y2="350.9" stroke="#555" stroke-width="0.5" stroke-opacity="0.6"/>
<line x1="622.5" y1="346.9" x2="622.5" y2="353.8" stroke="#555" stroke-width="0.5" stroke-opacity="0.6"/>
<line x1="614.9" y1="342.9" x2="614.9" y2="349.5" stroke="#555" stroke-width="0.5" stroke-opacity="0.6"/>
<line x1="622.8" y1="346.9" x2="622.8" y2="355.6" stroke="#555" stroke-width="0.5" stroke-opacity="0.6"/>
<line x1="573" y1="346.2" x2="573" y2="350.2" stroke="#555" stroke-width="0.5" stroke-opacity="0.6"/>
<line x1="624.7" y1="347" x2="624.7" y2="348.7" stroke="#555" stroke-width="0.5" stroke-opacity="0.6"/>
<line x1="613.1" y1="338.9" x2="613.1" y2="348.4" stroke="#555" stroke-width="0.5" stroke-opacity="0.6"/>
<line x1="549.5" y1="342.1" x2="549.5" y2="347.2" stroke="#555" stroke-width="0.5" stroke-opacity="0.6"/>
<line x1="563.7" y1="338.1" x2="563.7" y2="354.8" stroke="#555" stroke-width="0.5" stroke-opacity="0.6"/>
<line x1="556.5" y1="343.2" x2="556.5" y2="347.6" stroke="#555" stroke-width="0.5" stroke-opacity="0.6"/>
<line x1="640.8" y1="346" x2="640.8" y2="348.7" stroke="#555" stroke-width="0.5" stroke-opacity="0.6"/>
<line x1="610.1" y1="346.4" x2="610.1" y2="347.5" stroke="#555" stroke-width="0.5" stroke-opacity="0.6"/>
<line x1="641.6" y1="345.8" x2="641.6" y2="353.6" stroke="#555" stroke-width="0.5" stroke-opacity="0.6"/>
<line x1="583.8" y1="341.2" x2="583.8" y2="347.2" stroke="#555" stroke-width="0.5" stroke-opacity="0.6"/>
<line x1="583.4" y1="342.2" x2="583.4" y2="349.1" stroke="#555" stroke-width="0.5" stroke-opacity="0.6"/>
<line x1="553.8" y1="343.6" x2="553.8" y2="355.3" stroke="#555" stroke-width="0.5" stroke-opacity="0.6"/>
<line x1="638.5" y1="344.1" x2="638.5" y2="352.2" stroke="#555" stroke-width="0.5" stroke-opacity="0.6"/>
<line x1="575.9" y1="345.7" x2="575.9" y2="353.2" stroke="#555" stroke-width="0.5" stroke-opacity="0.6"/>
<line x1="620.9" y1="343.6" x2="620.9" y2="354.4" stroke="#555" stroke-width="0.5" stroke-opacity="0.6"/>
<line x1="609.3" y1="346.8" x2="609.3" y2="352.9" stroke="#555" stroke-width="0.5" stroke-opacity="0.6"/>
<line x1="610.8" y1="347" x2="610.8" y2="348" stroke="#555" stroke-width="0.5" stroke-opacity="0.6"/>
<line x1="568.5" y1="342.2" x2="568.5" y2="352.5" stroke="#555" stroke-width="0.5" stroke-opacity="0.6"/>
<line x1="639.1" y1="342" x2="639.1" y2="352.3" stroke="#555" stroke-width="0.5" stroke-opacity="0.6"/>
<line x1="567.2" y1="345.4" x2="567.2" y2="348.9" stroke="#555" stroke-width="0.5" stroke-opacity="0.6"/>
<line x1="586.7" y1="341.4" x2="586.7" y2="351.4" stroke="#555" stroke-width="0.5" stroke-opacity="0.6"/>
<line x1="636.2" y1="345.9" x2="636.2" y2="347.2" stroke="#555" stroke-width="0.5" stroke-opacity="0.6"/>
<line x1="572.9" y1="346.4" x2="572.9" y2="347.9" stroke="#555" stroke-width="0.5" stroke-opacity="0.6"/>
<line x1="639.1" y1="345.3" x2="639.1" y2="354.9" stroke="#555" stroke-width="0.5" stroke-opacity="0.6"/>
<line x1="638" y1="347" x2="638" y2="353" stroke="#555" stroke-width="0.5" stroke-opacity="0.6"/>
<line x1="612.2" y1="346.9" x2="612.2" y2="353.7" stroke="#555" stroke-width="0.5" stroke-opacity="0.6"/>
<line x1="584.1" y1="338.7" x2="584.1" y2="352.9" stroke="#555" stroke-width="0.5" stroke-opacity="0.6"/>
<line x1="614.6" y1="346.1" x2="614.6" y2="348.7" stroke="#555" stroke-width="0.5" stroke-opacity="0.6"/>
<line x1="562.8" y1="339.6" x2="562.8" y2="347.6" stroke="#555" stroke-width="0.5" stroke-opacity="0.6"/>
<line x1="561.4" y1="339.4" x2="561.4" y2="347.3" stroke="#555" stroke-width="0.5" stroke-opacity="0.6"/>
<line x1="550.7" y1="345.2" x2="550.7" y2="349.6" stroke="#555" stroke-width="0.5" stroke-opacity="0.6"/>
<line x1="629.6" y1="344.3" x2="629.6" y2="352.3" stroke="#555" stroke-width="0.5" stroke-opacity="0.6"/>
<line x1="583.7" y1="338.1" x2="583.7" y2="350.8" stroke="#555" stroke-width="0.5" stroke-opacity="0.6"/>
<line x1="602.5" y1="339.2" x2="602.5" y2="353.6" stroke="#555" stroke-width="0.5" stroke-opacity="0.6"/>
<line x1="566.6" y1="346.9" x2="566.6" y2="347.4" stroke="#555" stroke-width="0.5" stroke-opacity="0.6"/>
<line x1="547.4" y1="341" x2="547.4" y2="347.4" stroke="#555" stroke-width="0.5" stroke-opacity="0.6"/>
<line x1="563.3" y1="345.5" x2="563.3" y2="349.6" stroke="#555" stroke-width="0.5" stroke-opacity="0.6"/>
<line x1="624.6" y1="346" x2="624.6" y2="355.9" stroke="#555" stroke-width="0.5" stroke-opacity="0.6"/>
<line x1="638.5" y1="346.9" x2="638.5" y2="347.5" stroke="#555" stroke-width="0.5" stroke-opacity="0.6"/>
<line x1="594.6" y1="339.9" x2="594.6" y2="347" stroke="#555" stroke-width="0.5" stroke-opacity="0.6"/>
<line x1="553.4" y1="343.8" x2="553.4" y2="351.7" stroke="#555" stroke-width="0.5" stroke-opacity="0.6"/>
<line x1="603.9" y1="342.8" x2="603.9" y2="349.6" stroke="#555" stroke-width="0.5" stroke-opacity="0.6"/>
<line x1="603.5" y1="340.4" x2="603.5" y2="350.6" stroke="#555" stroke-width="0.5" stroke-opacity="0.6"/>
<line x1="556.9" y1="342.5" x2="556.9" y2="347.6" stroke="#555" stroke-width="0.5" stroke-opacity="0.6"/>
<line x1="601.3" y1="346.9" x2="601.3" y2="347.1" stroke="#555" stroke-width="0.5" stroke-opacity="0.6"/>
<line x1="572.3" y1="343" x2="572.3" y2="353.7" stroke="#555" stroke-width="0.5" stroke-opacity="0.6"/>
<line x1="618.1" y1="338" x2="618.1" y2="347.5" stroke="#555" stroke-width="0.5" stroke-opacity="0.6"/>
<line x1="636.2" y1="347" x2="636.2" y2="349.8" stroke="#555" stroke-width="0.5" stroke-opacity="0.6"/>
<line x1="577.8" y1="340.4" x2="577.8" y2="347.6" stroke="#555" stroke-width="0.5" stroke-opacity="0.6"/>
<line x1="551.2" y1="342.4" x2="551.2" y2="347" stroke="#555" stroke-width="0.5" stroke-opacity="0.6"/>
<line x1="567.7" y1="345.6" x2="567.7" y2="355.2" stroke="#555" stroke-width="0.5" stroke-opacity="0.6"/>
<line x1="617.4" y1="346.9" x2="617.4" y2="347.7" stroke="#555" stroke-width="0.5" stroke-opacity="0.6"/>
<line x1="609" y1="346.9" x2="609" y2="347.5" stroke="#555" stroke-width="0.5" stroke-opacity="0.6"/>
<line x1="548" y1="343.7" x2="548" y2="348.4" stroke="#555" stroke-width="0.5" stroke-opacity="0.6"/>
<line x1="622.4" y1="338.2" x2="622.4" y2="347.2" stroke="#555" stroke-width="0.5" stroke-opacity="0.6"/>
<line x1="200.7" y1="273.5" x2="194.2" y2="281.4" stroke="#3b90dc" stroke-width="0.9"/>
<polygon points="190.8,285.5 192.5,278.1 197.8,282.4" fill="#1f7fcf"/>
<line x1="200.5" y1="324.2" x2="194.2" y2="331.6" stroke="#3b90dc" stroke-width="0.9"/>
<polygon points="190.8,335.6 192.6,328.2 197.8,332.6" fill="#1f7fcf"/>
<line x1="500.8" y1="270" x2="494.6" y2="277.2" stroke="#3b90dc" stroke-width="0.9"/>
<polygon points="491.2,281.2 493,273.8 498.2,278.2" fill="#1f7fcf"/>
<line x1="521.2" y1="278.3" x2="514.8" y2="285.4" stroke="#3b90dc" stroke-width="0.9"/>
<polygon points="511.3,289.3 513.3,282 518.4,286.5" fill="#1f7fcf"/>
<line x1="501.2" y1="320" x2="494.7" y2="327.4" stroke="#3b90dc" stroke-width="0.9"/>
<polygon points="491.2,331.4 493.1,324 498.2,328.5" fill="#1f7fcf"/>
<line x1="521.3" y1="320.9" x2="515.1" y2="328.2" stroke="#3b90dc" stroke-width="0.9"/>
<polygon points="511.7,332.3 513.5,324.9 518.7,329.3" fill="#1f7fcf"/>
</svg></body></html>
